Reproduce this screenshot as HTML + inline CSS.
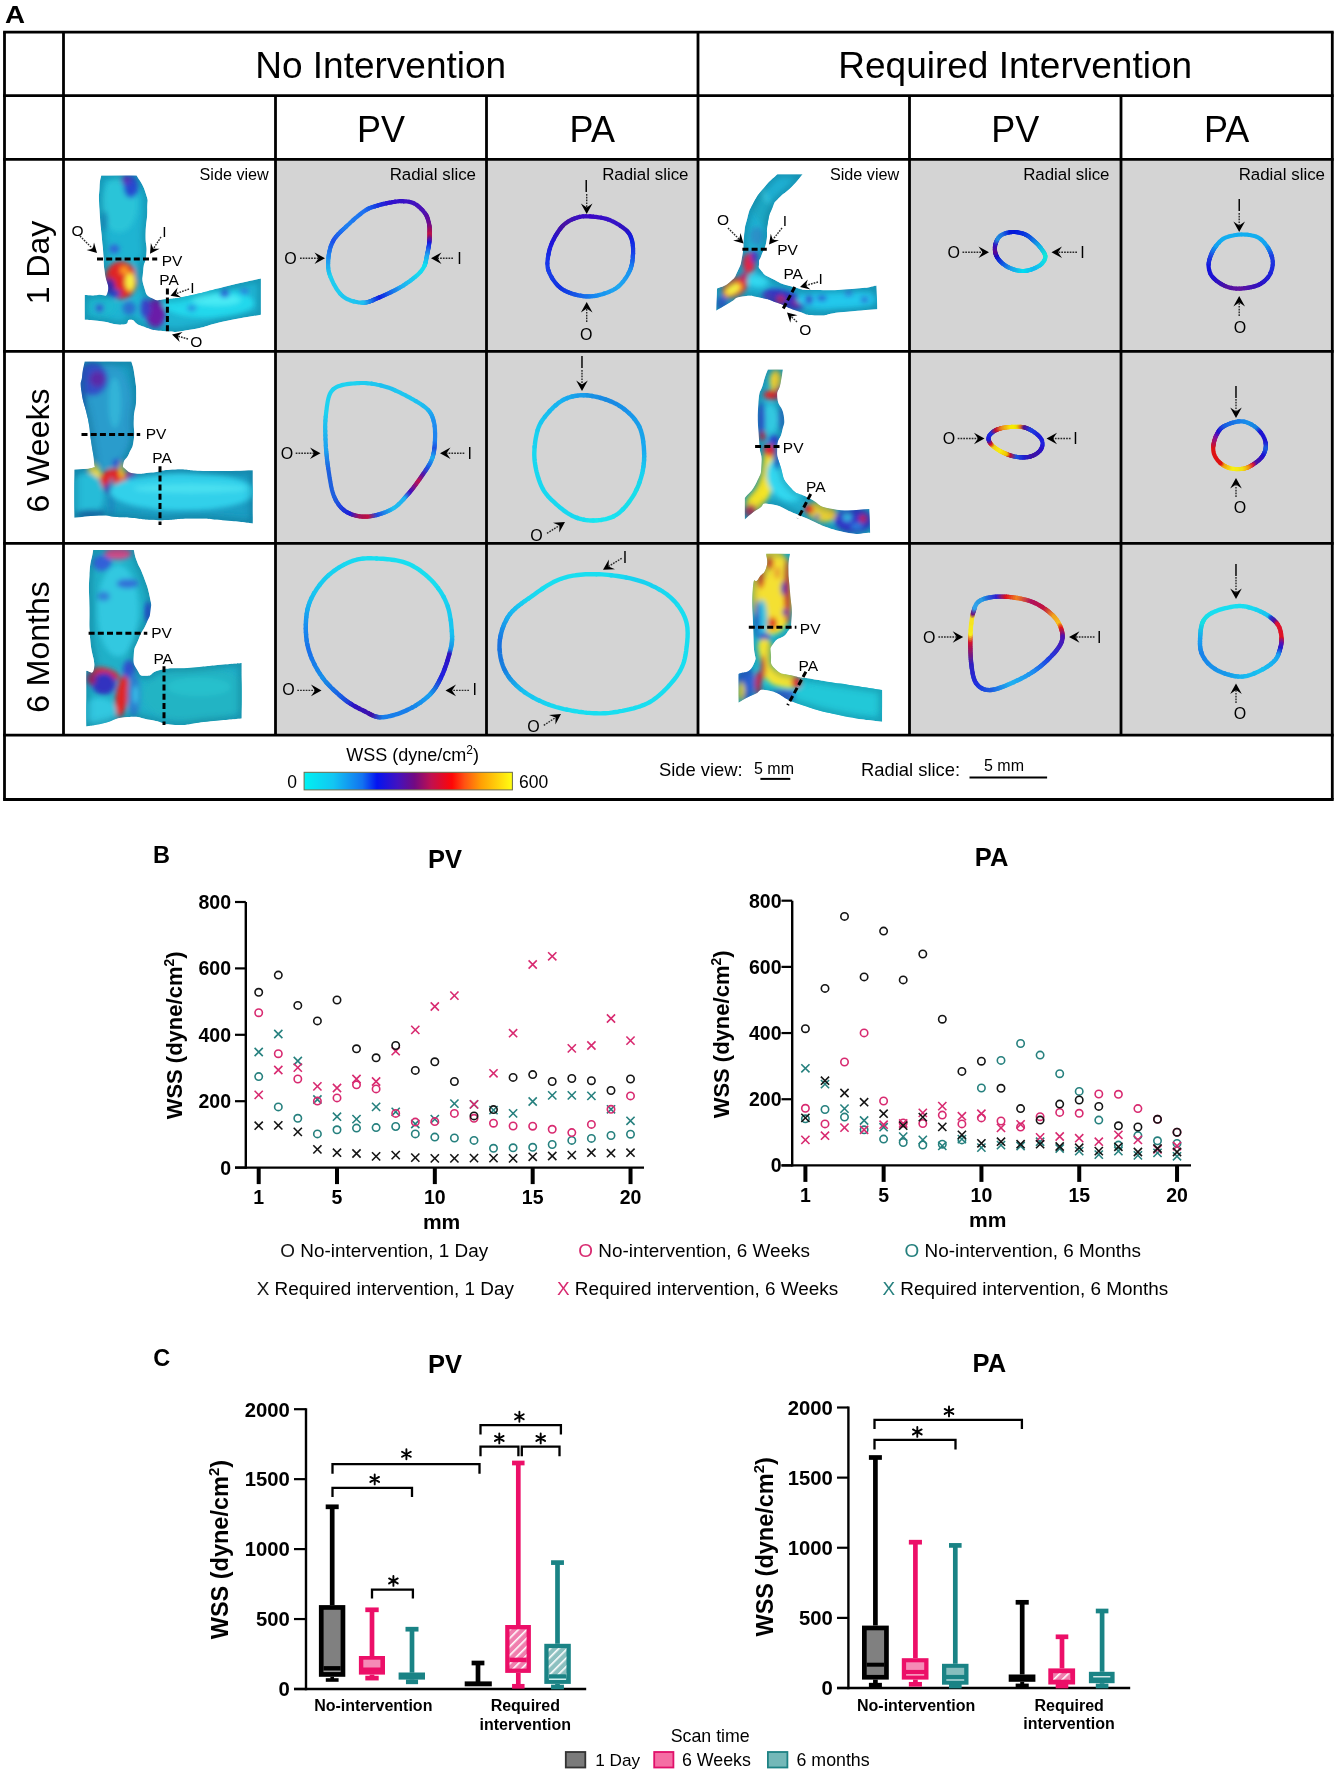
<!DOCTYPE html>
<html><head><meta charset="utf-8"><style>
html,body{margin:0;padding:0;background:#fff;overflow:hidden;width:1336px;height:1772px;}
svg{display:block;font-family:"Liberation Sans", sans-serif;will-change:transform;}
</style></head><body>
<svg width="1336" height="1772" viewBox="0 0 1336 1772">
<rect x="0" y="0" width="1336" height="1772" fill="#fff"/>
<rect x="275.5" y="159.3" width="422.5" height="575.9000000000001" fill="#d4d4d4" stroke="none" stroke-width="0" />
<rect x="909.5" y="159.3" width="422.79999999999995" height="575.9000000000001" fill="#d4d4d4" stroke="none" stroke-width="0" />
<line x1="3.1" y1="32.2" x2="1333.7" y2="32.2" stroke="#000" stroke-width="2.8" />
<line x1="3.1" y1="95.7" x2="1333.7" y2="95.7" stroke="#000" stroke-width="2.8" />
<line x1="3.1" y1="159.3" x2="1333.7" y2="159.3" stroke="#000" stroke-width="2.8" />
<line x1="3.1" y1="351.4" x2="1333.7" y2="351.4" stroke="#000" stroke-width="2.8" />
<line x1="3.1" y1="543.3" x2="1333.7" y2="543.3" stroke="#000" stroke-width="2.8" />
<line x1="3.1" y1="735.2" x2="1333.7" y2="735.2" stroke="#000" stroke-width="2.8" />
<line x1="3.1" y1="799.5" x2="1333.7" y2="799.5" stroke="#000" stroke-width="2.8" />
<line x1="4.5" y1="32.2" x2="4.5" y2="799.5" stroke="#000" stroke-width="2.8" />
<line x1="1332.3" y1="32.2" x2="1332.3" y2="799.5" stroke="#000" stroke-width="2.8" />
<line x1="63.5" y1="32.2" x2="63.5" y2="735.2" stroke="#000" stroke-width="2.8" />
<line x1="698" y1="32.2" x2="698" y2="735.2" stroke="#000" stroke-width="2.8" />
<line x1="275.5" y1="95.7" x2="275.5" y2="735.2" stroke="#000" stroke-width="2.8" />
<line x1="486.5" y1="95.7" x2="486.5" y2="735.2" stroke="#000" stroke-width="2.8" />
<line x1="909.5" y1="95.7" x2="909.5" y2="735.2" stroke="#000" stroke-width="2.8" />
<line x1="1121" y1="95.7" x2="1121" y2="735.2" stroke="#000" stroke-width="2.8" />
<text x="5" y="22.9" font-size="23.5" font-weight="bold" transform="translate(5 0) scale(1.18 1) translate(-5 0)">A</text>
<text x="380.7" y="78" font-size="37" text-anchor="middle" font-weight="normal" fill="#000" >No Intervention</text>
<text x="1015.2" y="78" font-size="37" text-anchor="middle" font-weight="normal" fill="#000" >Required Intervention</text>
<text x="381.0" y="141.5" font-size="36" text-anchor="middle" font-weight="normal" fill="#000" >PV</text>
<text x="592.25" y="141.5" font-size="36" text-anchor="middle" font-weight="normal" fill="#000" >PA</text>
<text x="1015.25" y="141.5" font-size="36" text-anchor="middle" font-weight="normal" fill="#000" >PV</text>
<text x="1226.65" y="141.5" font-size="36" text-anchor="middle" font-weight="normal" fill="#000" >PA</text>
<text x="49" y="262.5" font-size="32" text-anchor="middle" transform="rotate(-90 49 262.5)">1 Day</text>
<text x="49" y="450.5" font-size="32" text-anchor="middle" transform="rotate(-90 49 450.5)">6 Weeks</text>
<text x="49" y="647" font-size="32" text-anchor="middle" transform="rotate(-90 49 647)">6 Months</text>
<text x="268.8" y="179.7" font-size="16.2" text-anchor="end" font-weight="normal" fill="#000" >Side view</text>
<text x="899.2" y="179.7" font-size="16.2" text-anchor="end" font-weight="normal" fill="#000" >Side view</text>
<text x="476" y="179.7" font-size="16.9" text-anchor="end" font-weight="normal" fill="#000" >Radial slice</text>
<text x="688.5" y="179.7" font-size="16.9" text-anchor="end" font-weight="normal" fill="#000" >Radial slice</text>
<text x="1109.5" y="179.7" font-size="16.9" text-anchor="end" font-weight="normal" fill="#000" >Radial slice</text>
<text x="1325" y="179.7" font-size="16.9" text-anchor="end" font-weight="normal" fill="#000" >Radial slice</text>
<defs><linearGradient id="wss" x1="0" x2="1" y1="0" y2="0">
<stop offset="0" stop-color="#00f2f2"/><stop offset="0.14" stop-color="#12c6f2"/>
<stop offset="0.28" stop-color="#1272f0"/><stop offset="0.35" stop-color="#0414f0"/>
<stop offset="0.45" stop-color="#4212c0"/><stop offset="0.53" stop-color="#720a82"/>
<stop offset="0.61" stop-color="#c01050"/><stop offset="0.71" stop-color="#ff0606"/>
<stop offset="0.77" stop-color="#ff5212"/><stop offset="0.85" stop-color="#ffa004"/>
<stop offset="1" stop-color="#ffff12"/></linearGradient></defs>
<rect x="304.1" y="772.3" width="208.3" height="17.6" fill="url(#wss)" stroke="#6b6b4a" stroke-width="1" />
<text x="412.7" y="761.4" font-size="18" text-anchor="middle" font-weight="normal" fill="#000" >WSS (dyne/cm<tspan font-size="12" dy="-7">2</tspan><tspan dy="7">)</tspan></text>
<text x="292" y="787.5" font-size="17.5" text-anchor="middle" font-weight="normal" fill="#000" >0</text>
<text x="533.7" y="787.5" font-size="17.5" text-anchor="middle" font-weight="normal" fill="#000" >600</text>
<text x="658.9" y="775.5" font-size="18.4" text-anchor="start" font-weight="normal" fill="#000" >Side view:</text>
<text x="774" y="774.2" font-size="16" text-anchor="middle" font-weight="normal" fill="#000" >5 mm</text>
<line x1="760.4" y1="778.9" x2="790.3" y2="778.9" stroke="#000" stroke-width="2" />
<text x="861" y="775.5" font-size="18.4" text-anchor="start" font-weight="normal" fill="#000" >Radial slice:</text>
<text x="1004" y="770.8" font-size="16" text-anchor="middle" font-weight="normal" fill="#000" >5 mm</text>
<line x1="969.5" y1="777.4" x2="1047.1" y2="777.4" stroke="#000" stroke-width="2" />
<path d="M401.7,201.2 L402.6,201.2 L403.5,201.3" stroke="#3612c6" stroke-width="4.2" fill="none" stroke-linecap="round" stroke-linejoin="round"/>
<path d="M403.5,201.3 L404.4,201.3 L405.3,201.4 L406.2,201.4 L407.1,201.5 L408.1,201.6 L409.0,201.8 L409.9,202.0" stroke="#3c12c6" stroke-width="4.2" fill="none" stroke-linecap="round" stroke-linejoin="round"/>
<path d="M409.9,202.0 L410.8,202.2 L411.7,202.4 L412.6,202.7 L413.5,203.1" stroke="#3c12c0" stroke-width="4.2" fill="none" stroke-linecap="round" stroke-linejoin="round"/>
<path d="M413.5,203.1 L414.3,203.5 L415.1,204.0 L416.0,204.5 L416.9,205.1" stroke="#4212c0" stroke-width="4.2" fill="none" stroke-linecap="round" stroke-linejoin="round"/>
<path d="M416.9,205.1 L417.7,205.8 L418.6,206.4" stroke="#4212ba" stroke-width="4.2" fill="none" stroke-linecap="round" stroke-linejoin="round"/>
<path d="M418.6,206.4 L419.4,207.2 L420.2,207.9 L421.0,208.7" stroke="#4812ba" stroke-width="4.2" fill="none" stroke-linecap="round" stroke-linejoin="round"/>
<path d="M421.0,208.7 L421.8,209.5 L422.6,210.3" stroke="#4812b4" stroke-width="4.2" fill="none" stroke-linecap="round" stroke-linejoin="round"/>
<path d="M422.6,210.3 L423.3,211.1 L423.9,211.9 L424.5,212.7 L425.1,213.4" stroke="#4e12b4" stroke-width="4.2" fill="none" stroke-linecap="round" stroke-linejoin="round"/>
<path d="M425.1,213.4 L425.6,214.1" stroke="#4e12ae" stroke-width="4.2" fill="none" stroke-linecap="round" stroke-linejoin="round"/>
<path d="M425.6,214.1 L426.1,214.9 L426.5,215.6" stroke="#5412ae" stroke-width="4.2" fill="none" stroke-linecap="round" stroke-linejoin="round"/>
<path d="M426.5,215.6 L426.8,216.4" stroke="#540ca8" stroke-width="4.2" fill="none" stroke-linecap="round" stroke-linejoin="round"/>
<path d="M426.8,216.4 L427.2,217.2" stroke="#5a0ca8" stroke-width="4.2" fill="none" stroke-linecap="round" stroke-linejoin="round"/>
<path d="M427.2,217.2 L427.5,217.9 L427.7,218.7" stroke="#5a0ca2" stroke-width="4.2" fill="none" stroke-linecap="round" stroke-linejoin="round"/>
<path d="M427.7,218.7 L428.0,219.5" stroke="#600ca2" stroke-width="4.2" fill="none" stroke-linecap="round" stroke-linejoin="round"/>
<path d="M428.0,219.5 L428.2,220.2 L428.4,221.0 L428.6,221.8" stroke="#600c9c" stroke-width="4.2" fill="none" stroke-linecap="round" stroke-linejoin="round"/>
<path d="M428.6,221.8 L428.8,222.6 L428.9,223.3" stroke="#660c96" stroke-width="4.2" fill="none" stroke-linecap="round" stroke-linejoin="round"/>
<path d="M428.9,223.3 L429.1,224.1" stroke="#660c90" stroke-width="4.2" fill="none" stroke-linecap="round" stroke-linejoin="round"/>
<path d="M429.1,224.1 L429.2,224.9" stroke="#6c0c90" stroke-width="4.2" fill="none" stroke-linecap="round" stroke-linejoin="round"/>
<path d="M429.2,224.9 L429.4,225.7" stroke="#720c8a" stroke-width="4.2" fill="none" stroke-linecap="round" stroke-linejoin="round"/>
<path d="M429.4,225.7 L429.5,226.4" stroke="#780c84" stroke-width="4.2" fill="none" stroke-linecap="round" stroke-linejoin="round"/>
<path d="M429.5,226.4 L429.5,227.2" stroke="#7e0c7e" stroke-width="4.2" fill="none" stroke-linecap="round" stroke-linejoin="round"/>
<path d="M429.5,227.2 L429.6,228.0" stroke="#840c78" stroke-width="4.2" fill="none" stroke-linecap="round" stroke-linejoin="round"/>
<path d="M429.6,228.0 L429.6,228.8" stroke="#8a0c72" stroke-width="4.2" fill="none" stroke-linecap="round" stroke-linejoin="round"/>
<path d="M429.6,228.8 L429.6,229.6" stroke="#900c6c" stroke-width="4.2" fill="none" stroke-linecap="round" stroke-linejoin="round"/>
<path d="M429.6,229.6 L429.6,230.4" stroke="#960c66" stroke-width="4.2" fill="none" stroke-linecap="round" stroke-linejoin="round"/>
<path d="M429.6,230.4 L429.6,231.2" stroke="#9c0c60" stroke-width="4.2" fill="none" stroke-linecap="round" stroke-linejoin="round"/>
<path d="M429.6,231.2 L429.6,231.9" stroke="#a20c5a" stroke-width="4.2" fill="none" stroke-linecap="round" stroke-linejoin="round"/>
<path d="M429.6,231.9 L429.6,232.7" stroke="#a80c54" stroke-width="4.2" fill="none" stroke-linecap="round" stroke-linejoin="round"/>
<path d="M429.6,232.7 L429.6,233.5" stroke="#ae0c54" stroke-width="4.2" fill="none" stroke-linecap="round" stroke-linejoin="round"/>
<path d="M429.6,233.5 L429.6,234.2" stroke="#b4124e" stroke-width="4.2" fill="none" stroke-linecap="round" stroke-linejoin="round"/>
<path d="M429.6,234.2 L429.6,234.9" stroke="#ba1248" stroke-width="4.2" fill="none" stroke-linecap="round" stroke-linejoin="round"/>
<path d="M429.6,234.9 L429.6,235.6" stroke="#c01242" stroke-width="4.2" fill="none" stroke-linecap="round" stroke-linejoin="round"/>
<path d="M429.6,235.6 L429.6,236.3" stroke="#b4124e" stroke-width="4.2" fill="none" stroke-linecap="round" stroke-linejoin="round"/>
<path d="M429.6,236.3 L429.6,236.9" stroke="#a81254" stroke-width="4.2" fill="none" stroke-linecap="round" stroke-linejoin="round"/>
<path d="M429.6,236.9 L429.6,237.5" stroke="#9c1260" stroke-width="4.2" fill="none" stroke-linecap="round" stroke-linejoin="round"/>
<path d="M429.6,237.5 L429.6,238.1" stroke="#90126c" stroke-width="4.2" fill="none" stroke-linecap="round" stroke-linejoin="round"/>
<path d="M429.6,238.1 L429.5,238.7" stroke="#841278" stroke-width="4.2" fill="none" stroke-linecap="round" stroke-linejoin="round"/>
<path d="M429.5,238.7 L429.5,239.3" stroke="#781284" stroke-width="4.2" fill="none" stroke-linecap="round" stroke-linejoin="round"/>
<path d="M429.5,239.3 L429.5,239.9" stroke="#6c1290" stroke-width="4.2" fill="none" stroke-linecap="round" stroke-linejoin="round"/>
<path d="M429.5,239.9 L429.4,240.6" stroke="#60129c" stroke-width="4.2" fill="none" stroke-linecap="round" stroke-linejoin="round"/>
<path d="M429.4,240.6 L429.4,241.2" stroke="#5418a8" stroke-width="4.2" fill="none" stroke-linecap="round" stroke-linejoin="round"/>
<path d="M429.4,241.2 L429.3,241.8" stroke="#4818b4" stroke-width="4.2" fill="none" stroke-linecap="round" stroke-linejoin="round"/>
<path d="M429.3,241.8 L429.3,242.5" stroke="#3c18c0" stroke-width="4.2" fill="none" stroke-linecap="round" stroke-linejoin="round"/>
<path d="M429.3,242.5 L429.2,243.2" stroke="#3018cc" stroke-width="4.2" fill="none" stroke-linecap="round" stroke-linejoin="round"/>
<path d="M429.2,243.2 L429.1,243.9" stroke="#2418d2" stroke-width="4.2" fill="none" stroke-linecap="round" stroke-linejoin="round"/>
<path d="M429.1,243.9 L429.0,244.7" stroke="#1818de" stroke-width="4.2" fill="none" stroke-linecap="round" stroke-linejoin="round"/>
<path d="M429.0,244.7 L428.9,245.4" stroke="#1824e4" stroke-width="4.2" fill="none" stroke-linecap="round" stroke-linejoin="round"/>
<path d="M428.9,245.4 L428.8,246.2" stroke="#182ae4" stroke-width="4.2" fill="none" stroke-linecap="round" stroke-linejoin="round"/>
<path d="M428.8,246.2 L428.6,247.1" stroke="#1836e4" stroke-width="4.2" fill="none" stroke-linecap="round" stroke-linejoin="round"/>
<path d="M428.6,247.1 L428.5,247.9" stroke="#183ce4" stroke-width="4.2" fill="none" stroke-linecap="round" stroke-linejoin="round"/>
<path d="M428.5,247.9 L428.3,248.8" stroke="#1848e4" stroke-width="4.2" fill="none" stroke-linecap="round" stroke-linejoin="round"/>
<path d="M428.3,248.8 L428.1,249.6" stroke="#1e54e4" stroke-width="4.2" fill="none" stroke-linecap="round" stroke-linejoin="round"/>
<path d="M428.1,249.6 L428.0,250.5" stroke="#1e5aea" stroke-width="4.2" fill="none" stroke-linecap="round" stroke-linejoin="round"/>
<path d="M428.0,250.5 L427.8,251.4" stroke="#1e66ea" stroke-width="4.2" fill="none" stroke-linecap="round" stroke-linejoin="round"/>
<path d="M427.8,251.4 L427.6,252.3" stroke="#1e72ea" stroke-width="4.2" fill="none" stroke-linecap="round" stroke-linejoin="round"/>
<path d="M427.6,252.3 L427.4,253.1" stroke="#1e78ea" stroke-width="4.2" fill="none" stroke-linecap="round" stroke-linejoin="round"/>
<path d="M427.4,253.1 L427.3,254.0" stroke="#1e84ea" stroke-width="4.2" fill="none" stroke-linecap="round" stroke-linejoin="round"/>
<path d="M427.3,254.0 L427.1,254.8" stroke="#1e8af0" stroke-width="4.2" fill="none" stroke-linecap="round" stroke-linejoin="round"/>
<path d="M427.1,254.8 L426.9,255.6" stroke="#1e96f0" stroke-width="4.2" fill="none" stroke-linecap="round" stroke-linejoin="round"/>
<path d="M426.9,255.6 L426.7,256.4 L426.6,257.2" stroke="#1ea2f0" stroke-width="4.2" fill="none" stroke-linecap="round" stroke-linejoin="round"/>
<path d="M426.6,257.2 L426.4,258.0" stroke="#1ea8f0" stroke-width="4.2" fill="none" stroke-linecap="round" stroke-linejoin="round"/>
<path d="M426.4,258.0 L426.3,258.8" stroke="#1eaef0" stroke-width="4.2" fill="none" stroke-linecap="round" stroke-linejoin="round"/>
<path d="M426.3,258.8 L426.2,259.6" stroke="#1eb4f0" stroke-width="4.2" fill="none" stroke-linecap="round" stroke-linejoin="round"/>
<path d="M426.2,259.6 L426.0,260.3" stroke="#18b4f0" stroke-width="4.2" fill="none" stroke-linecap="round" stroke-linejoin="round"/>
<path d="M426.0,260.3 L425.9,261.1" stroke="#18baf0" stroke-width="4.2" fill="none" stroke-linecap="round" stroke-linejoin="round"/>
<path d="M425.9,261.1 L425.7,261.9" stroke="#18c0f0" stroke-width="4.2" fill="none" stroke-linecap="round" stroke-linejoin="round"/>
<path d="M425.7,261.9 L425.5,262.6" stroke="#18c6f0" stroke-width="4.2" fill="none" stroke-linecap="round" stroke-linejoin="round"/>
<path d="M425.5,262.6 L425.3,263.4" stroke="#18ccf0" stroke-width="4.2" fill="none" stroke-linecap="round" stroke-linejoin="round"/>
<path d="M425.3,263.4 L425.1,264.1" stroke="#12ccf0" stroke-width="4.2" fill="none" stroke-linecap="round" stroke-linejoin="round"/>
<path d="M425.1,264.1 L424.8,264.9" stroke="#12d2f0" stroke-width="4.2" fill="none" stroke-linecap="round" stroke-linejoin="round"/>
<path d="M424.8,264.9 L424.5,265.6" stroke="#12d8f0" stroke-width="4.2" fill="none" stroke-linecap="round" stroke-linejoin="round"/>
<path d="M424.5,265.6 L424.2,266.3 L423.8,267.0 L423.5,267.7 L423.1,268.3 L422.7,268.9 L422.3,269.5 L421.9,270.1 L421.4,270.7 L421.0,271.3 L420.4,272.0" stroke="#12def0" stroke-width="4.2" fill="none" stroke-linecap="round" stroke-linejoin="round"/>
<path d="M420.4,272.0 L419.8,272.6 L419.2,273.2 L418.5,273.9 L417.8,274.6 L417.0,275.3 L416.1,276.1 L415.2,276.8" stroke="#18d8f0" stroke-width="4.2" fill="none" stroke-linecap="round" stroke-linejoin="round"/>
<path d="M415.2,276.8 L414.2,277.6 L413.2,278.5" stroke="#18d2f0" stroke-width="4.2" fill="none" stroke-linecap="round" stroke-linejoin="round"/>
<path d="M413.2,278.5 L412.1,279.3 L411.0,280.2" stroke="#18ccf0" stroke-width="4.2" fill="none" stroke-linecap="round" stroke-linejoin="round"/>
<path d="M411.0,280.2 L409.9,281.0 L408.6,281.9" stroke="#1ec6f0" stroke-width="4.2" fill="none" stroke-linecap="round" stroke-linejoin="round"/>
<path d="M408.6,281.9 L407.4,282.8 L406.1,283.6" stroke="#1ec0f0" stroke-width="4.2" fill="none" stroke-linecap="round" stroke-linejoin="round"/>
<path d="M406.1,283.6 L404.8,284.5 L403.5,285.4" stroke="#1ebaf0" stroke-width="4.2" fill="none" stroke-linecap="round" stroke-linejoin="round"/>
<path d="M403.5,285.4 L402.2,286.2 L400.8,287.0" stroke="#1eb4f0" stroke-width="4.2" fill="none" stroke-linecap="round" stroke-linejoin="round"/>
<path d="M400.8,287.0 L399.4,287.8" stroke="#1eaef0" stroke-width="4.2" fill="none" stroke-linecap="round" stroke-linejoin="round"/>
<path d="M399.4,287.8 L397.9,288.6" stroke="#1ea8f0" stroke-width="4.2" fill="none" stroke-linecap="round" stroke-linejoin="round"/>
<path d="M397.9,288.6 L396.3,289.5" stroke="#1e9cf0" stroke-width="4.2" fill="none" stroke-linecap="round" stroke-linejoin="round"/>
<path d="M396.3,289.5 L394.7,290.3" stroke="#1e90ea" stroke-width="4.2" fill="none" stroke-linecap="round" stroke-linejoin="round"/>
<path d="M394.7,290.3 L393.0,291.2" stroke="#1e84ea" stroke-width="4.2" fill="none" stroke-linecap="round" stroke-linejoin="round"/>
<path d="M393.0,291.2 L391.3,292.0" stroke="#187eea" stroke-width="4.2" fill="none" stroke-linecap="round" stroke-linejoin="round"/>
<path d="M391.3,292.0 L389.6,292.8" stroke="#1872ea" stroke-width="4.2" fill="none" stroke-linecap="round" stroke-linejoin="round"/>
<path d="M389.6,292.8 L387.9,293.6" stroke="#1866ea" stroke-width="4.2" fill="none" stroke-linecap="round" stroke-linejoin="round"/>
<path d="M387.9,293.6 L386.2,294.4" stroke="#1860e4" stroke-width="4.2" fill="none" stroke-linecap="round" stroke-linejoin="round"/>
<path d="M386.2,294.4 L384.5,295.2" stroke="#1854e4" stroke-width="4.2" fill="none" stroke-linecap="round" stroke-linejoin="round"/>
<path d="M384.5,295.2 L382.9,295.9" stroke="#1248e4" stroke-width="4.2" fill="none" stroke-linecap="round" stroke-linejoin="round"/>
<path d="M382.9,295.9 L381.3,296.6" stroke="#123ce4" stroke-width="4.2" fill="none" stroke-linecap="round" stroke-linejoin="round"/>
<path d="M381.3,296.6 L379.8,297.2" stroke="#1236e4" stroke-width="4.2" fill="none" stroke-linecap="round" stroke-linejoin="round"/>
<path d="M379.8,297.2 L378.4,297.8" stroke="#122ae4" stroke-width="4.2" fill="none" stroke-linecap="round" stroke-linejoin="round"/>
<path d="M378.4,297.8 L377.1,298.4" stroke="#121ede" stroke-width="4.2" fill="none" stroke-linecap="round" stroke-linejoin="round"/>
<path d="M377.1,298.4 L375.8,298.9" stroke="#122ae4" stroke-width="4.2" fill="none" stroke-linecap="round" stroke-linejoin="round"/>
<path d="M375.8,298.9 L374.6,299.4" stroke="#1236e4" stroke-width="4.2" fill="none" stroke-linecap="round" stroke-linejoin="round"/>
<path d="M374.6,299.4 L373.4,300.0" stroke="#1242e4" stroke-width="4.2" fill="none" stroke-linecap="round" stroke-linejoin="round"/>
<path d="M373.4,300.0 L372.3,300.5" stroke="#124ee4" stroke-width="4.2" fill="none" stroke-linecap="round" stroke-linejoin="round"/>
<path d="M372.3,300.5 L371.2,300.9" stroke="#185ae4" stroke-width="4.2" fill="none" stroke-linecap="round" stroke-linejoin="round"/>
<path d="M371.2,300.9 L370.1,301.3" stroke="#1866e4" stroke-width="4.2" fill="none" stroke-linecap="round" stroke-linejoin="round"/>
<path d="M370.1,301.3 L369.1,301.7" stroke="#1872ea" stroke-width="4.2" fill="none" stroke-linecap="round" stroke-linejoin="round"/>
<path d="M369.1,301.7 L368.0,302.0" stroke="#187eea" stroke-width="4.2" fill="none" stroke-linecap="round" stroke-linejoin="round"/>
<path d="M368.0,302.0 L366.9,302.3" stroke="#1884ea" stroke-width="4.2" fill="none" stroke-linecap="round" stroke-linejoin="round"/>
<path d="M366.9,302.3 L365.8,302.5" stroke="#1e90ea" stroke-width="4.2" fill="none" stroke-linecap="round" stroke-linejoin="round"/>
<path d="M365.8,302.5 L364.6,302.7" stroke="#1e9cea" stroke-width="4.2" fill="none" stroke-linecap="round" stroke-linejoin="round"/>
<path d="M364.6,302.7 L363.5,302.7" stroke="#1ea8f0" stroke-width="4.2" fill="none" stroke-linecap="round" stroke-linejoin="round"/>
<path d="M363.5,302.7 L362.2,302.7" stroke="#1eb4f0" stroke-width="4.2" fill="none" stroke-linecap="round" stroke-linejoin="round"/>
<path d="M362.2,302.7 L360.9,302.6 L359.5,302.5 L358.1,302.3 L356.6,302.0 L355.1,301.7 L353.6,301.4" stroke="#1ec0f0" stroke-width="4.2" fill="none" stroke-linecap="round" stroke-linejoin="round"/>
<path d="M353.6,301.4 L352.1,301.0 L350.6,300.5 L349.2,299.9 L347.7,299.3 L346.3,298.6 L345.0,297.8 L343.7,296.9 L342.5,296.0 L341.4,294.9 L340.2,293.8" stroke="#1ec6f0" stroke-width="4.2" fill="none" stroke-linecap="round" stroke-linejoin="round"/>
<path d="M340.2,293.8 L339.1,292.4 L338.1,291.0 L337.0,289.5 L336.0,288.0 L335.1,286.3 L334.1,284.7 L333.3,283.1 L332.5,281.4 L331.7,279.8 L331.1,278.2 L330.4,276.7" stroke="#1eccf0" stroke-width="4.2" fill="none" stroke-linecap="round" stroke-linejoin="round"/>
<path d="M330.4,276.7 L329.9,275.3 L329.4,273.9" stroke="#1ed2f0" stroke-width="4.2" fill="none" stroke-linecap="round" stroke-linejoin="round"/>
<path d="M329.4,273.9 L329.1,272.6" stroke="#1eccf0" stroke-width="4.2" fill="none" stroke-linecap="round" stroke-linejoin="round"/>
<path d="M329.1,272.6 L328.7,271.3" stroke="#1ec6f0" stroke-width="4.2" fill="none" stroke-linecap="round" stroke-linejoin="round"/>
<path d="M328.7,271.3 L328.5,270.0 L328.3,268.7" stroke="#1ec0f0" stroke-width="4.2" fill="none" stroke-linecap="round" stroke-linejoin="round"/>
<path d="M328.3,268.7 L328.2,267.4" stroke="#1ebaf0" stroke-width="4.2" fill="none" stroke-linecap="round" stroke-linejoin="round"/>
<path d="M328.2,267.4 L328.1,266.1" stroke="#1eb4f0" stroke-width="4.2" fill="none" stroke-linecap="round" stroke-linejoin="round"/>
<path d="M328.1,266.1 L328.1,264.9 L328.1,263.6" stroke="#1eaef0" stroke-width="4.2" fill="none" stroke-linecap="round" stroke-linejoin="round"/>
<path d="M328.1,263.6 L328.1,262.4" stroke="#1ea8f0" stroke-width="4.2" fill="none" stroke-linecap="round" stroke-linejoin="round"/>
<path d="M328.1,262.4 L328.2,261.1" stroke="#1ea2f0" stroke-width="4.2" fill="none" stroke-linecap="round" stroke-linejoin="round"/>
<path d="M328.2,261.1 L328.3,259.9 L328.4,258.6" stroke="#1e9cf0" stroke-width="4.2" fill="none" stroke-linecap="round" stroke-linejoin="round"/>
<path d="M328.4,258.6 L328.5,257.4" stroke="#1e96f0" stroke-width="4.2" fill="none" stroke-linecap="round" stroke-linejoin="round"/>
<path d="M328.5,257.4 L328.6,256.1" stroke="#1e90f0" stroke-width="4.2" fill="none" stroke-linecap="round" stroke-linejoin="round"/>
<path d="M328.6,256.1 L328.8,254.9" stroke="#1e8af0" stroke-width="4.2" fill="none" stroke-linecap="round" stroke-linejoin="round"/>
<path d="M328.8,254.9 L329.0,253.6 L329.2,252.4" stroke="#1e84f0" stroke-width="4.2" fill="none" stroke-linecap="round" stroke-linejoin="round"/>
<path d="M329.2,252.4 L329.5,251.1" stroke="#1e7ef0" stroke-width="4.2" fill="none" stroke-linecap="round" stroke-linejoin="round"/>
<path d="M329.5,251.1 L329.8,249.9" stroke="#1e78f0" stroke-width="4.2" fill="none" stroke-linecap="round" stroke-linejoin="round"/>
<path d="M329.8,249.9 L330.1,248.6 L330.4,247.4" stroke="#1e72ea" stroke-width="4.2" fill="none" stroke-linecap="round" stroke-linejoin="round"/>
<path d="M330.4,247.4 L330.8,246.2" stroke="#1e6cea" stroke-width="4.2" fill="none" stroke-linecap="round" stroke-linejoin="round"/>
<path d="M330.8,246.2 L331.3,245.0" stroke="#1e66ea" stroke-width="4.2" fill="none" stroke-linecap="round" stroke-linejoin="round"/>
<path d="M331.3,245.0 L331.8,243.8 L332.3,242.6" stroke="#1e60ea" stroke-width="4.2" fill="none" stroke-linecap="round" stroke-linejoin="round"/>
<path d="M332.3,242.6 L332.9,241.4" stroke="#1e5aea" stroke-width="4.2" fill="none" stroke-linecap="round" stroke-linejoin="round"/>
<path d="M332.9,241.4 L333.5,240.3" stroke="#1e54ea" stroke-width="4.2" fill="none" stroke-linecap="round" stroke-linejoin="round"/>
<path d="M333.5,240.3 L334.2,239.2" stroke="#1e4eea" stroke-width="4.2" fill="none" stroke-linecap="round" stroke-linejoin="round"/>
<path d="M334.2,239.2 L334.9,238.1 L335.7,237.1" stroke="#1e54ea" stroke-width="4.2" fill="none" stroke-linecap="round" stroke-linejoin="round"/>
<path d="M335.7,237.1 L336.6,236.0" stroke="#1e5aea" stroke-width="4.2" fill="none" stroke-linecap="round" stroke-linejoin="round"/>
<path d="M336.6,236.0 L337.5,235.0 L338.4,234.0" stroke="#1e60ea" stroke-width="4.2" fill="none" stroke-linecap="round" stroke-linejoin="round"/>
<path d="M338.4,234.0 L339.4,233.0 L340.4,232.0" stroke="#1e66ea" stroke-width="4.2" fill="none" stroke-linecap="round" stroke-linejoin="round"/>
<path d="M340.4,232.0 L341.4,231.0" stroke="#1e6cea" stroke-width="4.2" fill="none" stroke-linecap="round" stroke-linejoin="round"/>
<path d="M341.4,231.0 L342.5,230.0" stroke="#1e6cf0" stroke-width="4.2" fill="none" stroke-linecap="round" stroke-linejoin="round"/>
<path d="M342.5,230.0 L343.6,229.0" stroke="#1e72f0" stroke-width="4.2" fill="none" stroke-linecap="round" stroke-linejoin="round"/>
<path d="M343.6,229.0 L344.7,228.0 L345.8,226.9" stroke="#1e78f0" stroke-width="4.2" fill="none" stroke-linecap="round" stroke-linejoin="round"/>
<path d="M345.8,226.9 L346.9,225.9 L348.1,224.8 L349.3,223.7 L350.5,222.5 L351.8,221.3 L353.2,220.1" stroke="#1e7ef0" stroke-width="4.2" fill="none" stroke-linecap="round" stroke-linejoin="round"/>
<path d="M353.2,220.1 L354.5,218.9 L355.9,217.7 L357.3,216.6 L358.6,215.4 L360.0,214.4" stroke="#1e78f0" stroke-width="4.2" fill="none" stroke-linecap="round" stroke-linejoin="round"/>
<path d="M360.0,214.4 L361.3,213.3 L362.5,212.4 L363.7,211.5 L364.9,210.7 L366.0,210.0" stroke="#1e72f0" stroke-width="4.2" fill="none" stroke-linecap="round" stroke-linejoin="round"/>
<path d="M366.0,210.0 L367.1,209.4" stroke="#1e6cf0" stroke-width="4.2" fill="none" stroke-linecap="round" stroke-linejoin="round"/>
<path d="M367.1,209.4 L368.1,208.8" stroke="#1e66f0" stroke-width="4.2" fill="none" stroke-linecap="round" stroke-linejoin="round"/>
<path d="M368.1,208.8 L369.1,208.4" stroke="#1e66ea" stroke-width="4.2" fill="none" stroke-linecap="round" stroke-linejoin="round"/>
<path d="M369.1,208.4 L370.1,207.9" stroke="#1860ea" stroke-width="4.2" fill="none" stroke-linecap="round" stroke-linejoin="round"/>
<path d="M370.1,207.9 L371.1,207.6 L372.0,207.2" stroke="#185aea" stroke-width="4.2" fill="none" stroke-linecap="round" stroke-linejoin="round"/>
<path d="M372.0,207.2 L373.0,206.9" stroke="#1854ea" stroke-width="4.2" fill="none" stroke-linecap="round" stroke-linejoin="round"/>
<path d="M373.0,206.9 L373.9,206.6 L374.8,206.4" stroke="#184ee4" stroke-width="4.2" fill="none" stroke-linecap="round" stroke-linejoin="round"/>
<path d="M374.8,206.4 L375.7,206.1" stroke="#1848e4" stroke-width="4.2" fill="none" stroke-linecap="round" stroke-linejoin="round"/>
<path d="M375.7,206.1 L376.6,205.8 L377.5,205.6" stroke="#1842e4" stroke-width="4.2" fill="none" stroke-linecap="round" stroke-linejoin="round"/>
<path d="M377.5,205.6 L378.4,205.3" stroke="#183ce4" stroke-width="4.2" fill="none" stroke-linecap="round" stroke-linejoin="round"/>
<path d="M378.4,205.3 L379.3,205.0 L380.2,204.8" stroke="#1836de" stroke-width="4.2" fill="none" stroke-linecap="round" stroke-linejoin="round"/>
<path d="M380.2,204.8 L381.0,204.5 L381.9,204.3" stroke="#1e30de" stroke-width="4.2" fill="none" stroke-linecap="round" stroke-linejoin="round"/>
<path d="M381.9,204.3 L382.7,204.1" stroke="#1e2ade" stroke-width="4.2" fill="none" stroke-linecap="round" stroke-linejoin="round"/>
<path d="M382.7,204.1 L383.5,203.9" stroke="#1e2ad8" stroke-width="4.2" fill="none" stroke-linecap="round" stroke-linejoin="round"/>
<path d="M383.5,203.9 L384.4,203.7 L385.2,203.5 L386.0,203.4" stroke="#2424d8" stroke-width="4.2" fill="none" stroke-linecap="round" stroke-linejoin="round"/>
<path d="M386.0,203.4 L386.8,203.2" stroke="#2a1ed8" stroke-width="4.2" fill="none" stroke-linecap="round" stroke-linejoin="round"/>
<path d="M386.8,203.2 L387.6,203.0" stroke="#2a1ed2" stroke-width="4.2" fill="none" stroke-linecap="round" stroke-linejoin="round"/>
<path d="M387.6,203.0 L388.4,202.9 L389.3,202.7" stroke="#2a18d2" stroke-width="4.2" fill="none" stroke-linecap="round" stroke-linejoin="round"/>
<path d="M389.3,202.7 L390.1,202.6 L390.9,202.5 L391.8,202.3" stroke="#3012d2" stroke-width="4.2" fill="none" stroke-linecap="round" stroke-linejoin="round"/>
<path d="M391.8,202.3 L392.6,202.1 L393.4,202.0 L394.2,201.9 L395.0,201.7" stroke="#3012cc" stroke-width="4.2" fill="none" stroke-linecap="round" stroke-linejoin="round"/>
<path d="M395.0,201.7 L395.8,201.6 L396.7,201.5 L397.5,201.4 L398.3,201.3 L399.1,201.2 L400.0,201.2 L400.8,201.2" stroke="#3612cc" stroke-width="4.2" fill="none" stroke-linecap="round" stroke-linejoin="round"/>
<path d="M400.8,201.2 L401.7,201.2" stroke="#3612c6" stroke-width="4.2" fill="none" stroke-linecap="round" stroke-linejoin="round"/>
<line x1="300.0" y1="258.2" x2="318.5" y2="258.2" stroke="#2a2a2a" stroke-width="1.4" stroke-dasharray="1.7 1.1"/>
<path d="M325.0,258.2 L314.5,264.0 L318.5,258.2 L314.5,252.4 Z" fill="#000"/>
<text x="290.4" y="263.9" font-size="16" text-anchor="middle" font-weight="normal" fill="#000" >O</text>
<line x1="453.0" y1="258.2" x2="437.5" y2="258.2" stroke="#2a2a2a" stroke-width="1.4" stroke-dasharray="1.7 1.1"/>
<path d="M431.0,258.2 L441.5,252.4 L437.5,258.2 L441.5,264.0 Z" fill="#000"/>
<text x="459.5" y="263.9" font-size="16" text-anchor="middle" font-weight="normal" fill="#000" >I</text>
<path d="M591.0,216.5 L592.1,216.6 L593.3,216.7" stroke="#3c06c6" stroke-width="4.2" fill="none" stroke-linecap="round" stroke-linejoin="round"/>
<path d="M593.3,216.7 L594.6,216.8 L595.9,216.9 L597.2,217.1 L598.5,217.3 L599.8,217.5 L601.2,217.7" stroke="#3c0cc6" stroke-width="4.2" fill="none" stroke-linecap="round" stroke-linejoin="round"/>
<path d="M601.2,217.7 L602.6,218.0 L603.9,218.3 L605.2,218.6 L606.6,218.9 L607.8,219.4" stroke="#360cc6" stroke-width="4.2" fill="none" stroke-linecap="round" stroke-linejoin="round"/>
<path d="M607.8,219.4 L609.1,219.8 L610.4,220.3 L611.6,220.9 L612.9,221.5 L614.2,222.1 L615.5,222.8 L616.8,223.6 L618.1,224.3 L619.3,225.1 L620.5,225.9" stroke="#3612c6" stroke-width="4.2" fill="none" stroke-linecap="round" stroke-linejoin="round"/>
<path d="M620.5,225.9 L621.7,226.7 L622.8,227.5 L623.8,228.2 L624.7,229.0 L625.6,229.7 L626.4,230.4 L627.1,231.1" stroke="#3012c0" stroke-width="4.2" fill="none" stroke-linecap="round" stroke-linejoin="round"/>
<path d="M627.1,231.1 L627.7,231.7 L628.2,232.4" stroke="#2a12c6" stroke-width="4.2" fill="none" stroke-linecap="round" stroke-linejoin="round"/>
<path d="M628.2,232.4 L628.7,233.0" stroke="#2412cc" stroke-width="4.2" fill="none" stroke-linecap="round" stroke-linejoin="round"/>
<path d="M628.7,233.0 L629.2,233.7 L629.6,234.3" stroke="#2418cc" stroke-width="4.2" fill="none" stroke-linecap="round" stroke-linejoin="round"/>
<path d="M629.6,234.3 L630.0,235.0 L630.3,235.7 L630.6,236.4" stroke="#1e18d2" stroke-width="4.2" fill="none" stroke-linecap="round" stroke-linejoin="round"/>
<path d="M630.6,236.4 L630.9,237.2 L631.2,237.9" stroke="#181ed8" stroke-width="4.2" fill="none" stroke-linecap="round" stroke-linejoin="round"/>
<path d="M631.2,237.9 L631.4,238.7 L631.7,239.6 L632.0,240.5" stroke="#121ede" stroke-width="4.2" fill="none" stroke-linecap="round" stroke-linejoin="round"/>
<path d="M632.0,240.5 L632.2,241.4" stroke="#1224de" stroke-width="4.2" fill="none" stroke-linecap="round" stroke-linejoin="round"/>
<path d="M632.2,241.4 L632.4,242.4 L632.6,243.4" stroke="#1224e4" stroke-width="4.2" fill="none" stroke-linecap="round" stroke-linejoin="round"/>
<path d="M632.6,243.4 L632.7,244.5 L632.8,245.5" stroke="#122ae4" stroke-width="4.2" fill="none" stroke-linecap="round" stroke-linejoin="round"/>
<path d="M632.8,245.5 L632.9,246.6 L633.0,247.7 L633.1,248.8" stroke="#1230e4" stroke-width="4.2" fill="none" stroke-linecap="round" stroke-linejoin="round"/>
<path d="M633.1,248.8 L633.1,249.9 L633.1,251.0" stroke="#1836e4" stroke-width="4.2" fill="none" stroke-linecap="round" stroke-linejoin="round"/>
<path d="M633.1,251.0 L633.1,252.2 L633.1,253.3" stroke="#183ce4" stroke-width="4.2" fill="none" stroke-linecap="round" stroke-linejoin="round"/>
<path d="M633.1,253.3 L633.0,254.4" stroke="#183cea" stroke-width="4.2" fill="none" stroke-linecap="round" stroke-linejoin="round"/>
<path d="M633.0,254.4 L632.9,255.5" stroke="#1842ea" stroke-width="4.2" fill="none" stroke-linecap="round" stroke-linejoin="round"/>
<path d="M632.9,255.5 L632.8,256.7" stroke="#1848ea" stroke-width="4.2" fill="none" stroke-linecap="round" stroke-linejoin="round"/>
<path d="M632.8,256.7 L632.8,257.8" stroke="#184eea" stroke-width="4.2" fill="none" stroke-linecap="round" stroke-linejoin="round"/>
<path d="M632.8,257.8 L632.7,259.0 L632.5,260.2" stroke="#1854ea" stroke-width="4.2" fill="none" stroke-linecap="round" stroke-linejoin="round"/>
<path d="M632.5,260.2 L632.4,261.4" stroke="#185aea" stroke-width="4.2" fill="none" stroke-linecap="round" stroke-linejoin="round"/>
<path d="M632.4,261.4 L632.2,262.6" stroke="#1860ea" stroke-width="4.2" fill="none" stroke-linecap="round" stroke-linejoin="round"/>
<path d="M632.2,262.6 L632.0,263.7" stroke="#1866ea" stroke-width="4.2" fill="none" stroke-linecap="round" stroke-linejoin="round"/>
<path d="M632.0,263.7 L631.7,264.9" stroke="#186cea" stroke-width="4.2" fill="none" stroke-linecap="round" stroke-linejoin="round"/>
<path d="M631.7,264.9 L631.4,266.1" stroke="#1872f0" stroke-width="4.2" fill="none" stroke-linecap="round" stroke-linejoin="round"/>
<path d="M631.4,266.1 L631.1,267.3" stroke="#1878f0" stroke-width="4.2" fill="none" stroke-linecap="round" stroke-linejoin="round"/>
<path d="M631.1,267.3 L630.7,268.5" stroke="#187ef0" stroke-width="4.2" fill="none" stroke-linecap="round" stroke-linejoin="round"/>
<path d="M630.7,268.5 L630.2,269.7" stroke="#1884f0" stroke-width="4.2" fill="none" stroke-linecap="round" stroke-linejoin="round"/>
<path d="M630.2,269.7 L629.7,270.9" stroke="#188af0" stroke-width="4.2" fill="none" stroke-linecap="round" stroke-linejoin="round"/>
<path d="M629.7,270.9 L629.1,272.1 L628.5,273.3" stroke="#1890f0" stroke-width="4.2" fill="none" stroke-linecap="round" stroke-linejoin="round"/>
<path d="M628.5,273.3 L627.8,274.6 L627.1,275.8 L626.3,277.1 L625.4,278.4" stroke="#1896f0" stroke-width="4.2" fill="none" stroke-linecap="round" stroke-linejoin="round"/>
<path d="M625.4,278.4 L624.6,279.6 L623.7,280.8 L622.7,282.0" stroke="#1e9cf0" stroke-width="4.2" fill="none" stroke-linecap="round" stroke-linejoin="round"/>
<path d="M622.7,282.0 L621.7,283.2 L620.7,284.3 L619.6,285.4 L618.5,286.4" stroke="#1ea2f0" stroke-width="4.2" fill="none" stroke-linecap="round" stroke-linejoin="round"/>
<path d="M618.5,286.4 L617.3,287.3 L616.1,288.2 L614.8,289.0" stroke="#1ea8f0" stroke-width="4.2" fill="none" stroke-linecap="round" stroke-linejoin="round"/>
<path d="M614.8,289.0 L613.4,289.8 L612.0,290.5 L610.5,291.2 L609.0,291.9" stroke="#1ea2f0" stroke-width="4.2" fill="none" stroke-linecap="round" stroke-linejoin="round"/>
<path d="M609.0,291.9 L607.5,292.5 L605.9,293.1 L604.3,293.6" stroke="#1e9cf0" stroke-width="4.2" fill="none" stroke-linecap="round" stroke-linejoin="round"/>
<path d="M604.3,293.6 L602.8,294.1 L601.2,294.5 L599.7,294.9 L598.2,295.3" stroke="#1896f0" stroke-width="4.2" fill="none" stroke-linecap="round" stroke-linejoin="round"/>
<path d="M598.2,295.3 L596.8,295.6 L595.4,295.9" stroke="#1890f0" stroke-width="4.2" fill="none" stroke-linecap="round" stroke-linejoin="round"/>
<path d="M595.4,295.9 L594.0,296.1 L592.6,296.2" stroke="#188af0" stroke-width="4.2" fill="none" stroke-linecap="round" stroke-linejoin="round"/>
<path d="M592.6,296.2 L591.2,296.3 L589.9,296.4" stroke="#1884f0" stroke-width="4.2" fill="none" stroke-linecap="round" stroke-linejoin="round"/>
<path d="M589.9,296.4 L588.5,296.4" stroke="#187ef0" stroke-width="4.2" fill="none" stroke-linecap="round" stroke-linejoin="round"/>
<path d="M588.5,296.4 L587.1,296.4" stroke="#187eea" stroke-width="4.2" fill="none" stroke-linecap="round" stroke-linejoin="round"/>
<path d="M587.1,296.4 L585.8,296.4" stroke="#1878ea" stroke-width="4.2" fill="none" stroke-linecap="round" stroke-linejoin="round"/>
<path d="M585.8,296.4 L584.5,296.3 L583.1,296.1" stroke="#1872ea" stroke-width="4.2" fill="none" stroke-linecap="round" stroke-linejoin="round"/>
<path d="M583.1,296.1 L581.8,295.9 L580.5,295.7" stroke="#186cea" stroke-width="4.2" fill="none" stroke-linecap="round" stroke-linejoin="round"/>
<path d="M580.5,295.7 L579.1,295.5 L577.8,295.2" stroke="#1866ea" stroke-width="4.2" fill="none" stroke-linecap="round" stroke-linejoin="round"/>
<path d="M577.8,295.2 L576.5,294.9" stroke="#1860ea" stroke-width="4.2" fill="none" stroke-linecap="round" stroke-linejoin="round"/>
<path d="M576.5,294.9 L575.1,294.5" stroke="#185aea" stroke-width="4.2" fill="none" stroke-linecap="round" stroke-linejoin="round"/>
<path d="M575.1,294.5 L573.7,294.2" stroke="#185ae4" stroke-width="4.2" fill="none" stroke-linecap="round" stroke-linejoin="round"/>
<path d="M573.7,294.2 L572.4,293.7 L571.0,293.3" stroke="#1854e4" stroke-width="4.2" fill="none" stroke-linecap="round" stroke-linejoin="round"/>
<path d="M571.0,293.3 L569.6,292.8" stroke="#184ee4" stroke-width="4.2" fill="none" stroke-linecap="round" stroke-linejoin="round"/>
<path d="M569.6,292.8 L568.3,292.2" stroke="#124ee4" stroke-width="4.2" fill="none" stroke-linecap="round" stroke-linejoin="round"/>
<path d="M568.3,292.2 L566.9,291.7" stroke="#1248e4" stroke-width="4.2" fill="none" stroke-linecap="round" stroke-linejoin="round"/>
<path d="M566.9,291.7 L565.6,291.1 L564.3,290.4" stroke="#1242e4" stroke-width="4.2" fill="none" stroke-linecap="round" stroke-linejoin="round"/>
<path d="M564.3,290.4 L563.1,289.7 L561.9,288.9" stroke="#123ce4" stroke-width="4.2" fill="none" stroke-linecap="round" stroke-linejoin="round"/>
<path d="M561.9,288.9 L560.8,288.1" stroke="#1236e4" stroke-width="4.2" fill="none" stroke-linecap="round" stroke-linejoin="round"/>
<path d="M560.8,288.1 L559.7,287.3" stroke="#1236de" stroke-width="4.2" fill="none" stroke-linecap="round" stroke-linejoin="round"/>
<path d="M559.7,287.3 L558.7,286.4 L557.7,285.4" stroke="#1230de" stroke-width="4.2" fill="none" stroke-linecap="round" stroke-linejoin="round"/>
<path d="M557.7,285.4 L556.7,284.3" stroke="#1230e4" stroke-width="4.2" fill="none" stroke-linecap="round" stroke-linejoin="round"/>
<path d="M556.7,284.3 L555.7,283.2 L554.8,282.0 L553.9,280.8 L553.0,279.5 L552.2,278.3" stroke="#1236e4" stroke-width="4.2" fill="none" stroke-linecap="round" stroke-linejoin="round"/>
<path d="M552.2,278.3 L551.5,277.0" stroke="#123ce4" stroke-width="4.2" fill="none" stroke-linecap="round" stroke-linejoin="round"/>
<path d="M551.5,277.0 L550.8,275.7 L550.1,274.5 L549.6,273.2 L549.0,272.0" stroke="#183ce4" stroke-width="4.2" fill="none" stroke-linecap="round" stroke-linejoin="round"/>
<path d="M549.0,272.0 L548.6,270.9" stroke="#183cea" stroke-width="4.2" fill="none" stroke-linecap="round" stroke-linejoin="round"/>
<path d="M548.6,270.9 L548.2,269.8" stroke="#1842ea" stroke-width="4.2" fill="none" stroke-linecap="round" stroke-linejoin="round"/>
<path d="M548.2,269.8 L547.9,268.7 L547.7,267.6 L547.6,266.6 L547.5,265.5 L547.4,264.4 L547.4,263.4" stroke="#183cea" stroke-width="4.2" fill="none" stroke-linecap="round" stroke-linejoin="round"/>
<path d="M547.4,263.4 L547.4,262.4 L547.5,261.3 L547.6,260.3 L547.7,259.2 L547.9,258.2" stroke="#1836ea" stroke-width="4.2" fill="none" stroke-linecap="round" stroke-linejoin="round"/>
<path d="M547.9,258.2 L548.0,257.1 L548.2,256.0 L548.4,254.9" stroke="#1830ea" stroke-width="4.2" fill="none" stroke-linecap="round" stroke-linejoin="round"/>
<path d="M548.4,254.9 L548.6,253.8" stroke="#1830e4" stroke-width="4.2" fill="none" stroke-linecap="round" stroke-linejoin="round"/>
<path d="M548.6,253.8 L548.8,252.7 L549.0,251.6" stroke="#182ae4" stroke-width="4.2" fill="none" stroke-linecap="round" stroke-linejoin="round"/>
<path d="M549.0,251.6 L549.3,250.5 L549.6,249.4" stroke="#1824e4" stroke-width="4.2" fill="none" stroke-linecap="round" stroke-linejoin="round"/>
<path d="M549.6,249.4 L550.0,248.2" stroke="#1e24e4" stroke-width="4.2" fill="none" stroke-linecap="round" stroke-linejoin="round"/>
<path d="M550.0,248.2 L550.3,247.1 L550.7,246.0 L551.1,244.9" stroke="#1e1ede" stroke-width="4.2" fill="none" stroke-linecap="round" stroke-linejoin="round"/>
<path d="M551.1,244.9 L551.6,243.8 L552.0,242.6" stroke="#1e18de" stroke-width="4.2" fill="none" stroke-linecap="round" stroke-linejoin="round"/>
<path d="M552.0,242.6 L552.6,241.5 L553.1,240.4 L553.7,239.3" stroke="#1e12d8" stroke-width="4.2" fill="none" stroke-linecap="round" stroke-linejoin="round"/>
<path d="M553.7,239.3 L554.3,238.1 L554.9,236.9" stroke="#2412d2" stroke-width="4.2" fill="none" stroke-linecap="round" stroke-linejoin="round"/>
<path d="M554.9,236.9 L555.6,235.7" stroke="#2a12cc" stroke-width="4.2" fill="none" stroke-linecap="round" stroke-linejoin="round"/>
<path d="M555.6,235.7 L556.4,234.5" stroke="#2a12c6" stroke-width="4.2" fill="none" stroke-linecap="round" stroke-linejoin="round"/>
<path d="M556.4,234.5 L557.1,233.3" stroke="#3012c6" stroke-width="4.2" fill="none" stroke-linecap="round" stroke-linejoin="round"/>
<path d="M557.1,233.3 L557.9,232.1" stroke="#3012c0" stroke-width="4.2" fill="none" stroke-linecap="round" stroke-linejoin="round"/>
<path d="M557.9,232.1 L558.7,230.9 L559.5,229.8" stroke="#3612ba" stroke-width="4.2" fill="none" stroke-linecap="round" stroke-linejoin="round"/>
<path d="M559.5,229.8 L560.3,228.7" stroke="#3c12b4" stroke-width="4.2" fill="none" stroke-linecap="round" stroke-linejoin="round"/>
<path d="M560.3,228.7 L561.2,227.6" stroke="#3c12ae" stroke-width="4.2" fill="none" stroke-linecap="round" stroke-linejoin="round"/>
<path d="M561.2,227.6 L562.0,226.6" stroke="#4212ae" stroke-width="4.2" fill="none" stroke-linecap="round" stroke-linejoin="round"/>
<path d="M562.0,226.6 L562.9,225.7" stroke="#4212a8" stroke-width="4.2" fill="none" stroke-linecap="round" stroke-linejoin="round"/>
<path d="M562.9,225.7 L563.8,224.8 L564.7,224.0 L565.6,223.3 L566.6,222.6" stroke="#4812a2" stroke-width="4.2" fill="none" stroke-linecap="round" stroke-linejoin="round"/>
<path d="M566.6,222.6 L567.6,221.9 L568.6,221.3" stroke="#4812a8" stroke-width="4.2" fill="none" stroke-linecap="round" stroke-linejoin="round"/>
<path d="M568.6,221.3 L569.6,220.7 L570.6,220.2 L571.7,219.7" stroke="#4212ae" stroke-width="4.2" fill="none" stroke-linecap="round" stroke-linejoin="round"/>
<path d="M571.7,219.7 L572.7,219.2 L573.8,218.8" stroke="#4212b4" stroke-width="4.2" fill="none" stroke-linecap="round" stroke-linejoin="round"/>
<path d="M573.8,218.8 L574.8,218.4" stroke="#3c12b4" stroke-width="4.2" fill="none" stroke-linecap="round" stroke-linejoin="round"/>
<path d="M574.8,218.4 L575.8,218.0 L576.8,217.7" stroke="#3c12ba" stroke-width="4.2" fill="none" stroke-linecap="round" stroke-linejoin="round"/>
<path d="M576.8,217.7 L577.8,217.4 L578.8,217.1 L579.7,216.9" stroke="#3c12c0" stroke-width="4.2" fill="none" stroke-linecap="round" stroke-linejoin="round"/>
<path d="M579.7,216.9 L580.6,216.7 L581.5,216.5 L582.4,216.4 L583.3,216.3" stroke="#3c0cc0" stroke-width="4.2" fill="none" stroke-linecap="round" stroke-linejoin="round"/>
<path d="M583.3,216.3 L584.1,216.3 L585.0,216.3 L586.0,216.2 L586.9,216.3 L587.9,216.3 L588.9,216.4 L589.9,216.4" stroke="#3c0cc6" stroke-width="4.2" fill="none" stroke-linecap="round" stroke-linejoin="round"/>
<path d="M589.9,216.4 L591.0,216.5" stroke="#3c06c6" stroke-width="4.2" fill="none" stroke-linecap="round" stroke-linejoin="round"/>
<line x1="586.7" y1="194.0" x2="586.7" y2="207.5" stroke="#2a2a2a" stroke-width="1.4" stroke-dasharray="1.7 1.1"/>
<path d="M586.7,214.0 L580.9,203.5 L586.7,207.5 L592.5,203.5 Z" fill="#000"/>
<text x="586.2" y="192" font-size="16" text-anchor="middle" font-weight="normal" fill="#000" >I</text>
<line x1="586.7" y1="322.0" x2="586.7" y2="308.5" stroke="#2a2a2a" stroke-width="1.4" stroke-dasharray="1.7 1.1"/>
<path d="M586.7,302.0 L592.5,312.5 L586.7,308.5 L580.9,312.5 Z" fill="#000"/>
<text x="586.2" y="339.7" font-size="16" text-anchor="middle" font-weight="normal" fill="#000" >O</text>
<path d="M1012.2,232.0 L1013.1,232.0 L1013.9,232.0 L1014.8,232.0" stroke="#0012d8" stroke-width="4.2" fill="none" stroke-linecap="round" stroke-linejoin="round"/>
<path d="M1014.8,232.0 L1015.7,232.1 L1016.6,232.2" stroke="#0018d8" stroke-width="4.2" fill="none" stroke-linecap="round" stroke-linejoin="round"/>
<path d="M1016.6,232.2 L1017.6,232.3" stroke="#001ed8" stroke-width="4.2" fill="none" stroke-linecap="round" stroke-linejoin="round"/>
<path d="M1017.6,232.3 L1018.5,232.5 L1019.4,232.7" stroke="#061ede" stroke-width="4.2" fill="none" stroke-linecap="round" stroke-linejoin="round"/>
<path d="M1019.4,232.7 L1020.3,232.9 L1021.1,233.1 L1022.0,233.3" stroke="#0624de" stroke-width="4.2" fill="none" stroke-linecap="round" stroke-linejoin="round"/>
<path d="M1022.0,233.3 L1022.8,233.6 L1023.6,233.8" stroke="#062ade" stroke-width="4.2" fill="none" stroke-linecap="round" stroke-linejoin="round"/>
<path d="M1023.6,233.8 L1024.3,234.1 L1025.0,234.4" stroke="#0630de" stroke-width="4.2" fill="none" stroke-linecap="round" stroke-linejoin="round"/>
<path d="M1025.0,234.4 L1025.6,234.7" stroke="#0636de" stroke-width="4.2" fill="none" stroke-linecap="round" stroke-linejoin="round"/>
<path d="M1025.6,234.7 L1026.3,235.0" stroke="#0c36de" stroke-width="4.2" fill="none" stroke-linecap="round" stroke-linejoin="round"/>
<path d="M1026.3,235.0 L1026.9,235.3 L1027.4,235.6" stroke="#0c3cde" stroke-width="4.2" fill="none" stroke-linecap="round" stroke-linejoin="round"/>
<path d="M1027.4,235.6 L1028.0,236.0 L1028.5,236.3" stroke="#0c42de" stroke-width="4.2" fill="none" stroke-linecap="round" stroke-linejoin="round"/>
<path d="M1028.5,236.3 L1029.0,236.7" stroke="#0c48de" stroke-width="4.2" fill="none" stroke-linecap="round" stroke-linejoin="round"/>
<path d="M1029.0,236.7 L1029.6,237.1 L1030.1,237.5" stroke="#0c4ede" stroke-width="4.2" fill="none" stroke-linecap="round" stroke-linejoin="round"/>
<path d="M1030.1,237.5 L1030.6,238.0 L1031.1,238.4" stroke="#0c54de" stroke-width="4.2" fill="none" stroke-linecap="round" stroke-linejoin="round"/>
<path d="M1031.1,238.4 L1031.6,238.8" stroke="#0c5ade" stroke-width="4.2" fill="none" stroke-linecap="round" stroke-linejoin="round"/>
<path d="M1031.6,238.8 L1032.2,239.3" stroke="#125ade" stroke-width="4.2" fill="none" stroke-linecap="round" stroke-linejoin="round"/>
<path d="M1032.2,239.3 L1032.8,239.8" stroke="#1260de" stroke-width="4.2" fill="none" stroke-linecap="round" stroke-linejoin="round"/>
<path d="M1032.8,239.8 L1033.3,240.3" stroke="#1266de" stroke-width="4.2" fill="none" stroke-linecap="round" stroke-linejoin="round"/>
<path d="M1033.3,240.3 L1033.9,240.8" stroke="#126ce4" stroke-width="4.2" fill="none" stroke-linecap="round" stroke-linejoin="round"/>
<path d="M1033.9,240.8 L1034.5,241.3" stroke="#1272e4" stroke-width="4.2" fill="none" stroke-linecap="round" stroke-linejoin="round"/>
<path d="M1034.5,241.3 L1035.1,241.8" stroke="#1278e4" stroke-width="4.2" fill="none" stroke-linecap="round" stroke-linejoin="round"/>
<path d="M1035.1,241.8 L1035.7,242.4" stroke="#127ee4" stroke-width="4.2" fill="none" stroke-linecap="round" stroke-linejoin="round"/>
<path d="M1035.7,242.4 L1036.3,243.0" stroke="#1284e4" stroke-width="4.2" fill="none" stroke-linecap="round" stroke-linejoin="round"/>
<path d="M1036.3,243.0 L1036.8,243.5" stroke="#128ae4" stroke-width="4.2" fill="none" stroke-linecap="round" stroke-linejoin="round"/>
<path d="M1036.8,243.5 L1037.4,244.1" stroke="#1290e4" stroke-width="4.2" fill="none" stroke-linecap="round" stroke-linejoin="round"/>
<path d="M1037.4,244.1 L1038.0,244.7" stroke="#1296e4" stroke-width="4.2" fill="none" stroke-linecap="round" stroke-linejoin="round"/>
<path d="M1038.0,244.7 L1038.5,245.3 L1039.0,245.9" stroke="#129ce4" stroke-width="4.2" fill="none" stroke-linecap="round" stroke-linejoin="round"/>
<path d="M1039.0,245.9 L1039.5,246.5" stroke="#12a2e4" stroke-width="4.2" fill="none" stroke-linecap="round" stroke-linejoin="round"/>
<path d="M1039.5,246.5 L1040.0,247.1" stroke="#12a8ea" stroke-width="4.2" fill="none" stroke-linecap="round" stroke-linejoin="round"/>
<path d="M1040.0,247.1 L1040.5,247.7" stroke="#12aeea" stroke-width="4.2" fill="none" stroke-linecap="round" stroke-linejoin="round"/>
<path d="M1040.5,247.7 L1041.0,248.3" stroke="#12b4e4" stroke-width="4.2" fill="none" stroke-linecap="round" stroke-linejoin="round"/>
<path d="M1041.0,248.3 L1041.5,249.0 L1042.0,249.6" stroke="#12bae4" stroke-width="4.2" fill="none" stroke-linecap="round" stroke-linejoin="round"/>
<path d="M1042.0,249.6 L1042.4,250.3" stroke="#12c0e4" stroke-width="4.2" fill="none" stroke-linecap="round" stroke-linejoin="round"/>
<path d="M1042.4,250.3 L1042.9,250.9 L1043.4,251.6" stroke="#12c6e4" stroke-width="4.2" fill="none" stroke-linecap="round" stroke-linejoin="round"/>
<path d="M1043.4,251.6 L1043.8,252.3" stroke="#12ccde" stroke-width="4.2" fill="none" stroke-linecap="round" stroke-linejoin="round"/>
<path d="M1043.8,252.3 L1044.2,252.9 L1044.5,253.6" stroke="#12d2de" stroke-width="4.2" fill="none" stroke-linecap="round" stroke-linejoin="round"/>
<path d="M1044.5,253.6 L1044.8,254.2" stroke="#12d8de" stroke-width="4.2" fill="none" stroke-linecap="round" stroke-linejoin="round"/>
<path d="M1044.8,254.2 L1045.0,254.9" stroke="#12dede" stroke-width="4.2" fill="none" stroke-linecap="round" stroke-linejoin="round"/>
<path d="M1045.0,254.9 L1045.2,255.5" stroke="#12ded8" stroke-width="4.2" fill="none" stroke-linecap="round" stroke-linejoin="round"/>
<path d="M1045.2,255.5 L1045.3,256.1" stroke="#12e4d8" stroke-width="4.2" fill="none" stroke-linecap="round" stroke-linejoin="round"/>
<path d="M1045.3,256.1 L1045.3,256.7" stroke="#12ead8" stroke-width="4.2" fill="none" stroke-linecap="round" stroke-linejoin="round"/>
<path d="M1045.3,256.7 L1045.3,257.3 L1045.2,257.9" stroke="#12e4d8" stroke-width="4.2" fill="none" stroke-linecap="round" stroke-linejoin="round"/>
<path d="M1045.2,257.9 L1045.1,258.5 L1044.9,259.1 L1044.6,259.7 L1044.4,260.2" stroke="#12e4de" stroke-width="4.2" fill="none" stroke-linecap="round" stroke-linejoin="round"/>
<path d="M1044.4,260.2 L1044.1,260.8" stroke="#12dede" stroke-width="4.2" fill="none" stroke-linecap="round" stroke-linejoin="round"/>
<path d="M1044.1,260.8 L1043.7,261.3 L1043.3,261.9 L1042.9,262.4 L1042.5,262.9" stroke="#12dee4" stroke-width="4.2" fill="none" stroke-linecap="round" stroke-linejoin="round"/>
<path d="M1042.5,262.9 L1042.1,263.4 L1041.6,263.9" stroke="#12d8e4" stroke-width="4.2" fill="none" stroke-linecap="round" stroke-linejoin="round"/>
<path d="M1041.6,263.9 L1041.1,264.4 L1040.6,264.8" stroke="#12d8ea" stroke-width="4.2" fill="none" stroke-linecap="round" stroke-linejoin="round"/>
<path d="M1040.6,264.8 L1040.0,265.3 L1039.4,265.7" stroke="#12d2ea" stroke-width="4.2" fill="none" stroke-linecap="round" stroke-linejoin="round"/>
<path d="M1039.4,265.7 L1038.7,266.1 L1038.0,266.5 L1037.3,266.9" stroke="#12ccea" stroke-width="4.2" fill="none" stroke-linecap="round" stroke-linejoin="round"/>
<path d="M1037.3,266.9 L1036.6,267.3 L1035.9,267.7" stroke="#12c6ea" stroke-width="4.2" fill="none" stroke-linecap="round" stroke-linejoin="round"/>
<path d="M1035.9,267.7 L1035.1,268.0" stroke="#12c6f0" stroke-width="4.2" fill="none" stroke-linecap="round" stroke-linejoin="round"/>
<path d="M1035.1,268.0 L1034.4,268.3 L1033.7,268.6" stroke="#12c0f0" stroke-width="4.2" fill="none" stroke-linecap="round" stroke-linejoin="round"/>
<path d="M1033.7,268.6 L1032.9,268.9 L1032.2,269.2 L1031.5,269.4" stroke="#12baf0" stroke-width="4.2" fill="none" stroke-linecap="round" stroke-linejoin="round"/>
<path d="M1031.5,269.4 L1030.8,269.7" stroke="#0cbaf0" stroke-width="4.2" fill="none" stroke-linecap="round" stroke-linejoin="round"/>
<path d="M1030.8,269.7 L1030.0,269.9 L1029.3,270.1" stroke="#0cc0f0" stroke-width="4.2" fill="none" stroke-linecap="round" stroke-linejoin="round"/>
<path d="M1029.3,270.1 L1028.6,270.3 L1027.8,270.5" stroke="#0cc6f0" stroke-width="4.2" fill="none" stroke-linecap="round" stroke-linejoin="round"/>
<path d="M1027.8,270.5 L1027.1,270.6" stroke="#0cccf0" stroke-width="4.2" fill="none" stroke-linecap="round" stroke-linejoin="round"/>
<path d="M1027.1,270.6 L1026.3,270.7 L1025.6,270.8" stroke="#06ccf0" stroke-width="4.2" fill="none" stroke-linecap="round" stroke-linejoin="round"/>
<path d="M1025.6,270.8 L1024.8,270.9 L1024.0,271.0" stroke="#06d2f0" stroke-width="4.2" fill="none" stroke-linecap="round" stroke-linejoin="round"/>
<path d="M1024.0,271.0 L1023.3,271.0" stroke="#06d8f0" stroke-width="4.2" fill="none" stroke-linecap="round" stroke-linejoin="round"/>
<path d="M1023.3,271.0 L1022.5,271.0" stroke="#00d8f0" stroke-width="4.2" fill="none" stroke-linecap="round" stroke-linejoin="round"/>
<path d="M1022.5,271.0 L1021.7,271.0 L1020.9,270.9 L1020.1,270.9" stroke="#00def0" stroke-width="4.2" fill="none" stroke-linecap="round" stroke-linejoin="round"/>
<path d="M1020.1,270.9 L1019.2,270.8" stroke="#06d8f0" stroke-width="4.2" fill="none" stroke-linecap="round" stroke-linejoin="round"/>
<path d="M1019.2,270.8 L1018.4,270.6" stroke="#06d2f0" stroke-width="4.2" fill="none" stroke-linecap="round" stroke-linejoin="round"/>
<path d="M1018.4,270.6 L1017.5,270.5 L1016.7,270.3" stroke="#0cccf0" stroke-width="4.2" fill="none" stroke-linecap="round" stroke-linejoin="round"/>
<path d="M1016.7,270.3 L1015.8,270.1" stroke="#0cc6ea" stroke-width="4.2" fill="none" stroke-linecap="round" stroke-linejoin="round"/>
<path d="M1015.8,270.1 L1015.0,269.8" stroke="#12c0ea" stroke-width="4.2" fill="none" stroke-linecap="round" stroke-linejoin="round"/>
<path d="M1015.0,269.8 L1014.1,269.6" stroke="#12baea" stroke-width="4.2" fill="none" stroke-linecap="round" stroke-linejoin="round"/>
<path d="M1014.1,269.6 L1013.3,269.3" stroke="#12b4ea" stroke-width="4.2" fill="none" stroke-linecap="round" stroke-linejoin="round"/>
<path d="M1013.3,269.3 L1012.5,269.0" stroke="#18b4ea" stroke-width="4.2" fill="none" stroke-linecap="round" stroke-linejoin="round"/>
<path d="M1012.5,269.0 L1011.7,268.7" stroke="#18aeea" stroke-width="4.2" fill="none" stroke-linecap="round" stroke-linejoin="round"/>
<path d="M1011.7,268.7 L1010.9,268.4" stroke="#1ea8ea" stroke-width="4.2" fill="none" stroke-linecap="round" stroke-linejoin="round"/>
<path d="M1010.9,268.4 L1010.1,268.1 L1009.4,267.8" stroke="#1ea2ea" stroke-width="4.2" fill="none" stroke-linecap="round" stroke-linejoin="round"/>
<path d="M1009.4,267.8 L1008.6,267.4" stroke="#1e9cea" stroke-width="4.2" fill="none" stroke-linecap="round" stroke-linejoin="round"/>
<path d="M1008.6,267.4 L1007.9,267.0" stroke="#1e96e4" stroke-width="4.2" fill="none" stroke-linecap="round" stroke-linejoin="round"/>
<path d="M1007.9,267.0 L1007.1,266.6" stroke="#1e90e4" stroke-width="4.2" fill="none" stroke-linecap="round" stroke-linejoin="round"/>
<path d="M1007.1,266.6 L1006.4,266.2" stroke="#1e8ae4" stroke-width="4.2" fill="none" stroke-linecap="round" stroke-linejoin="round"/>
<path d="M1006.4,266.2 L1005.7,265.7" stroke="#1884e4" stroke-width="4.2" fill="none" stroke-linecap="round" stroke-linejoin="round"/>
<path d="M1005.7,265.7 L1005.0,265.3" stroke="#187ee4" stroke-width="4.2" fill="none" stroke-linecap="round" stroke-linejoin="round"/>
<path d="M1005.0,265.3 L1004.3,264.8" stroke="#1878e4" stroke-width="4.2" fill="none" stroke-linecap="round" stroke-linejoin="round"/>
<path d="M1004.3,264.8 L1003.7,264.3" stroke="#1872e4" stroke-width="4.2" fill="none" stroke-linecap="round" stroke-linejoin="round"/>
<path d="M1003.7,264.3 L1003.0,263.9" stroke="#186ce4" stroke-width="4.2" fill="none" stroke-linecap="round" stroke-linejoin="round"/>
<path d="M1003.0,263.9 L1002.4,263.4" stroke="#1266e4" stroke-width="4.2" fill="none" stroke-linecap="round" stroke-linejoin="round"/>
<path d="M1002.4,263.4 L1001.8,262.8" stroke="#1260e4" stroke-width="4.2" fill="none" stroke-linecap="round" stroke-linejoin="round"/>
<path d="M1001.8,262.8 L1001.2,262.3" stroke="#125ae4" stroke-width="4.2" fill="none" stroke-linecap="round" stroke-linejoin="round"/>
<path d="M1001.2,262.3 L1000.7,261.8" stroke="#1254de" stroke-width="4.2" fill="none" stroke-linecap="round" stroke-linejoin="round"/>
<path d="M1000.7,261.8 L1000.2,261.3" stroke="#124ede" stroke-width="4.2" fill="none" stroke-linecap="round" stroke-linejoin="round"/>
<path d="M1000.2,261.3 L999.7,260.7" stroke="#1248de" stroke-width="4.2" fill="none" stroke-linecap="round" stroke-linejoin="round"/>
<path d="M999.7,260.7 L999.2,260.2" stroke="#1242de" stroke-width="4.2" fill="none" stroke-linecap="round" stroke-linejoin="round"/>
<path d="M999.2,260.2 L998.8,259.6" stroke="#123cd8" stroke-width="4.2" fill="none" stroke-linecap="round" stroke-linejoin="round"/>
<path d="M998.8,259.6 L998.3,259.0" stroke="#1236d8" stroke-width="4.2" fill="none" stroke-linecap="round" stroke-linejoin="round"/>
<path d="M998.3,259.0 L997.9,258.4" stroke="#1230d2" stroke-width="4.2" fill="none" stroke-linecap="round" stroke-linejoin="round"/>
<path d="M997.9,258.4 L997.5,257.8" stroke="#122ad2" stroke-width="4.2" fill="none" stroke-linecap="round" stroke-linejoin="round"/>
<path d="M997.5,257.8 L997.1,257.2" stroke="#1224d2" stroke-width="4.2" fill="none" stroke-linecap="round" stroke-linejoin="round"/>
<path d="M997.1,257.2 L996.8,256.6" stroke="#121ecc" stroke-width="4.2" fill="none" stroke-linecap="round" stroke-linejoin="round"/>
<path d="M996.8,256.6 L996.5,255.9" stroke="#1218cc" stroke-width="4.2" fill="none" stroke-linecap="round" stroke-linejoin="round"/>
<path d="M996.5,255.9 L996.2,255.3" stroke="#1212c6" stroke-width="4.2" fill="none" stroke-linecap="round" stroke-linejoin="round"/>
<path d="M996.2,255.3 L995.9,254.7" stroke="#180cc0" stroke-width="4.2" fill="none" stroke-linecap="round" stroke-linejoin="round"/>
<path d="M995.9,254.7 L995.7,254.0" stroke="#240cba" stroke-width="4.2" fill="none" stroke-linecap="round" stroke-linejoin="round"/>
<path d="M995.7,254.0 L995.5,253.4" stroke="#300cb4" stroke-width="4.2" fill="none" stroke-linecap="round" stroke-linejoin="round"/>
<path d="M995.5,253.4 L995.3,252.8" stroke="#360cae" stroke-width="4.2" fill="none" stroke-linecap="round" stroke-linejoin="round"/>
<path d="M995.3,252.8 L995.2,252.1" stroke="#420ca8" stroke-width="4.2" fill="none" stroke-linecap="round" stroke-linejoin="round"/>
<path d="M995.2,252.1 L995.1,251.4" stroke="#4e0c9c" stroke-width="4.2" fill="none" stroke-linecap="round" stroke-linejoin="round"/>
<path d="M995.1,251.4 L995.0,250.8" stroke="#540c96" stroke-width="4.2" fill="none" stroke-linecap="round" stroke-linejoin="round"/>
<path d="M995.0,250.8 L994.9,250.1" stroke="#600690" stroke-width="4.2" fill="none" stroke-linecap="round" stroke-linejoin="round"/>
<path d="M994.9,250.1 L994.9,249.4" stroke="#5a0696" stroke-width="4.2" fill="none" stroke-linecap="round" stroke-linejoin="round"/>
<path d="M994.9,249.4 L994.9,248.7 L994.9,248.0" stroke="#540c9c" stroke-width="4.2" fill="none" stroke-linecap="round" stroke-linejoin="round"/>
<path d="M994.9,248.0 L994.9,247.3" stroke="#4e0ca2" stroke-width="4.2" fill="none" stroke-linecap="round" stroke-linejoin="round"/>
<path d="M994.9,247.3 L995.0,246.6" stroke="#480ca8" stroke-width="4.2" fill="none" stroke-linecap="round" stroke-linejoin="round"/>
<path d="M995.0,246.6 L995.1,246.0" stroke="#420cae" stroke-width="4.2" fill="none" stroke-linecap="round" stroke-linejoin="round"/>
<path d="M995.1,246.0 L995.2,245.3 L995.3,244.6" stroke="#3c0cb4" stroke-width="4.2" fill="none" stroke-linecap="round" stroke-linejoin="round"/>
<path d="M995.3,244.6 L995.5,244.0" stroke="#3612ba" stroke-width="4.2" fill="none" stroke-linecap="round" stroke-linejoin="round"/>
<path d="M995.5,244.0 L995.7,243.4" stroke="#3012c0" stroke-width="4.2" fill="none" stroke-linecap="round" stroke-linejoin="round"/>
<path d="M995.7,243.4 L995.9,242.7" stroke="#301ec6" stroke-width="4.2" fill="none" stroke-linecap="round" stroke-linejoin="round"/>
<path d="M995.9,242.7 L996.2,242.0" stroke="#2a2ac6" stroke-width="4.2" fill="none" stroke-linecap="round" stroke-linejoin="round"/>
<path d="M996.2,242.0 L996.4,241.4" stroke="#2a3ccc" stroke-width="4.2" fill="none" stroke-linecap="round" stroke-linejoin="round"/>
<path d="M996.4,241.4 L996.7,240.7" stroke="#2a48cc" stroke-width="4.2" fill="none" stroke-linecap="round" stroke-linejoin="round"/>
<path d="M996.7,240.7 L997.0,240.1" stroke="#2a5ad2" stroke-width="4.2" fill="none" stroke-linecap="round" stroke-linejoin="round"/>
<path d="M997.0,240.1 L997.4,239.4" stroke="#2466d8" stroke-width="4.2" fill="none" stroke-linecap="round" stroke-linejoin="round"/>
<path d="M997.4,239.4 L997.8,238.8" stroke="#2472d8" stroke-width="4.2" fill="none" stroke-linecap="round" stroke-linejoin="round"/>
<path d="M997.8,238.8 L998.2,238.2" stroke="#2484de" stroke-width="4.2" fill="none" stroke-linecap="round" stroke-linejoin="round"/>
<path d="M998.2,238.2 L998.6,237.6" stroke="#1e90de" stroke-width="4.2" fill="none" stroke-linecap="round" stroke-linejoin="round"/>
<path d="M998.6,237.6 L999.1,237.1 L999.6,236.5" stroke="#1e8ade" stroke-width="4.2" fill="none" stroke-linecap="round" stroke-linejoin="round"/>
<path d="M999.6,236.5 L1000.1,236.0 L1000.7,235.6" stroke="#1e84de" stroke-width="4.2" fill="none" stroke-linecap="round" stroke-linejoin="round"/>
<path d="M1000.7,235.6 L1001.3,235.2" stroke="#1e7ede" stroke-width="4.2" fill="none" stroke-linecap="round" stroke-linejoin="round"/>
<path d="M1001.3,235.2 L1002.0,234.8 L1002.7,234.4" stroke="#1e78de" stroke-width="4.2" fill="none" stroke-linecap="round" stroke-linejoin="round"/>
<path d="M1002.7,234.4 L1003.5,234.1 L1004.3,233.7" stroke="#1e72de" stroke-width="4.2" fill="none" stroke-linecap="round" stroke-linejoin="round"/>
<path d="M1004.3,233.7 L1005.2,233.4" stroke="#1e66de" stroke-width="4.2" fill="none" stroke-linecap="round" stroke-linejoin="round"/>
<path d="M1005.2,233.4 L1006.0,233.1" stroke="#185ade" stroke-width="4.2" fill="none" stroke-linecap="round" stroke-linejoin="round"/>
<path d="M1006.0,233.1 L1006.9,232.9" stroke="#1854de" stroke-width="4.2" fill="none" stroke-linecap="round" stroke-linejoin="round"/>
<path d="M1006.9,232.9 L1007.8,232.7" stroke="#1248de" stroke-width="4.2" fill="none" stroke-linecap="round" stroke-linejoin="round"/>
<path d="M1007.8,232.7 L1008.7,232.5" stroke="#1242de" stroke-width="4.2" fill="none" stroke-linecap="round" stroke-linejoin="round"/>
<path d="M1008.7,232.5 L1009.6,232.3" stroke="#0c36de" stroke-width="4.2" fill="none" stroke-linecap="round" stroke-linejoin="round"/>
<path d="M1009.6,232.3 L1010.5,232.2" stroke="#0c2ad8" stroke-width="4.2" fill="none" stroke-linecap="round" stroke-linejoin="round"/>
<path d="M1010.5,232.2 L1011.3,232.1" stroke="#0624d8" stroke-width="4.2" fill="none" stroke-linecap="round" stroke-linejoin="round"/>
<path d="M1011.3,232.1 L1012.2,232.0" stroke="#0618d8" stroke-width="4.2" fill="none" stroke-linecap="round" stroke-linejoin="round"/>
<line x1="962.5" y1="252.3" x2="982.5" y2="252.3" stroke="#2a2a2a" stroke-width="1.4" stroke-dasharray="1.7 1.1"/>
<path d="M989.0,252.3 L978.5,258.1 L982.5,252.3 L978.5,246.5 Z" fill="#000"/>
<text x="953.8" y="257.8" font-size="16" text-anchor="middle" font-weight="normal" fill="#000" >O</text>
<line x1="1077.0" y1="252.3" x2="1058.0" y2="252.3" stroke="#2a2a2a" stroke-width="1.4" stroke-dasharray="1.7 1.1"/>
<path d="M1051.5,252.3 L1062.0,246.5 L1058.0,252.3 L1062.0,258.1 Z" fill="#000"/>
<text x="1082.5" y="257.8" font-size="16" text-anchor="middle" font-weight="normal" fill="#000" >I</text>
<path d="M1241.4,234.5 L1242.6,234.5 L1243.7,234.5 L1244.9,234.6 L1246.1,234.6 L1247.3,234.7 L1248.6,234.9 L1249.8,235.0 L1250.9,235.2 L1252.1,235.5 L1253.2,235.7 L1254.3,236.0 L1255.4,236.3 L1256.4,236.7 L1257.3,237.1 L1258.2,237.5 L1259.0,238.0 L1259.8,238.6 L1260.6,239.1 L1261.3,239.7" stroke="#12aef0" stroke-width="4.2" fill="none" stroke-linecap="round" stroke-linejoin="round"/>
<path d="M1261.3,239.7 L1262.1,240.4 L1262.7,241.0 L1263.4,241.7 L1264.0,242.4 L1264.6,243.1" stroke="#12a8f0" stroke-width="4.2" fill="none" stroke-linecap="round" stroke-linejoin="round"/>
<path d="M1264.6,243.1 L1265.2,243.9 L1265.7,244.6 L1266.3,245.3 L1266.8,246.0 L1267.3,246.7" stroke="#12a2f0" stroke-width="4.2" fill="none" stroke-linecap="round" stroke-linejoin="round"/>
<path d="M1267.3,246.7 L1267.8,247.5" stroke="#129cf0" stroke-width="4.2" fill="none" stroke-linecap="round" stroke-linejoin="round"/>
<path d="M1267.8,247.5 L1268.3,248.2" stroke="#1290f0" stroke-width="4.2" fill="none" stroke-linecap="round" stroke-linejoin="round"/>
<path d="M1268.3,248.2 L1268.7,249.0" stroke="#128aea" stroke-width="4.2" fill="none" stroke-linecap="round" stroke-linejoin="round"/>
<path d="M1268.7,249.0 L1269.1,249.8" stroke="#1284ea" stroke-width="4.2" fill="none" stroke-linecap="round" stroke-linejoin="round"/>
<path d="M1269.1,249.8 L1269.5,250.6" stroke="#187eea" stroke-width="4.2" fill="none" stroke-linecap="round" stroke-linejoin="round"/>
<path d="M1269.5,250.6 L1269.9,251.4" stroke="#1878ea" stroke-width="4.2" fill="none" stroke-linecap="round" stroke-linejoin="round"/>
<path d="M1269.9,251.4 L1270.3,252.2" stroke="#1872ea" stroke-width="4.2" fill="none" stroke-linecap="round" stroke-linejoin="round"/>
<path d="M1270.3,252.2 L1270.6,253.0" stroke="#186ce4" stroke-width="4.2" fill="none" stroke-linecap="round" stroke-linejoin="round"/>
<path d="M1270.6,253.0 L1270.9,253.7" stroke="#1860e4" stroke-width="4.2" fill="none" stroke-linecap="round" stroke-linejoin="round"/>
<path d="M1270.9,253.7 L1271.2,254.5" stroke="#1e5ae4" stroke-width="4.2" fill="none" stroke-linecap="round" stroke-linejoin="round"/>
<path d="M1271.2,254.5 L1271.4,255.3" stroke="#1e54e4" stroke-width="4.2" fill="none" stroke-linecap="round" stroke-linejoin="round"/>
<path d="M1271.4,255.3 L1271.7,256.1" stroke="#1e4ee4" stroke-width="4.2" fill="none" stroke-linecap="round" stroke-linejoin="round"/>
<path d="M1271.7,256.1 L1271.9,256.8" stroke="#1e48e4" stroke-width="4.2" fill="none" stroke-linecap="round" stroke-linejoin="round"/>
<path d="M1271.9,256.8 L1272.1,257.5" stroke="#1e42de" stroke-width="4.2" fill="none" stroke-linecap="round" stroke-linejoin="round"/>
<path d="M1272.1,257.5 L1272.3,258.2 L1272.4,258.9 L1272.5,259.6 L1272.7,260.3 L1272.7,260.9 L1272.8,261.6" stroke="#1e3cde" stroke-width="4.2" fill="none" stroke-linecap="round" stroke-linejoin="round"/>
<path d="M1272.8,261.6 L1272.8,262.3 L1272.8,262.9 L1272.8,263.6 L1272.8,264.3 L1272.7,265.0" stroke="#1e36de" stroke-width="4.2" fill="none" stroke-linecap="round" stroke-linejoin="round"/>
<path d="M1272.7,265.0 L1272.6,265.7 L1272.5,266.4 L1272.4,267.1 L1272.2,267.9 L1272.0,268.7" stroke="#1e30de" stroke-width="4.2" fill="none" stroke-linecap="round" stroke-linejoin="round"/>
<path d="M1272.0,268.7 L1271.8,269.5 L1271.6,270.3 L1271.3,271.1 L1271.0,271.9 L1270.7,272.7" stroke="#1e2ade" stroke-width="4.2" fill="none" stroke-linecap="round" stroke-linejoin="round"/>
<path d="M1270.7,272.7 L1270.3,273.5" stroke="#1e24de" stroke-width="4.2" fill="none" stroke-linecap="round" stroke-linejoin="round"/>
<path d="M1270.3,273.5 L1270.0,274.3 L1269.6,275.0 L1269.1,275.8 L1268.6,276.5 L1268.1,277.2" stroke="#1e24d8" stroke-width="4.2" fill="none" stroke-linecap="round" stroke-linejoin="round"/>
<path d="M1268.1,277.2 L1267.5,277.9" stroke="#1e1ed8" stroke-width="4.2" fill="none" stroke-linecap="round" stroke-linejoin="round"/>
<path d="M1267.5,277.9 L1267.0,278.6" stroke="#241ed8" stroke-width="4.2" fill="none" stroke-linecap="round" stroke-linejoin="round"/>
<path d="M1267.0,278.6 L1266.3,279.2 L1265.7,279.9 L1265.0,280.5" stroke="#241ed2" stroke-width="4.2" fill="none" stroke-linecap="round" stroke-linejoin="round"/>
<path d="M1265.0,280.5 L1264.3,281.2" stroke="#2418d2" stroke-width="4.2" fill="none" stroke-linecap="round" stroke-linejoin="round"/>
<path d="M1264.3,281.2 L1263.5,281.8" stroke="#2418cc" stroke-width="4.2" fill="none" stroke-linecap="round" stroke-linejoin="round"/>
<path d="M1263.5,281.8 L1262.8,282.4 L1261.9,282.9" stroke="#2a18cc" stroke-width="4.2" fill="none" stroke-linecap="round" stroke-linejoin="round"/>
<path d="M1261.9,282.9 L1261.1,283.5" stroke="#2a18c6" stroke-width="4.2" fill="none" stroke-linecap="round" stroke-linejoin="round"/>
<path d="M1261.1,283.5 L1260.2,284.0 L1259.3,284.5" stroke="#2a12c6" stroke-width="4.2" fill="none" stroke-linecap="round" stroke-linejoin="round"/>
<path d="M1259.3,284.5 L1258.3,285.0" stroke="#3012c6" stroke-width="4.2" fill="none" stroke-linecap="round" stroke-linejoin="round"/>
<path d="M1258.3,285.0 L1257.3,285.4 L1256.2,285.8" stroke="#3012c0" stroke-width="4.2" fill="none" stroke-linecap="round" stroke-linejoin="round"/>
<path d="M1256.2,285.8 L1255.1,286.2" stroke="#3612c0" stroke-width="4.2" fill="none" stroke-linecap="round" stroke-linejoin="round"/>
<path d="M1255.1,286.2 L1253.9,286.5" stroke="#3612ba" stroke-width="4.2" fill="none" stroke-linecap="round" stroke-linejoin="round"/>
<path d="M1253.9,286.5 L1252.6,286.8" stroke="#3c12ba" stroke-width="4.2" fill="none" stroke-linecap="round" stroke-linejoin="round"/>
<path d="M1252.6,286.8 L1251.3,287.1" stroke="#3c12b4" stroke-width="4.2" fill="none" stroke-linecap="round" stroke-linejoin="round"/>
<path d="M1251.3,287.1 L1249.9,287.4 L1248.5,287.7" stroke="#4212b4" stroke-width="4.2" fill="none" stroke-linecap="round" stroke-linejoin="round"/>
<path d="M1248.5,287.7 L1247.2,287.9" stroke="#4812ae" stroke-width="4.2" fill="none" stroke-linecap="round" stroke-linejoin="round"/>
<path d="M1247.2,287.9 L1245.8,288.1 L1244.4,288.2" stroke="#4e12ae" stroke-width="4.2" fill="none" stroke-linecap="round" stroke-linejoin="round"/>
<path d="M1244.4,288.2 L1243.1,288.4 L1241.8,288.5" stroke="#5412a8" stroke-width="4.2" fill="none" stroke-linecap="round" stroke-linejoin="round"/>
<path d="M1241.8,288.5 L1240.6,288.6 L1239.4,288.6" stroke="#5a12a2" stroke-width="4.2" fill="none" stroke-linecap="round" stroke-linejoin="round"/>
<path d="M1239.4,288.6 L1238.3,288.6 L1237.2,288.6 L1236.1,288.6" stroke="#6012a2" stroke-width="4.2" fill="none" stroke-linecap="round" stroke-linejoin="round"/>
<path d="M1236.1,288.6 L1235.1,288.5 L1234.1,288.4 L1233.1,288.3 L1232.1,288.1 L1231.1,287.9" stroke="#5a12a2" stroke-width="4.2" fill="none" stroke-linecap="round" stroke-linejoin="round"/>
<path d="M1231.1,287.9 L1230.1,287.7 L1229.2,287.4 L1228.2,287.2 L1227.3,286.8 L1226.4,286.5 L1225.4,286.1" stroke="#5412a2" stroke-width="4.2" fill="none" stroke-linecap="round" stroke-linejoin="round"/>
<path d="M1225.4,286.1 L1224.4,285.7 L1223.4,285.2" stroke="#4e12a2" stroke-width="4.2" fill="none" stroke-linecap="round" stroke-linejoin="round"/>
<path d="M1223.4,285.2 L1222.4,284.7 L1221.4,284.1" stroke="#4812a8" stroke-width="4.2" fill="none" stroke-linecap="round" stroke-linejoin="round"/>
<path d="M1221.4,284.1 L1220.4,283.5" stroke="#4212ae" stroke-width="4.2" fill="none" stroke-linecap="round" stroke-linejoin="round"/>
<path d="M1220.4,283.5 L1219.4,282.8 L1218.4,282.2" stroke="#3c12b4" stroke-width="4.2" fill="none" stroke-linecap="round" stroke-linejoin="round"/>
<path d="M1218.4,282.2 L1217.5,281.5 L1216.5,280.8" stroke="#3612ba" stroke-width="4.2" fill="none" stroke-linecap="round" stroke-linejoin="round"/>
<path d="M1216.5,280.8 L1215.7,280.1 L1214.8,279.3" stroke="#3012c0" stroke-width="4.2" fill="none" stroke-linecap="round" stroke-linejoin="round"/>
<path d="M1214.8,279.3 L1214.1,278.6" stroke="#2a12c6" stroke-width="4.2" fill="none" stroke-linecap="round" stroke-linejoin="round"/>
<path d="M1214.1,278.6 L1213.3,277.9 L1212.7,277.2" stroke="#2412cc" stroke-width="4.2" fill="none" stroke-linecap="round" stroke-linejoin="round"/>
<path d="M1212.7,277.2 L1212.1,276.5 L1211.6,275.8 L1211.1,275.0 L1210.7,274.3 L1210.3,273.5" stroke="#1e12d2" stroke-width="4.2" fill="none" stroke-linecap="round" stroke-linejoin="round"/>
<path d="M1210.3,273.5 L1210.0,272.7 L1209.7,271.9 L1209.5,271.1 L1209.2,270.3 L1209.1,269.5" stroke="#1812d8" stroke-width="4.2" fill="none" stroke-linecap="round" stroke-linejoin="round"/>
<path d="M1209.1,269.5 L1208.9,268.8 L1208.8,268.0 L1208.7,267.2 L1208.6,266.4 L1208.6,265.6 L1208.6,264.8" stroke="#1212de" stroke-width="4.2" fill="none" stroke-linecap="round" stroke-linejoin="round"/>
<path d="M1208.6,264.8 L1208.6,264.1 L1208.7,263.3" stroke="#1218de" stroke-width="4.2" fill="none" stroke-linecap="round" stroke-linejoin="round"/>
<path d="M1208.7,263.3 L1208.8,262.5" stroke="#121ede" stroke-width="4.2" fill="none" stroke-linecap="round" stroke-linejoin="round"/>
<path d="M1208.8,262.5 L1208.9,261.7 L1209.1,260.9" stroke="#1824de" stroke-width="4.2" fill="none" stroke-linecap="round" stroke-linejoin="round"/>
<path d="M1209.1,260.9 L1209.3,260.1 L1209.5,259.3" stroke="#182ade" stroke-width="4.2" fill="none" stroke-linecap="round" stroke-linejoin="round"/>
<path d="M1209.5,259.3 L1209.7,258.6" stroke="#1830de" stroke-width="4.2" fill="none" stroke-linecap="round" stroke-linejoin="round"/>
<path d="M1209.7,258.6 L1210.0,257.8" stroke="#1e30de" stroke-width="4.2" fill="none" stroke-linecap="round" stroke-linejoin="round"/>
<path d="M1210.0,257.8 L1210.2,257.0" stroke="#1e36de" stroke-width="4.2" fill="none" stroke-linecap="round" stroke-linejoin="round"/>
<path d="M1210.2,257.0 L1210.5,256.3 L1210.8,255.5" stroke="#1e3cde" stroke-width="4.2" fill="none" stroke-linecap="round" stroke-linejoin="round"/>
<path d="M1210.8,255.5 L1211.1,254.7" stroke="#1e42de" stroke-width="4.2" fill="none" stroke-linecap="round" stroke-linejoin="round"/>
<path d="M1211.1,254.7 L1211.4,254.0" stroke="#1e48e4" stroke-width="4.2" fill="none" stroke-linecap="round" stroke-linejoin="round"/>
<path d="M1211.4,254.0 L1211.7,253.2" stroke="#1e4ee4" stroke-width="4.2" fill="none" stroke-linecap="round" stroke-linejoin="round"/>
<path d="M1211.7,253.2 L1212.1,252.5" stroke="#1e54e4" stroke-width="4.2" fill="none" stroke-linecap="round" stroke-linejoin="round"/>
<path d="M1212.1,252.5 L1212.4,251.7" stroke="#1e5ae4" stroke-width="4.2" fill="none" stroke-linecap="round" stroke-linejoin="round"/>
<path d="M1212.4,251.7 L1212.8,251.0" stroke="#1860e4" stroke-width="4.2" fill="none" stroke-linecap="round" stroke-linejoin="round"/>
<path d="M1212.8,251.0 L1213.2,250.2" stroke="#186ce4" stroke-width="4.2" fill="none" stroke-linecap="round" stroke-linejoin="round"/>
<path d="M1213.2,250.2 L1213.6,249.5" stroke="#1872ea" stroke-width="4.2" fill="none" stroke-linecap="round" stroke-linejoin="round"/>
<path d="M1213.6,249.5 L1214.1,248.8" stroke="#1878ea" stroke-width="4.2" fill="none" stroke-linecap="round" stroke-linejoin="round"/>
<path d="M1214.1,248.8 L1214.5,248.1" stroke="#187eea" stroke-width="4.2" fill="none" stroke-linecap="round" stroke-linejoin="round"/>
<path d="M1214.5,248.1 L1215.0,247.4" stroke="#1284ea" stroke-width="4.2" fill="none" stroke-linecap="round" stroke-linejoin="round"/>
<path d="M1215.0,247.4 L1215.5,246.7" stroke="#128aea" stroke-width="4.2" fill="none" stroke-linecap="round" stroke-linejoin="round"/>
<path d="M1215.5,246.7 L1216.0,246.0" stroke="#1290f0" stroke-width="4.2" fill="none" stroke-linecap="round" stroke-linejoin="round"/>
<path d="M1216.0,246.0 L1216.5,245.4" stroke="#129cf0" stroke-width="4.2" fill="none" stroke-linecap="round" stroke-linejoin="round"/>
<path d="M1216.5,245.4 L1217.0,244.8 L1217.5,244.1 L1218.1,243.5 L1218.6,242.9 L1219.2,242.3" stroke="#12a2f0" stroke-width="4.2" fill="none" stroke-linecap="round" stroke-linejoin="round"/>
<path d="M1219.2,242.3 L1219.7,241.7 L1220.3,241.1 L1220.9,240.6 L1221.6,240.0 L1222.2,239.5" stroke="#12a8f0" stroke-width="4.2" fill="none" stroke-linecap="round" stroke-linejoin="round"/>
<path d="M1222.2,239.5 L1223.0,239.0 L1223.7,238.5 L1224.5,238.1 L1225.4,237.7 L1226.3,237.3 L1227.3,237.0 L1228.4,236.6 L1229.5,236.3 L1230.6,236.0 L1231.8,235.7 L1233.0,235.5 L1234.2,235.2 L1235.4,235.0 L1236.6,234.9 L1237.8,234.7 L1239.1,234.6 L1240.2,234.5 L1241.4,234.5" stroke="#12aef0" stroke-width="4.2" fill="none" stroke-linecap="round" stroke-linejoin="round"/>
<line x1="1239.2" y1="213.0" x2="1239.2" y2="225.5" stroke="#2a2a2a" stroke-width="1.4" stroke-dasharray="1.7 1.1"/>
<path d="M1239.2,232.0 L1233.4,221.5 L1239.2,225.5 L1245.0,221.5 Z" fill="#000"/>
<text x="1239.2" y="211" font-size="16" text-anchor="middle" font-weight="normal" fill="#000" >I</text>
<line x1="1239.2" y1="316.0" x2="1239.2" y2="302.5" stroke="#2a2a2a" stroke-width="1.4" stroke-dasharray="1.7 1.1"/>
<path d="M1239.2,296.0 L1245.0,306.5 L1239.2,302.5 L1233.4,306.5 Z" fill="#000"/>
<text x="1240" y="333.4" font-size="16" text-anchor="middle" font-weight="normal" fill="#000" >O</text>
<path d="M333.2,389.3 L334.5,388.3 L335.9,387.4 L337.5,386.6 L339.2,386.0 L341.0,385.4 L342.9,384.9 L344.9,384.5 L346.9,384.2 L349.0,383.9 L351.0,383.7 L353.1,383.5 L355.1,383.3 L357.0,383.2 L358.9,383.1 L360.7,383.0" stroke="#1ed2f0" stroke-width="4.2" fill="none" stroke-linecap="round" stroke-linejoin="round"/>
<path d="M360.7,383.0 L362.6,383.0 L364.4,383.0 L366.3,383.1 L368.1,383.3 L370.0,383.5 L371.8,383.7" stroke="#1eccf0" stroke-width="4.2" fill="none" stroke-linecap="round" stroke-linejoin="round"/>
<path d="M371.8,383.7 L373.7,384.0 L375.5,384.3 L377.3,384.7 L379.1,385.0 L380.9,385.5" stroke="#1ec6f0" stroke-width="4.2" fill="none" stroke-linecap="round" stroke-linejoin="round"/>
<path d="M380.9,385.5 L382.7,385.9 L384.5,386.4 L386.3,386.9 L388.0,387.5 L389.8,388.1 L391.6,388.8 L393.3,389.5 L395.1,390.3" stroke="#1ec0f0" stroke-width="4.2" fill="none" stroke-linecap="round" stroke-linejoin="round"/>
<path d="M395.1,390.3 L396.8,391.1 L398.5,391.9 L400.2,392.7 L401.9,393.6 L403.5,394.4 L405.2,395.2 L406.8,396.1 L408.3,396.9 L409.8,397.7 L411.4,398.6 L412.9,399.4 L414.4,400.3 L415.9,401.1" stroke="#1ec6f0" stroke-width="4.2" fill="none" stroke-linecap="round" stroke-linejoin="round"/>
<path d="M415.9,401.1 L417.4,402.0 L418.9,402.9 L420.3,403.8 L421.6,404.7 L422.9,405.6" stroke="#1ec0f0" stroke-width="4.2" fill="none" stroke-linecap="round" stroke-linejoin="round"/>
<path d="M422.9,405.6 L424.1,406.5 L425.3,407.4 L426.3,408.3 L427.3,409.2 L428.2,410.1" stroke="#1ebaf0" stroke-width="4.2" fill="none" stroke-linecap="round" stroke-linejoin="round"/>
<path d="M428.2,410.1 L429.0,411.0 L429.7,411.9" stroke="#1eb4f0" stroke-width="4.2" fill="none" stroke-linecap="round" stroke-linejoin="round"/>
<path d="M429.7,411.9 L430.3,412.8 L430.8,413.6" stroke="#1eaef0" stroke-width="4.2" fill="none" stroke-linecap="round" stroke-linejoin="round"/>
<path d="M430.8,413.6 L431.3,414.5 L431.8,415.4" stroke="#1ea8f0" stroke-width="4.2" fill="none" stroke-linecap="round" stroke-linejoin="round"/>
<path d="M431.8,415.4 L432.2,416.3 L432.5,417.3" stroke="#1ea2f0" stroke-width="4.2" fill="none" stroke-linecap="round" stroke-linejoin="round"/>
<path d="M432.5,417.3 L432.9,418.3 L433.2,419.3" stroke="#1e9cf0" stroke-width="4.2" fill="none" stroke-linecap="round" stroke-linejoin="round"/>
<path d="M433.2,419.3 L433.5,420.3 L433.7,421.4" stroke="#1e96f0" stroke-width="4.2" fill="none" stroke-linecap="round" stroke-linejoin="round"/>
<path d="M433.7,421.4 L434.0,422.5 L434.3,423.7 L434.5,424.9 L434.6,426.2" stroke="#1e90f0" stroke-width="4.2" fill="none" stroke-linecap="round" stroke-linejoin="round"/>
<path d="M434.6,426.2 L434.8,427.6 L434.9,428.9 L435.0,430.3 L435.0,431.8 L435.1,433.2" stroke="#1e8af0" stroke-width="4.2" fill="none" stroke-linecap="round" stroke-linejoin="round"/>
<path d="M435.1,433.2 L435.1,434.6 L435.1,436.0 L435.1,437.4 L435.0,438.8 L435.0,440.2 L434.9,441.5" stroke="#1e84f0" stroke-width="4.2" fill="none" stroke-linecap="round" stroke-linejoin="round"/>
<path d="M434.9,441.5 L434.8,442.8" stroke="#1e7ef0" stroke-width="4.2" fill="none" stroke-linecap="round" stroke-linejoin="round"/>
<path d="M434.8,442.8 L434.8,444.1" stroke="#1e78f0" stroke-width="4.2" fill="none" stroke-linecap="round" stroke-linejoin="round"/>
<path d="M434.8,444.1 L434.7,445.3" stroke="#1e72ea" stroke-width="4.2" fill="none" stroke-linecap="round" stroke-linejoin="round"/>
<path d="M434.7,445.3 L434.6,446.6" stroke="#1e66ea" stroke-width="4.2" fill="none" stroke-linecap="round" stroke-linejoin="round"/>
<path d="M434.6,446.6 L434.4,447.8" stroke="#1e60e4" stroke-width="4.2" fill="none" stroke-linecap="round" stroke-linejoin="round"/>
<path d="M434.4,447.8 L434.3,449.1" stroke="#1e5ae4" stroke-width="4.2" fill="none" stroke-linecap="round" stroke-linejoin="round"/>
<path d="M434.3,449.1 L434.1,450.3" stroke="#1e4ede" stroke-width="4.2" fill="none" stroke-linecap="round" stroke-linejoin="round"/>
<path d="M434.1,450.3 L434.0,451.5" stroke="#1e5ae4" stroke-width="4.2" fill="none" stroke-linecap="round" stroke-linejoin="round"/>
<path d="M434.0,451.5 L433.7,452.7" stroke="#1e66e4" stroke-width="4.2" fill="none" stroke-linecap="round" stroke-linejoin="round"/>
<path d="M433.7,452.7 L433.5,453.9" stroke="#1e72e4" stroke-width="4.2" fill="none" stroke-linecap="round" stroke-linejoin="round"/>
<path d="M433.5,453.9 L433.2,455.1" stroke="#1e7eea" stroke-width="4.2" fill="none" stroke-linecap="round" stroke-linejoin="round"/>
<path d="M433.2,455.1 L432.9,456.3" stroke="#1e8aea" stroke-width="4.2" fill="none" stroke-linecap="round" stroke-linejoin="round"/>
<path d="M432.9,456.3 L432.5,457.5" stroke="#1e96ea" stroke-width="4.2" fill="none" stroke-linecap="round" stroke-linejoin="round"/>
<path d="M432.5,457.5 L432.1,458.7" stroke="#1ea2f0" stroke-width="4.2" fill="none" stroke-linecap="round" stroke-linejoin="round"/>
<path d="M432.1,458.7 L431.6,459.9" stroke="#1eaef0" stroke-width="4.2" fill="none" stroke-linecap="round" stroke-linejoin="round"/>
<path d="M431.6,459.9 L431.1,461.0" stroke="#1ea8f0" stroke-width="4.2" fill="none" stroke-linecap="round" stroke-linejoin="round"/>
<path d="M431.1,461.0 L430.6,462.2" stroke="#1e9cea" stroke-width="4.2" fill="none" stroke-linecap="round" stroke-linejoin="round"/>
<path d="M430.6,462.2 L430.0,463.3" stroke="#1e90ea" stroke-width="4.2" fill="none" stroke-linecap="round" stroke-linejoin="round"/>
<path d="M430.0,463.3 L429.4,464.4" stroke="#1e84ea" stroke-width="4.2" fill="none" stroke-linecap="round" stroke-linejoin="round"/>
<path d="M429.4,464.4 L428.7,465.5" stroke="#1e78ea" stroke-width="4.2" fill="none" stroke-linecap="round" stroke-linejoin="round"/>
<path d="M428.7,465.5 L428.1,466.6" stroke="#1e72e4" stroke-width="4.2" fill="none" stroke-linecap="round" stroke-linejoin="round"/>
<path d="M428.1,466.6 L427.4,467.8" stroke="#1e66e4" stroke-width="4.2" fill="none" stroke-linecap="round" stroke-linejoin="round"/>
<path d="M427.4,467.8 L426.6,468.9" stroke="#1e5ae4" stroke-width="4.2" fill="none" stroke-linecap="round" stroke-linejoin="round"/>
<path d="M426.6,468.9 L425.9,470.0" stroke="#1e4ede" stroke-width="4.2" fill="none" stroke-linecap="round" stroke-linejoin="round"/>
<path d="M425.9,470.0 L425.1,471.2" stroke="#2a48d8" stroke-width="4.2" fill="none" stroke-linecap="round" stroke-linejoin="round"/>
<path d="M425.1,471.2 L424.3,472.4" stroke="#363ccc" stroke-width="4.2" fill="none" stroke-linecap="round" stroke-linejoin="round"/>
<path d="M424.3,472.4 L423.4,473.6" stroke="#4230c0" stroke-width="4.2" fill="none" stroke-linecap="round" stroke-linejoin="round"/>
<path d="M423.4,473.6 L422.6,474.8" stroke="#4824b4" stroke-width="4.2" fill="none" stroke-linecap="round" stroke-linejoin="round"/>
<path d="M422.6,474.8 L421.7,476.1" stroke="#5418a8" stroke-width="4.2" fill="none" stroke-linecap="round" stroke-linejoin="round"/>
<path d="M421.7,476.1 L420.8,477.4" stroke="#6012a2" stroke-width="4.2" fill="none" stroke-linecap="round" stroke-linejoin="round"/>
<path d="M420.8,477.4 L419.9,478.7" stroke="#78128a" stroke-width="4.2" fill="none" stroke-linecap="round" stroke-linejoin="round"/>
<path d="M419.9,478.7 L418.9,480.1" stroke="#901278" stroke-width="4.2" fill="none" stroke-linecap="round" stroke-linejoin="round"/>
<path d="M418.9,480.1 L417.9,481.5" stroke="#a81266" stroke-width="4.2" fill="none" stroke-linecap="round" stroke-linejoin="round"/>
<path d="M417.9,481.5 L416.9,482.9" stroke="#c0124e" stroke-width="4.2" fill="none" stroke-linecap="round" stroke-linejoin="round"/>
<path d="M416.9,482.9 L415.9,484.4" stroke="#ae1260" stroke-width="4.2" fill="none" stroke-linecap="round" stroke-linejoin="round"/>
<path d="M415.9,484.4 L414.8,485.8" stroke="#a2126c" stroke-width="4.2" fill="none" stroke-linecap="round" stroke-linejoin="round"/>
<path d="M414.8,485.8 L413.7,487.2" stroke="#901278" stroke-width="4.2" fill="none" stroke-linecap="round" stroke-linejoin="round"/>
<path d="M413.7,487.2 L412.7,488.6" stroke="#7e128a" stroke-width="4.2" fill="none" stroke-linecap="round" stroke-linejoin="round"/>
<path d="M412.7,488.6 L411.6,489.9" stroke="#721296" stroke-width="4.2" fill="none" stroke-linecap="round" stroke-linejoin="round"/>
<path d="M411.6,489.9 L410.5,491.3" stroke="#6012a2" stroke-width="4.2" fill="none" stroke-linecap="round" stroke-linejoin="round"/>
<path d="M410.5,491.3 L409.4,492.6" stroke="#4e12b4" stroke-width="4.2" fill="none" stroke-linecap="round" stroke-linejoin="round"/>
<path d="M409.4,492.6 L408.3,493.8" stroke="#4212c0" stroke-width="4.2" fill="none" stroke-linecap="round" stroke-linejoin="round"/>
<path d="M408.3,493.8 L407.2,495.0" stroke="#3c30cc" stroke-width="4.2" fill="none" stroke-linecap="round" stroke-linejoin="round"/>
<path d="M407.2,495.0 L406.2,496.2" stroke="#364ed2" stroke-width="4.2" fill="none" stroke-linecap="round" stroke-linejoin="round"/>
<path d="M406.2,496.2 L405.1,497.4" stroke="#2a72de" stroke-width="4.2" fill="none" stroke-linecap="round" stroke-linejoin="round"/>
<path d="M405.1,497.4 L404.1,498.6" stroke="#2490e4" stroke-width="4.2" fill="none" stroke-linecap="round" stroke-linejoin="round"/>
<path d="M404.1,498.6 L403.0,499.8" stroke="#1eaef0" stroke-width="4.2" fill="none" stroke-linecap="round" stroke-linejoin="round"/>
<path d="M403.0,499.8 L401.9,501.0 L400.9,502.1 L399.7,503.2 L398.6,504.3" stroke="#1eb4f0" stroke-width="4.2" fill="none" stroke-linecap="round" stroke-linejoin="round"/>
<path d="M398.6,504.3 L397.4,505.3 L396.2,506.3 L394.9,507.3 L393.5,508.2" stroke="#1ebaf0" stroke-width="4.2" fill="none" stroke-linecap="round" stroke-linejoin="round"/>
<path d="M393.5,508.2 L392.1,509.0 L390.6,509.8" stroke="#1ec0f0" stroke-width="4.2" fill="none" stroke-linecap="round" stroke-linejoin="round"/>
<path d="M390.6,509.8 L389.0,510.6" stroke="#1eb4f0" stroke-width="4.2" fill="none" stroke-linecap="round" stroke-linejoin="round"/>
<path d="M389.0,510.6 L387.3,511.4" stroke="#1ea8ea" stroke-width="4.2" fill="none" stroke-linecap="round" stroke-linejoin="round"/>
<path d="M387.3,511.4 L385.6,512.1" stroke="#1e9cea" stroke-width="4.2" fill="none" stroke-linecap="round" stroke-linejoin="round"/>
<path d="M385.6,512.1 L383.8,512.8" stroke="#1e90ea" stroke-width="4.2" fill="none" stroke-linecap="round" stroke-linejoin="round"/>
<path d="M383.8,512.8 L381.9,513.4" stroke="#1e84ea" stroke-width="4.2" fill="none" stroke-linecap="round" stroke-linejoin="round"/>
<path d="M381.9,513.4 L380.0,514.0" stroke="#1e78e4" stroke-width="4.2" fill="none" stroke-linecap="round" stroke-linejoin="round"/>
<path d="M380.0,514.0 L378.2,514.6" stroke="#1e66e4" stroke-width="4.2" fill="none" stroke-linecap="round" stroke-linejoin="round"/>
<path d="M378.2,514.6 L376.3,515.1" stroke="#1e5ae4" stroke-width="4.2" fill="none" stroke-linecap="round" stroke-linejoin="round"/>
<path d="M376.3,515.1 L374.4,515.5" stroke="#1e4ede" stroke-width="4.2" fill="none" stroke-linecap="round" stroke-linejoin="round"/>
<path d="M374.4,515.5 L372.6,515.9" stroke="#4242c0" stroke-width="4.2" fill="none" stroke-linecap="round" stroke-linejoin="round"/>
<path d="M372.6,515.9 L370.8,516.2" stroke="#6036a2" stroke-width="4.2" fill="none" stroke-linecap="round" stroke-linejoin="round"/>
<path d="M370.8,516.2 L369.1,516.5" stroke="#7e2a7e" stroke-width="4.2" fill="none" stroke-linecap="round" stroke-linejoin="round"/>
<path d="M369.1,516.5 L367.4,516.6" stroke="#a21e60" stroke-width="4.2" fill="none" stroke-linecap="round" stroke-linejoin="round"/>
<path d="M367.4,516.6 L365.8,516.7" stroke="#c01242" stroke-width="4.2" fill="none" stroke-linecap="round" stroke-linejoin="round"/>
<path d="M365.8,516.7 L364.1,516.7" stroke="#ba1248" stroke-width="4.2" fill="none" stroke-linecap="round" stroke-linejoin="round"/>
<path d="M364.1,516.7 L362.5,516.6" stroke="#b41248" stroke-width="4.2" fill="none" stroke-linecap="round" stroke-linejoin="round"/>
<path d="M362.5,516.6 L360.9,516.5" stroke="#ae124e" stroke-width="4.2" fill="none" stroke-linecap="round" stroke-linejoin="round"/>
<path d="M360.9,516.5 L359.3,516.3" stroke="#a81254" stroke-width="4.2" fill="none" stroke-linecap="round" stroke-linejoin="round"/>
<path d="M359.3,516.3 L357.7,516.0" stroke="#a8125a" stroke-width="4.2" fill="none" stroke-linecap="round" stroke-linejoin="round"/>
<path d="M357.7,516.0 L356.2,515.7" stroke="#a21260" stroke-width="4.2" fill="none" stroke-linecap="round" stroke-linejoin="round"/>
<path d="M356.2,515.7 L354.7,515.3" stroke="#8a1272" stroke-width="4.2" fill="none" stroke-linecap="round" stroke-linejoin="round"/>
<path d="M354.7,515.3 L353.2,514.9" stroke="#78188a" stroke-width="4.2" fill="none" stroke-linecap="round" stroke-linejoin="round"/>
<path d="M353.2,514.9 L351.7,514.4" stroke="#60189c" stroke-width="4.2" fill="none" stroke-linecap="round" stroke-linejoin="round"/>
<path d="M351.7,514.4 L350.3,513.8" stroke="#4818ae" stroke-width="4.2" fill="none" stroke-linecap="round" stroke-linejoin="round"/>
<path d="M350.3,513.8 L349.0,513.2" stroke="#361ec6" stroke-width="4.2" fill="none" stroke-linecap="round" stroke-linejoin="round"/>
<path d="M349.0,513.2 L347.7,512.6" stroke="#1e1ed8" stroke-width="4.2" fill="none" stroke-linecap="round" stroke-linejoin="round"/>
<path d="M347.7,512.6 L346.5,511.9" stroke="#1e24d8" stroke-width="4.2" fill="none" stroke-linecap="round" stroke-linejoin="round"/>
<path d="M346.5,511.9 L345.3,511.2 L344.2,510.4" stroke="#1e2ad8" stroke-width="4.2" fill="none" stroke-linecap="round" stroke-linejoin="round"/>
<path d="M344.2,510.4 L343.2,509.5" stroke="#1e30d8" stroke-width="4.2" fill="none" stroke-linecap="round" stroke-linejoin="round"/>
<path d="M343.2,509.5 L342.2,508.7 L341.2,507.7" stroke="#1e36d8" stroke-width="4.2" fill="none" stroke-linecap="round" stroke-linejoin="round"/>
<path d="M341.2,507.7 L340.3,506.7" stroke="#1e3cde" stroke-width="4.2" fill="none" stroke-linecap="round" stroke-linejoin="round"/>
<path d="M340.3,506.7 L339.4,505.7 L338.6,504.6" stroke="#1e42de" stroke-width="4.2" fill="none" stroke-linecap="round" stroke-linejoin="round"/>
<path d="M338.6,504.6 L337.8,503.4" stroke="#1e48de" stroke-width="4.2" fill="none" stroke-linecap="round" stroke-linejoin="round"/>
<path d="M337.8,503.4 L337.0,502.2 L336.2,500.9" stroke="#1e4ede" stroke-width="4.2" fill="none" stroke-linecap="round" stroke-linejoin="round"/>
<path d="M336.2,500.9 L335.5,499.6" stroke="#1e54de" stroke-width="4.2" fill="none" stroke-linecap="round" stroke-linejoin="round"/>
<path d="M335.5,499.6 L334.9,498.2 L334.2,496.7" stroke="#1e5ade" stroke-width="4.2" fill="none" stroke-linecap="round" stroke-linejoin="round"/>
<path d="M334.2,496.7 L333.6,495.2 L333.0,493.5 L332.5,491.8 L332.0,490.0 L331.6,488.1 L331.1,486.2 L330.8,484.2 L330.4,482.2 L330.1,480.2 L329.7,478.2 L329.4,476.1 L329.1,474.1 L328.8,472.1 L328.5,470.1 L328.2,468.1" stroke="#1e60de" stroke-width="4.2" fill="none" stroke-linecap="round" stroke-linejoin="round"/>
<path d="M328.2,468.1 L327.9,466.1" stroke="#1e66e4" stroke-width="4.2" fill="none" stroke-linecap="round" stroke-linejoin="round"/>
<path d="M327.9,466.1 L327.6,464.1" stroke="#1e6ce4" stroke-width="4.2" fill="none" stroke-linecap="round" stroke-linejoin="round"/>
<path d="M327.6,464.1 L327.4,462.1" stroke="#1e72e4" stroke-width="4.2" fill="none" stroke-linecap="round" stroke-linejoin="round"/>
<path d="M327.4,462.1 L327.1,460.0" stroke="#1e78e4" stroke-width="4.2" fill="none" stroke-linecap="round" stroke-linejoin="round"/>
<path d="M327.1,460.0 L326.9,458.0" stroke="#1e7eea" stroke-width="4.2" fill="none" stroke-linecap="round" stroke-linejoin="round"/>
<path d="M326.9,458.0 L326.7,455.9" stroke="#1e84ea" stroke-width="4.2" fill="none" stroke-linecap="round" stroke-linejoin="round"/>
<path d="M326.7,455.9 L326.5,453.9" stroke="#1e8aea" stroke-width="4.2" fill="none" stroke-linecap="round" stroke-linejoin="round"/>
<path d="M326.5,453.9 L326.3,451.8" stroke="#1e96ea" stroke-width="4.2" fill="none" stroke-linecap="round" stroke-linejoin="round"/>
<path d="M326.3,451.8 L326.1,449.7" stroke="#1e9cf0" stroke-width="4.2" fill="none" stroke-linecap="round" stroke-linejoin="round"/>
<path d="M326.1,449.7 L325.9,447.7 L325.8,445.6" stroke="#1ea2f0" stroke-width="4.2" fill="none" stroke-linecap="round" stroke-linejoin="round"/>
<path d="M325.8,445.6 L325.7,443.5 L325.6,441.5 L325.5,439.4" stroke="#1ea8f0" stroke-width="4.2" fill="none" stroke-linecap="round" stroke-linejoin="round"/>
<path d="M325.5,439.4 L325.4,437.4 L325.4,435.3" stroke="#1eaef0" stroke-width="4.2" fill="none" stroke-linecap="round" stroke-linejoin="round"/>
<path d="M325.4,435.3 L325.3,433.2 L325.3,431.1" stroke="#1eb4f0" stroke-width="4.2" fill="none" stroke-linecap="round" stroke-linejoin="round"/>
<path d="M325.3,431.1 L325.2,429.0 L325.2,426.9" stroke="#1ebaf0" stroke-width="4.2" fill="none" stroke-linecap="round" stroke-linejoin="round"/>
<path d="M325.2,426.9 L325.2,424.9 L325.3,422.8 L325.4,420.8" stroke="#1ec0f0" stroke-width="4.2" fill="none" stroke-linecap="round" stroke-linejoin="round"/>
<path d="M325.4,420.8 L325.5,418.8 L325.7,416.8" stroke="#1ec6f0" stroke-width="4.2" fill="none" stroke-linecap="round" stroke-linejoin="round"/>
<path d="M325.7,416.8 L325.9,414.9 L326.1,413.0" stroke="#1eccf0" stroke-width="4.2" fill="none" stroke-linecap="round" stroke-linejoin="round"/>
<path d="M326.1,413.0 L326.4,411.1 L326.6,409.2 L326.8,407.3 L327.1,405.4 L327.4,403.5 L327.7,401.6 L328.1,399.8 L328.5,398.0 L329.0,396.3 L329.6,394.7 L330.3,393.1 L331.2,391.7 L332.1,390.4 L333.2,389.3" stroke="#1ed2f0" stroke-width="4.2" fill="none" stroke-linecap="round" stroke-linejoin="round"/>
<line x1="295.7" y1="453.2" x2="314.0" y2="453.2" stroke="#2a2a2a" stroke-width="1.4" stroke-dasharray="1.7 1.1"/>
<path d="M320.5,453.2 L310.0,459.0 L314.0,453.2 L310.0,447.4 Z" fill="#000"/>
<text x="287" y="458.6" font-size="16" text-anchor="middle" font-weight="normal" fill="#000" >O</text>
<line x1="464.3" y1="453.2" x2="446.5" y2="453.2" stroke="#2a2a2a" stroke-width="1.4" stroke-dasharray="1.7 1.1"/>
<path d="M440.0,453.2 L450.5,447.4 L446.5,453.2 L450.5,459.0 Z" fill="#000"/>
<text x="469.7" y="458.6" font-size="16" text-anchor="middle" font-weight="normal" fill="#000" >I</text>
<path d="M583.7,395.2 L585.3,395.2 L586.9,395.3" stroke="#1896ea" stroke-width="4.4" fill="none" stroke-linecap="round" stroke-linejoin="round"/>
<path d="M586.9,395.3 L588.6,395.5 L590.3,395.7 L592.0,396.0" stroke="#1896e4" stroke-width="4.4" fill="none" stroke-linecap="round" stroke-linejoin="round"/>
<path d="M592.0,396.0 L593.7,396.3 L595.4,396.6 L597.1,397.0 L598.8,397.4 L600.5,397.9" stroke="#1890e4" stroke-width="4.4" fill="none" stroke-linecap="round" stroke-linejoin="round"/>
<path d="M600.5,397.9 L602.2,398.4 L603.8,398.9 L605.4,399.4" stroke="#188ae4" stroke-width="4.4" fill="none" stroke-linecap="round" stroke-linejoin="round"/>
<path d="M605.4,399.4 L606.9,399.9 L608.4,400.4 L609.8,401.0" stroke="#188ade" stroke-width="4.4" fill="none" stroke-linecap="round" stroke-linejoin="round"/>
<path d="M609.8,401.0 L611.3,401.6 L612.7,402.2 L614.1,402.9 L615.4,403.5 L616.8,404.2 L618.1,405.0 L619.4,405.8" stroke="#188ae4" stroke-width="4.4" fill="none" stroke-linecap="round" stroke-linejoin="round"/>
<path d="M619.4,405.8 L620.7,406.6 L621.9,407.4 L623.1,408.3 L624.3,409.2" stroke="#1890e4" stroke-width="4.4" fill="none" stroke-linecap="round" stroke-linejoin="round"/>
<path d="M624.3,409.2 L625.5,410.1 L626.7,411.1 L627.8,412.1 L629.0,413.1" stroke="#1890ea" stroke-width="4.4" fill="none" stroke-linecap="round" stroke-linejoin="round"/>
<path d="M629.0,413.1 L630.1,414.2 L631.2,415.3 L632.3,416.5 L633.3,417.6 L634.3,418.8" stroke="#1896ea" stroke-width="4.4" fill="none" stroke-linecap="round" stroke-linejoin="round"/>
<path d="M634.3,418.8 L635.3,420.1 L636.2,421.4 L637.1,422.7 L637.9,424.0 L638.7,425.4 L639.4,426.8" stroke="#189cea" stroke-width="4.4" fill="none" stroke-linecap="round" stroke-linejoin="round"/>
<path d="M639.4,426.8 L640.0,428.3 L640.6,429.8 L641.1,431.3 L641.6,433.0 L642.0,434.6 L642.4,436.3 L642.7,438.0 L643.0,439.7 L643.2,441.4" stroke="#18a2ea" stroke-width="4.4" fill="none" stroke-linecap="round" stroke-linejoin="round"/>
<path d="M643.2,441.4 L643.4,443.2 L643.6,444.9 L643.8,446.6 L643.9,448.3 L644.0,450.0 L644.1,451.7 L644.1,453.3" stroke="#18a8f0" stroke-width="4.4" fill="none" stroke-linecap="round" stroke-linejoin="round"/>
<path d="M644.1,453.3 L644.2,455.0 L644.2,456.6" stroke="#18aef0" stroke-width="4.4" fill="none" stroke-linecap="round" stroke-linejoin="round"/>
<path d="M644.2,456.6 L644.1,458.3 L644.1,459.9" stroke="#18b4f0" stroke-width="4.4" fill="none" stroke-linecap="round" stroke-linejoin="round"/>
<path d="M644.1,459.9 L644.0,461.6 L643.8,463.3" stroke="#18baf0" stroke-width="4.4" fill="none" stroke-linecap="round" stroke-linejoin="round"/>
<path d="M643.8,463.3 L643.7,464.9 L643.4,466.6" stroke="#18c0f0" stroke-width="4.4" fill="none" stroke-linecap="round" stroke-linejoin="round"/>
<path d="M643.4,466.6 L643.2,468.2 L642.9,469.9" stroke="#18c6f0" stroke-width="4.4" fill="none" stroke-linecap="round" stroke-linejoin="round"/>
<path d="M642.9,469.9 L642.6,471.5 L642.2,473.2" stroke="#18ccf0" stroke-width="4.4" fill="none" stroke-linecap="round" stroke-linejoin="round"/>
<path d="M642.2,473.2 L641.8,474.9 L641.3,476.6 L640.8,478.3 L640.3,480.0 L639.7,481.7" stroke="#18d2f0" stroke-width="4.4" fill="none" stroke-linecap="round" stroke-linejoin="round"/>
<path d="M639.7,481.7 L639.1,483.4" stroke="#18d8f0" stroke-width="4.4" fill="none" stroke-linecap="round" stroke-linejoin="round"/>
<path d="M639.1,483.4 L638.5,485.1 L637.8,486.8 L637.1,488.5 L636.3,490.1" stroke="#18d8ea" stroke-width="4.4" fill="none" stroke-linecap="round" stroke-linejoin="round"/>
<path d="M636.3,490.1 L635.5,491.7 L634.7,493.3 L633.8,494.9 L632.9,496.4 L631.9,497.9 L630.9,499.4 L629.9,500.9 L628.8,502.4 L627.7,503.9 L626.5,505.3 L625.3,506.8 L624.1,508.1 L622.8,509.4" stroke="#18deea" stroke-width="4.4" fill="none" stroke-linecap="round" stroke-linejoin="round"/>
<path d="M622.8,509.4 L621.5,510.7 L620.2,511.9 L618.9,513.0 L617.6,514.0 L616.2,514.9 L614.8,515.7 L613.4,516.5" stroke="#18def0" stroke-width="4.4" fill="none" stroke-linecap="round" stroke-linejoin="round"/>
<path d="M613.4,516.5 L611.9,517.1 L610.4,517.7 L608.9,518.2 L607.3,518.7 L605.7,519.1 L604.1,519.4 L602.6,519.7 L601.0,520.0 L599.4,520.1 L597.8,520.3 L596.3,520.4" stroke="#18e4f0" stroke-width="4.4" fill="none" stroke-linecap="round" stroke-linejoin="round"/>
<path d="M596.3,520.4 L594.8,520.5 L593.3,520.5" stroke="#18eaf0" stroke-width="4.4" fill="none" stroke-linecap="round" stroke-linejoin="round"/>
<path d="M593.3,520.5 L591.8,520.5 L590.3,520.5 L588.8,520.4 L587.4,520.2 L585.9,520.1 L584.4,519.8" stroke="#18e4f0" stroke-width="4.4" fill="none" stroke-linecap="round" stroke-linejoin="round"/>
<path d="M584.4,519.8 L583.0,519.5 L581.5,519.2 L580.1,518.8 L578.6,518.4 L577.2,517.9" stroke="#18def0" stroke-width="4.4" fill="none" stroke-linecap="round" stroke-linejoin="round"/>
<path d="M577.2,517.9 L575.8,517.4 L574.4,516.8 L573.0,516.2 L571.6,515.5 L570.2,514.7 L568.8,513.9 L567.4,513.0 L566.1,512.1 L564.7,511.1 L563.3,510.1 L562.0,509.1 L560.7,508.1 L559.4,507.0 L558.2,505.9 L557.0,504.9 L555.8,503.8 L554.6,502.7 L553.5,501.7 L552.4,500.7 L551.3,499.6 L550.2,498.6 L549.2,497.5 L548.1,496.4 L547.2,495.2 L546.2,494.0 L545.3,492.8 L544.4,491.5 L543.5,490.1 L542.7,488.6 L541.9,487.1 L541.1,485.5 L540.4,483.7 L539.7,481.9 L539.0,480.0 L538.4,478.0 L537.7,476.0 L537.2,473.9 L536.6,471.8 L536.1,469.7 L535.7,467.6 L535.3,465.5 L535.0,463.4 L534.7,461.3 L534.5,459.3 L534.4,457.3 L534.3,455.2 L534.3,453.1 L534.4,451.0 L534.5,448.9 L534.6,446.8" stroke="#18d8f0" stroke-width="4.4" fill="none" stroke-linecap="round" stroke-linejoin="round"/>
<path d="M534.6,446.8 L534.9,444.7 L535.1,442.6 L535.4,440.5 L535.7,438.6 L536.1,436.6 L536.5,434.8 L536.9,433.0 L537.3,431.4 L537.7,429.9" stroke="#18d2f0" stroke-width="4.4" fill="none" stroke-linecap="round" stroke-linejoin="round"/>
<path d="M537.7,429.9 L538.2,428.4 L538.7,427.0 L539.3,425.8 L539.8,424.5 L540.4,423.4 L541.1,422.2" stroke="#18ccf0" stroke-width="4.4" fill="none" stroke-linecap="round" stroke-linejoin="round"/>
<path d="M541.1,422.2 L541.8,421.1 L542.5,420.1 L543.2,419.0 L544.0,418.0 L544.8,416.9" stroke="#18c6f0" stroke-width="4.4" fill="none" stroke-linecap="round" stroke-linejoin="round"/>
<path d="M544.8,416.9 L545.7,415.8 L546.6,414.7 L547.6,413.6 L548.6,412.4 L549.6,411.2" stroke="#18c0f0" stroke-width="4.4" fill="none" stroke-linecap="round" stroke-linejoin="round"/>
<path d="M549.6,411.2 L550.7,410.0 L551.9,408.9 L553.0,407.7 L554.3,406.5 L555.5,405.4" stroke="#18baf0" stroke-width="4.4" fill="none" stroke-linecap="round" stroke-linejoin="round"/>
<path d="M555.5,405.4 L556.8,404.4 L558.0,403.3 L559.3,402.4 L560.7,401.5 L562.0,400.6 L563.3,399.9" stroke="#18b4f0" stroke-width="4.4" fill="none" stroke-linecap="round" stroke-linejoin="round"/>
<path d="M563.3,399.9 L564.6,399.2 L566.0,398.6 L567.4,398.1" stroke="#18aef0" stroke-width="4.4" fill="none" stroke-linecap="round" stroke-linejoin="round"/>
<path d="M567.4,398.1 L568.8,397.5 L570.2,397.1 L571.6,396.7" stroke="#18a8f0" stroke-width="4.4" fill="none" stroke-linecap="round" stroke-linejoin="round"/>
<path d="M571.6,396.7 L573.1,396.3" stroke="#18a8ea" stroke-width="4.4" fill="none" stroke-linecap="round" stroke-linejoin="round"/>
<path d="M573.1,396.3 L574.6,396.0 L576.1,395.8 L577.6,395.6" stroke="#18a2ea" stroke-width="4.4" fill="none" stroke-linecap="round" stroke-linejoin="round"/>
<path d="M577.6,395.6 L579.1,395.4 L580.6,395.3 L582.1,395.2 L583.7,395.2" stroke="#189cea" stroke-width="4.4" fill="none" stroke-linecap="round" stroke-linejoin="round"/>
<line x1="582.0" y1="370.0" x2="582.0" y2="384.5" stroke="#2a2a2a" stroke-width="1.4" stroke-dasharray="1.7 1.1"/>
<path d="M582.0,391.0 L576.2,380.5 L582.0,384.5 L587.8,380.5 Z" fill="#000"/>
<text x="582" y="367.9" font-size="16" text-anchor="middle" font-weight="normal" fill="#000" >I</text>
<line x1="547.0" y1="533.3" x2="559.5" y2="525.5" stroke="#2a2a2a" stroke-width="1.4" stroke-dasharray="1.7 1.1"/>
<path d="M565.0,522.0 L559.2,532.5 L559.5,525.5 L553.0,522.7 Z" fill="#000"/>
<text x="536.6" y="541.3" font-size="16" text-anchor="middle" font-weight="normal" fill="#000" >O</text>
<path d="M1012.3,426.9 L1013.1,426.9 L1014.0,426.8" stroke="#f6f000" stroke-width="4.2" fill="none" stroke-linecap="round" stroke-linejoin="round"/>
<path d="M1014.0,426.8 L1014.8,426.8 L1015.7,426.8" stroke="#f6ea00" stroke-width="4.2" fill="none" stroke-linecap="round" stroke-linejoin="round"/>
<path d="M1015.7,426.8 L1016.6,426.8 L1017.4,426.8" stroke="#f0e400" stroke-width="4.2" fill="none" stroke-linecap="round" stroke-linejoin="round"/>
<path d="M1017.4,426.8 L1018.3,426.8" stroke="#f0de00" stroke-width="4.2" fill="none" stroke-linecap="round" stroke-linejoin="round"/>
<path d="M1018.3,426.8 L1019.2,426.8" stroke="#eacc06" stroke-width="4.2" fill="none" stroke-linecap="round" stroke-linejoin="round"/>
<path d="M1019.2,426.8 L1020.1,426.8" stroke="#eab40c" stroke-width="4.2" fill="none" stroke-linecap="round" stroke-linejoin="round"/>
<path d="M1020.1,426.8 L1020.9,426.9" stroke="#e49c12" stroke-width="4.2" fill="none" stroke-linecap="round" stroke-linejoin="round"/>
<path d="M1020.9,426.9 L1021.8,427.0" stroke="#e48418" stroke-width="4.2" fill="none" stroke-linecap="round" stroke-linejoin="round"/>
<path d="M1021.8,427.0 L1022.6,427.1" stroke="#de721e" stroke-width="4.2" fill="none" stroke-linecap="round" stroke-linejoin="round"/>
<path d="M1022.6,427.1 L1023.4,427.2" stroke="#ba5a3c" stroke-width="4.2" fill="none" stroke-linecap="round" stroke-linejoin="round"/>
<path d="M1023.4,427.2 L1024.2,427.4" stroke="#96425a" stroke-width="4.2" fill="none" stroke-linecap="round" stroke-linejoin="round"/>
<path d="M1024.2,427.4 L1025.0,427.6" stroke="#722a72" stroke-width="4.2" fill="none" stroke-linecap="round" stroke-linejoin="round"/>
<path d="M1025.0,427.6 L1025.7,427.8" stroke="#4e1290" stroke-width="4.2" fill="none" stroke-linecap="round" stroke-linejoin="round"/>
<path d="M1025.7,427.8 L1026.5,428.1" stroke="#481896" stroke-width="4.2" fill="none" stroke-linecap="round" stroke-linejoin="round"/>
<path d="M1026.5,428.1 L1027.2,428.4" stroke="#4818a2" stroke-width="4.2" fill="none" stroke-linecap="round" stroke-linejoin="round"/>
<path d="M1027.2,428.4 L1027.9,428.7" stroke="#421ea8" stroke-width="4.2" fill="none" stroke-linecap="round" stroke-linejoin="round"/>
<path d="M1027.9,428.7 L1028.7,429.0" stroke="#3c24b4" stroke-width="4.2" fill="none" stroke-linecap="round" stroke-linejoin="round"/>
<path d="M1028.7,429.0 L1029.4,429.3" stroke="#362aba" stroke-width="4.2" fill="none" stroke-linecap="round" stroke-linejoin="round"/>
<path d="M1029.4,429.3 L1030.0,429.7" stroke="#3030c6" stroke-width="4.2" fill="none" stroke-linecap="round" stroke-linejoin="round"/>
<path d="M1030.0,429.7 L1030.7,430.0" stroke="#2a36cc" stroke-width="4.2" fill="none" stroke-linecap="round" stroke-linejoin="round"/>
<path d="M1030.7,430.0 L1031.4,430.4" stroke="#243cd8" stroke-width="4.2" fill="none" stroke-linecap="round" stroke-linejoin="round"/>
<path d="M1031.4,430.4 L1032.0,430.8" stroke="#1e42de" stroke-width="4.2" fill="none" stroke-linecap="round" stroke-linejoin="round"/>
<path d="M1032.0,430.8 L1032.7,431.2 L1033.3,431.6 L1033.9,432.0" stroke="#1e3cde" stroke-width="4.2" fill="none" stroke-linecap="round" stroke-linejoin="round"/>
<path d="M1033.9,432.0 L1034.5,432.4 L1035.1,432.8" stroke="#1e36de" stroke-width="4.2" fill="none" stroke-linecap="round" stroke-linejoin="round"/>
<path d="M1035.1,432.8 L1035.7,433.3 L1036.3,433.7 L1036.8,434.2" stroke="#1e30de" stroke-width="4.2" fill="none" stroke-linecap="round" stroke-linejoin="round"/>
<path d="M1036.8,434.2 L1037.4,434.7 L1037.9,435.1" stroke="#1e2ad8" stroke-width="4.2" fill="none" stroke-linecap="round" stroke-linejoin="round"/>
<path d="M1037.9,435.1 L1038.4,435.6 L1038.9,436.1 L1039.4,436.6" stroke="#1e24d8" stroke-width="4.2" fill="none" stroke-linecap="round" stroke-linejoin="round"/>
<path d="M1039.4,436.6 L1039.8,437.1 L1040.2,437.6 L1040.6,438.0 L1040.9,438.5 L1041.2,439.0 L1041.5,439.4 L1041.7,439.9" stroke="#1e1ed8" stroke-width="4.2" fill="none" stroke-linecap="round" stroke-linejoin="round"/>
<path d="M1041.7,439.9 L1041.9,440.3 L1042.1,440.8 L1042.2,441.2 L1042.3,441.7 L1042.4,442.2 L1042.5,442.6 L1042.6,443.1 L1042.6,443.5 L1042.6,444.0 L1042.5,444.4 L1042.5,444.9 L1042.4,445.4" stroke="#1e1ede" stroke-width="4.2" fill="none" stroke-linecap="round" stroke-linejoin="round"/>
<path d="M1042.4,445.4 L1042.3,445.8 L1042.2,446.3" stroke="#241ede" stroke-width="4.2" fill="none" stroke-linecap="round" stroke-linejoin="round"/>
<path d="M1042.2,446.3 L1042.1,446.8 L1041.9,447.3" stroke="#241ed8" stroke-width="4.2" fill="none" stroke-linecap="round" stroke-linejoin="round"/>
<path d="M1041.9,447.3 L1041.7,447.8 L1041.5,448.2" stroke="#2418d2" stroke-width="4.2" fill="none" stroke-linecap="round" stroke-linejoin="round"/>
<path d="M1041.5,448.2 L1041.3,448.7" stroke="#2a18d2" stroke-width="4.2" fill="none" stroke-linecap="round" stroke-linejoin="round"/>
<path d="M1041.3,448.7 L1041.0,449.2 L1040.7,449.7" stroke="#2a18cc" stroke-width="4.2" fill="none" stroke-linecap="round" stroke-linejoin="round"/>
<path d="M1040.7,449.7 L1040.4,450.1" stroke="#2a12cc" stroke-width="4.2" fill="none" stroke-linecap="round" stroke-linejoin="round"/>
<path d="M1040.4,450.1 L1040.1,450.6" stroke="#2a12c6" stroke-width="4.2" fill="none" stroke-linecap="round" stroke-linejoin="round"/>
<path d="M1040.1,450.6 L1039.7,451.0" stroke="#3012c6" stroke-width="4.2" fill="none" stroke-linecap="round" stroke-linejoin="round"/>
<path d="M1039.7,451.0 L1039.3,451.4 L1038.9,451.8 L1038.4,452.2" stroke="#3012c0" stroke-width="4.2" fill="none" stroke-linecap="round" stroke-linejoin="round"/>
<path d="M1038.4,452.2 L1037.9,452.6" stroke="#3012ba" stroke-width="4.2" fill="none" stroke-linecap="round" stroke-linejoin="round"/>
<path d="M1037.9,452.6 L1037.4,453.0" stroke="#3612ba" stroke-width="4.2" fill="none" stroke-linecap="round" stroke-linejoin="round"/>
<path d="M1037.4,453.0 L1036.9,453.4 L1036.3,453.8 L1035.7,454.2" stroke="#3612b4" stroke-width="4.2" fill="none" stroke-linecap="round" stroke-linejoin="round"/>
<path d="M1035.7,454.2 L1035.1,454.6" stroke="#3612ae" stroke-width="4.2" fill="none" stroke-linecap="round" stroke-linejoin="round"/>
<path d="M1035.1,454.6 L1034.5,454.9 L1033.9,455.2" stroke="#3c12ae" stroke-width="4.2" fill="none" stroke-linecap="round" stroke-linejoin="round"/>
<path d="M1033.9,455.2 L1033.2,455.5 L1032.5,455.8" stroke="#3c12a8" stroke-width="4.2" fill="none" stroke-linecap="round" stroke-linejoin="round"/>
<path d="M1032.5,455.8 L1031.9,456.1 L1031.2,456.3" stroke="#3c12a2" stroke-width="4.2" fill="none" stroke-linecap="round" stroke-linejoin="round"/>
<path d="M1031.2,456.3 L1030.5,456.5" stroke="#4212a2" stroke-width="4.2" fill="none" stroke-linecap="round" stroke-linejoin="round"/>
<path d="M1030.5,456.5 L1029.8,456.7" stroke="#3c12a2" stroke-width="4.2" fill="none" stroke-linecap="round" stroke-linejoin="round"/>
<path d="M1029.8,456.7 L1029.1,456.8" stroke="#3c12a8" stroke-width="4.2" fill="none" stroke-linecap="round" stroke-linejoin="round"/>
<path d="M1029.1,456.8 L1028.3,457.0" stroke="#3612ae" stroke-width="4.2" fill="none" stroke-linecap="round" stroke-linejoin="round"/>
<path d="M1028.3,457.0 L1027.5,457.1" stroke="#3618b4" stroke-width="4.2" fill="none" stroke-linecap="round" stroke-linejoin="round"/>
<path d="M1027.5,457.1 L1026.8,457.2" stroke="#3018b4" stroke-width="4.2" fill="none" stroke-linecap="round" stroke-linejoin="round"/>
<path d="M1026.8,457.2 L1026.0,457.2" stroke="#3018ba" stroke-width="4.2" fill="none" stroke-linecap="round" stroke-linejoin="round"/>
<path d="M1026.0,457.2 L1025.2,457.3" stroke="#2a18c0" stroke-width="4.2" fill="none" stroke-linecap="round" stroke-linejoin="round"/>
<path d="M1025.2,457.3 L1024.4,457.3" stroke="#2a1ec0" stroke-width="4.2" fill="none" stroke-linecap="round" stroke-linejoin="round"/>
<path d="M1024.4,457.3 L1023.6,457.4" stroke="#241ec6" stroke-width="4.2" fill="none" stroke-linecap="round" stroke-linejoin="round"/>
<path d="M1023.6,457.4 L1022.8,457.4" stroke="#241ecc" stroke-width="4.2" fill="none" stroke-linecap="round" stroke-linejoin="round"/>
<path d="M1022.8,457.4 L1022.0,457.4" stroke="#1e1ed2" stroke-width="4.2" fill="none" stroke-linecap="round" stroke-linejoin="round"/>
<path d="M1022.0,457.4 L1021.2,457.3" stroke="#1e24d2" stroke-width="4.2" fill="none" stroke-linecap="round" stroke-linejoin="round"/>
<path d="M1021.2,457.3 L1020.4,457.3" stroke="#1e2ad2" stroke-width="4.2" fill="none" stroke-linecap="round" stroke-linejoin="round"/>
<path d="M1020.4,457.3 L1019.6,457.3" stroke="#1e30d2" stroke-width="4.2" fill="none" stroke-linecap="round" stroke-linejoin="round"/>
<path d="M1019.6,457.3 L1018.9,457.2 L1018.1,457.1" stroke="#1e36d8" stroke-width="4.2" fill="none" stroke-linecap="round" stroke-linejoin="round"/>
<path d="M1018.1,457.1 L1017.3,457.0" stroke="#1e3cd8" stroke-width="4.2" fill="none" stroke-linecap="round" stroke-linejoin="round"/>
<path d="M1017.3,457.0 L1016.5,456.9" stroke="#1e42de" stroke-width="4.2" fill="none" stroke-linecap="round" stroke-linejoin="round"/>
<path d="M1016.5,456.9 L1015.8,456.8" stroke="#1e48de" stroke-width="4.2" fill="none" stroke-linecap="round" stroke-linejoin="round"/>
<path d="M1015.8,456.8 L1015.0,456.6 L1014.2,456.5" stroke="#184ede" stroke-width="4.2" fill="none" stroke-linecap="round" stroke-linejoin="round"/>
<path d="M1014.2,456.5 L1013.4,456.3" stroke="#3048cc" stroke-width="4.2" fill="none" stroke-linecap="round" stroke-linejoin="round"/>
<path d="M1013.4,456.3 L1012.7,456.1" stroke="#4242b4" stroke-width="4.2" fill="none" stroke-linecap="round" stroke-linejoin="round"/>
<path d="M1012.7,456.1 L1011.9,455.9" stroke="#5a369c" stroke-width="4.2" fill="none" stroke-linecap="round" stroke-linejoin="round"/>
<path d="M1011.9,455.9 L1011.1,455.7" stroke="#6c308a" stroke-width="4.2" fill="none" stroke-linecap="round" stroke-linejoin="round"/>
<path d="M1011.1,455.7 L1010.4,455.4" stroke="#842a72" stroke-width="4.2" fill="none" stroke-linecap="round" stroke-linejoin="round"/>
<path d="M1010.4,455.4 L1009.6,455.2" stroke="#961e5a" stroke-width="4.2" fill="none" stroke-linecap="round" stroke-linejoin="round"/>
<path d="M1009.6,455.2 L1008.8,454.9" stroke="#ae1848" stroke-width="4.2" fill="none" stroke-linecap="round" stroke-linejoin="round"/>
<path d="M1008.8,454.9 L1008.0,454.7" stroke="#c01230" stroke-width="4.2" fill="none" stroke-linecap="round" stroke-linejoin="round"/>
<path d="M1008.0,454.7 L1007.3,454.4" stroke="#cc3c24" stroke-width="4.2" fill="none" stroke-linecap="round" stroke-linejoin="round"/>
<path d="M1007.3,454.4 L1006.5,454.0" stroke="#d86618" stroke-width="4.2" fill="none" stroke-linecap="round" stroke-linejoin="round"/>
<path d="M1006.5,454.0 L1005.7,453.7" stroke="#e4960c" stroke-width="4.2" fill="none" stroke-linecap="round" stroke-linejoin="round"/>
<path d="M1005.7,453.7 L1004.9,453.4" stroke="#f0c000" stroke-width="4.2" fill="none" stroke-linecap="round" stroke-linejoin="round"/>
<path d="M1004.9,453.4 L1004.1,453.0" stroke="#f0c600" stroke-width="4.2" fill="none" stroke-linecap="round" stroke-linejoin="round"/>
<path d="M1004.1,453.0 L1003.3,452.7" stroke="#f0cc06" stroke-width="4.2" fill="none" stroke-linecap="round" stroke-linejoin="round"/>
<path d="M1003.3,452.7 L1002.5,452.3" stroke="#f0d206" stroke-width="4.2" fill="none" stroke-linecap="round" stroke-linejoin="round"/>
<path d="M1002.5,452.3 L1001.8,451.9 L1001.0,451.5" stroke="#f6d806" stroke-width="4.2" fill="none" stroke-linecap="round" stroke-linejoin="round"/>
<path d="M1001.0,451.5 L1000.3,451.1" stroke="#f6de0c" stroke-width="4.2" fill="none" stroke-linecap="round" stroke-linejoin="round"/>
<path d="M1000.3,451.1 L999.6,450.7" stroke="#f6e40c" stroke-width="4.2" fill="none" stroke-linecap="round" stroke-linejoin="round"/>
<path d="M999.6,450.7 L998.9,450.3" stroke="#f6ea0c" stroke-width="4.2" fill="none" stroke-linecap="round" stroke-linejoin="round"/>
<path d="M998.9,450.3 L998.2,449.9" stroke="#f6f012" stroke-width="4.2" fill="none" stroke-linecap="round" stroke-linejoin="round"/>
<path d="M998.2,449.9 L997.6,449.5 L996.9,449.0" stroke="#f6ea12" stroke-width="4.2" fill="none" stroke-linecap="round" stroke-linejoin="round"/>
<path d="M996.9,449.0 L996.2,448.6 L995.6,448.1" stroke="#f6e412" stroke-width="4.2" fill="none" stroke-linecap="round" stroke-linejoin="round"/>
<path d="M995.6,448.1 L994.9,447.7 L994.3,447.2" stroke="#f6de12" stroke-width="4.2" fill="none" stroke-linecap="round" stroke-linejoin="round"/>
<path d="M994.3,447.2 L993.7,446.7 L993.2,446.3" stroke="#f0d812" stroke-width="4.2" fill="none" stroke-linecap="round" stroke-linejoin="round"/>
<path d="M993.2,446.3 L992.6,445.8 L992.1,445.3" stroke="#f0d212" stroke-width="4.2" fill="none" stroke-linecap="round" stroke-linejoin="round"/>
<path d="M992.1,445.3 L991.6,444.8" stroke="#eaae18" stroke-width="4.2" fill="none" stroke-linecap="round" stroke-linejoin="round"/>
<path d="M991.6,444.8 L991.2,444.4" stroke="#e49018" stroke-width="4.2" fill="none" stroke-linecap="round" stroke-linejoin="round"/>
<path d="M991.2,444.4 L990.8,443.9" stroke="#de721e" stroke-width="4.2" fill="none" stroke-linecap="round" stroke-linejoin="round"/>
<path d="M990.8,443.9 L990.4,443.4" stroke="#d84e24" stroke-width="4.2" fill="none" stroke-linecap="round" stroke-linejoin="round"/>
<path d="M990.4,443.4 L990.1,443.0" stroke="#d8302a" stroke-width="4.2" fill="none" stroke-linecap="round" stroke-linejoin="round"/>
<path d="M990.1,443.0 L989.8,442.5" stroke="#d21230" stroke-width="4.2" fill="none" stroke-linecap="round" stroke-linejoin="round"/>
<path d="M989.8,442.5 L989.5,442.0" stroke="#ba1242" stroke-width="4.2" fill="none" stroke-linecap="round" stroke-linejoin="round"/>
<path d="M989.5,442.0 L989.3,441.6" stroke="#a2125a" stroke-width="4.2" fill="none" stroke-linecap="round" stroke-linejoin="round"/>
<path d="M989.3,441.6 L989.1,441.1" stroke="#90186c" stroke-width="4.2" fill="none" stroke-linecap="round" stroke-linejoin="round"/>
<path d="M989.1,441.1 L988.9,440.6" stroke="#78187e" stroke-width="4.2" fill="none" stroke-linecap="round" stroke-linejoin="round"/>
<path d="M988.9,440.6 L988.7,440.1" stroke="#601896" stroke-width="4.2" fill="none" stroke-linecap="round" stroke-linejoin="round"/>
<path d="M988.7,440.1 L988.6,439.7" stroke="#4e1ea8" stroke-width="4.2" fill="none" stroke-linecap="round" stroke-linejoin="round"/>
<path d="M988.6,439.7 L988.5,439.2" stroke="#361eba" stroke-width="4.2" fill="none" stroke-linecap="round" stroke-linejoin="round"/>
<path d="M988.5,439.2 L988.5,438.8 L988.5,438.3 L988.5,437.8" stroke="#1e1ed2" stroke-width="4.2" fill="none" stroke-linecap="round" stroke-linejoin="round"/>
<path d="M988.5,437.8 L988.6,437.4 L988.7,437.0 L988.9,436.5" stroke="#1e1ed8" stroke-width="4.2" fill="none" stroke-linecap="round" stroke-linejoin="round"/>
<path d="M988.9,436.5 L989.1,436.0 L989.4,435.6 L989.7,435.1" stroke="#1e1ede" stroke-width="4.2" fill="none" stroke-linecap="round" stroke-linejoin="round"/>
<path d="M989.7,435.1 L990.0,434.7 L990.4,434.2 L990.8,433.8" stroke="#1e24de" stroke-width="4.2" fill="none" stroke-linecap="round" stroke-linejoin="round"/>
<path d="M990.8,433.8 L991.2,433.4 L991.7,433.0" stroke="#1e2ade" stroke-width="4.2" fill="none" stroke-linecap="round" stroke-linejoin="round"/>
<path d="M991.7,433.0 L992.1,432.6 L992.6,432.2" stroke="#1830de" stroke-width="4.2" fill="none" stroke-linecap="round" stroke-linejoin="round"/>
<path d="M992.6,432.2 L993.0,431.8" stroke="#2a2acc" stroke-width="4.2" fill="none" stroke-linecap="round" stroke-linejoin="round"/>
<path d="M993.0,431.8 L993.5,431.5" stroke="#3c2aba" stroke-width="4.2" fill="none" stroke-linecap="round" stroke-linejoin="round"/>
<path d="M993.5,431.5 L994.0,431.2" stroke="#4e24ae" stroke-width="4.2" fill="none" stroke-linecap="round" stroke-linejoin="round"/>
<path d="M994.0,431.2 L994.5,430.9" stroke="#5a249c" stroke-width="4.2" fill="none" stroke-linecap="round" stroke-linejoin="round"/>
<path d="M994.5,430.9 L995.0,430.6" stroke="#6c1e8a" stroke-width="4.2" fill="none" stroke-linecap="round" stroke-linejoin="round"/>
<path d="M995.0,430.6 L995.5,430.3" stroke="#7e1e78" stroke-width="4.2" fill="none" stroke-linecap="round" stroke-linejoin="round"/>
<path d="M995.5,430.3 L996.1,430.0" stroke="#901866" stroke-width="4.2" fill="none" stroke-linecap="round" stroke-linejoin="round"/>
<path d="M996.1,430.0 L996.6,429.8" stroke="#9c1854" stroke-width="4.2" fill="none" stroke-linecap="round" stroke-linejoin="round"/>
<path d="M996.6,429.8 L997.2,429.6" stroke="#ae1242" stroke-width="4.2" fill="none" stroke-linecap="round" stroke-linejoin="round"/>
<path d="M997.2,429.6 L997.8,429.3" stroke="#c01230" stroke-width="4.2" fill="none" stroke-linecap="round" stroke-linejoin="round"/>
<path d="M997.8,429.3 L998.4,429.1" stroke="#c61e30" stroke-width="4.2" fill="none" stroke-linecap="round" stroke-linejoin="round"/>
<path d="M998.4,429.1 L999.0,428.9" stroke="#cc2a2a" stroke-width="4.2" fill="none" stroke-linecap="round" stroke-linejoin="round"/>
<path d="M999.0,428.9 L999.6,428.7" stroke="#cc3c2a" stroke-width="4.2" fill="none" stroke-linecap="round" stroke-linejoin="round"/>
<path d="M999.6,428.7 L1000.3,428.5" stroke="#d2482a" stroke-width="4.2" fill="none" stroke-linecap="round" stroke-linejoin="round"/>
<path d="M1000.3,428.5 L1000.9,428.4" stroke="#d85424" stroke-width="4.2" fill="none" stroke-linecap="round" stroke-linejoin="round"/>
<path d="M1000.9,428.4 L1001.6,428.2" stroke="#de6624" stroke-width="4.2" fill="none" stroke-linecap="round" stroke-linejoin="round"/>
<path d="M1001.6,428.2 L1002.3,428.0" stroke="#e47224" stroke-width="4.2" fill="none" stroke-linecap="round" stroke-linejoin="round"/>
<path d="M1002.3,428.0 L1003.0,427.9" stroke="#ea7e1e" stroke-width="4.2" fill="none" stroke-linecap="round" stroke-linejoin="round"/>
<path d="M1003.0,427.9 L1003.7,427.8" stroke="#ea8a1e" stroke-width="4.2" fill="none" stroke-linecap="round" stroke-linejoin="round"/>
<path d="M1003.7,427.8 L1004.4,427.6" stroke="#ea901e" stroke-width="4.2" fill="none" stroke-linecap="round" stroke-linejoin="round"/>
<path d="M1004.4,427.6 L1005.2,427.5" stroke="#ea9c18" stroke-width="4.2" fill="none" stroke-linecap="round" stroke-linejoin="round"/>
<path d="M1005.2,427.5 L1005.9,427.4" stroke="#eaa218" stroke-width="4.2" fill="none" stroke-linecap="round" stroke-linejoin="round"/>
<path d="M1005.9,427.4 L1006.7,427.3" stroke="#f0ae12" stroke-width="4.2" fill="none" stroke-linecap="round" stroke-linejoin="round"/>
<path d="M1006.7,427.3 L1007.5,427.2" stroke="#f0b412" stroke-width="4.2" fill="none" stroke-linecap="round" stroke-linejoin="round"/>
<path d="M1007.5,427.2 L1008.3,427.1" stroke="#f0ba0c" stroke-width="4.2" fill="none" stroke-linecap="round" stroke-linejoin="round"/>
<path d="M1008.3,427.1 L1009.1,427.1" stroke="#f0c60c" stroke-width="4.2" fill="none" stroke-linecap="round" stroke-linejoin="round"/>
<path d="M1009.1,427.1 L1009.9,427.0" stroke="#f6cc0c" stroke-width="4.2" fill="none" stroke-linecap="round" stroke-linejoin="round"/>
<path d="M1009.9,427.0 L1010.7,427.0" stroke="#f6d806" stroke-width="4.2" fill="none" stroke-linecap="round" stroke-linejoin="round"/>
<path d="M1010.7,427.0 L1011.5,426.9" stroke="#f6de06" stroke-width="4.2" fill="none" stroke-linecap="round" stroke-linejoin="round"/>
<path d="M1011.5,426.9 L1012.3,426.9" stroke="#f6ea00" stroke-width="4.2" fill="none" stroke-linecap="round" stroke-linejoin="round"/>
<line x1="957.7" y1="438.5" x2="978.0" y2="438.5" stroke="#2a2a2a" stroke-width="1.4" stroke-dasharray="1.7 1.1"/>
<path d="M984.5,438.5 L974.0,444.3 L978.0,438.5 L974.0,432.7 Z" fill="#000"/>
<text x="949" y="444.3" font-size="16" text-anchor="middle" font-weight="normal" fill="#000" >O</text>
<line x1="1070.6" y1="438.5" x2="1053.0" y2="438.5" stroke="#2a2a2a" stroke-width="1.4" stroke-dasharray="1.7 1.1"/>
<path d="M1046.5,438.5 L1057.0,432.7 L1053.0,438.5 L1057.0,444.3 Z" fill="#000"/>
<text x="1075.4" y="444.3" font-size="16" text-anchor="middle" font-weight="normal" fill="#000" >I</text>
<path d="M1238.5,421.4 L1239.4,421.3" stroke="#187eea" stroke-width="4.2" fill="none" stroke-linecap="round" stroke-linejoin="round"/>
<path d="M1239.4,421.3 L1240.3,421.3 L1241.2,421.3 L1242.0,421.3 L1242.8,421.4 L1243.6,421.6 L1244.4,421.7" stroke="#1884ea" stroke-width="4.2" fill="none" stroke-linecap="round" stroke-linejoin="round"/>
<path d="M1244.4,421.7 L1245.2,421.9 L1245.9,422.1 L1246.6,422.4 L1247.4,422.6 L1248.1,422.9" stroke="#188aea" stroke-width="4.2" fill="none" stroke-linecap="round" stroke-linejoin="round"/>
<path d="M1248.1,422.9 L1248.8,423.2 L1249.5,423.5 L1250.2,423.8 L1250.9,424.2" stroke="#1890ea" stroke-width="4.2" fill="none" stroke-linecap="round" stroke-linejoin="round"/>
<path d="M1250.9,424.2 L1251.6,424.5" stroke="#1890e4" stroke-width="4.2" fill="none" stroke-linecap="round" stroke-linejoin="round"/>
<path d="M1251.6,424.5 L1252.3,424.9 L1253.0,425.4 L1253.6,425.8 L1254.3,426.3" stroke="#188ae4" stroke-width="4.2" fill="none" stroke-linecap="round" stroke-linejoin="round"/>
<path d="M1254.3,426.3 L1254.9,426.7 L1255.5,427.2 L1256.1,427.7 L1256.7,428.2" stroke="#1884e4" stroke-width="4.2" fill="none" stroke-linecap="round" stroke-linejoin="round"/>
<path d="M1256.7,428.2 L1257.3,428.8" stroke="#1884de" stroke-width="4.2" fill="none" stroke-linecap="round" stroke-linejoin="round"/>
<path d="M1257.3,428.8 L1257.9,429.3" stroke="#187ede" stroke-width="4.2" fill="none" stroke-linecap="round" stroke-linejoin="round"/>
<path d="M1257.9,429.3 L1258.4,429.8" stroke="#1872de" stroke-width="4.2" fill="none" stroke-linecap="round" stroke-linejoin="round"/>
<path d="M1258.4,429.8 L1258.9,430.3" stroke="#1e60de" stroke-width="4.2" fill="none" stroke-linecap="round" stroke-linejoin="round"/>
<path d="M1258.9,430.3 L1259.4,430.9" stroke="#1e4ed8" stroke-width="4.2" fill="none" stroke-linecap="round" stroke-linejoin="round"/>
<path d="M1259.4,430.9 L1259.9,431.4" stroke="#1e42d8" stroke-width="4.2" fill="none" stroke-linecap="round" stroke-linejoin="round"/>
<path d="M1259.9,431.4 L1260.4,432.0" stroke="#1e30d2" stroke-width="4.2" fill="none" stroke-linecap="round" stroke-linejoin="round"/>
<path d="M1260.4,432.0 L1260.9,432.6" stroke="#1e1ed2" stroke-width="4.2" fill="none" stroke-linecap="round" stroke-linejoin="round"/>
<path d="M1260.9,432.6 L1261.3,433.2 L1261.8,433.8 L1262.2,434.4 L1262.6,435.0 L1262.9,435.6 L1263.3,436.2 L1263.6,436.9 L1263.9,437.5 L1264.2,438.1 L1264.5,438.7 L1264.7,439.3 L1264.9,440.0 L1265.1,440.6 L1265.3,441.3 L1265.4,441.9 L1265.6,442.6" stroke="#1e12d2" stroke-width="4.2" fill="none" stroke-linecap="round" stroke-linejoin="round"/>
<path d="M1265.6,442.6 L1265.7,443.2" stroke="#1e18d2" stroke-width="4.2" fill="none" stroke-linecap="round" stroke-linejoin="round"/>
<path d="M1265.7,443.2 L1265.8,443.9" stroke="#1e1ed2" stroke-width="4.2" fill="none" stroke-linecap="round" stroke-linejoin="round"/>
<path d="M1265.8,443.9 L1265.8,444.5" stroke="#1e24d2" stroke-width="4.2" fill="none" stroke-linecap="round" stroke-linejoin="round"/>
<path d="M1265.8,444.5 L1265.9,445.2" stroke="#1e2ad8" stroke-width="4.2" fill="none" stroke-linecap="round" stroke-linejoin="round"/>
<path d="M1265.9,445.2 L1265.9,445.8" stroke="#1e30d8" stroke-width="4.2" fill="none" stroke-linecap="round" stroke-linejoin="round"/>
<path d="M1265.9,445.8 L1265.8,446.5" stroke="#1e36d8" stroke-width="4.2" fill="none" stroke-linecap="round" stroke-linejoin="round"/>
<path d="M1265.8,446.5 L1265.8,447.1" stroke="#1e3cd8" stroke-width="4.2" fill="none" stroke-linecap="round" stroke-linejoin="round"/>
<path d="M1265.8,447.1 L1265.7,447.7" stroke="#1e48d8" stroke-width="4.2" fill="none" stroke-linecap="round" stroke-linejoin="round"/>
<path d="M1265.7,447.7 L1265.6,448.4" stroke="#1e4ede" stroke-width="4.2" fill="none" stroke-linecap="round" stroke-linejoin="round"/>
<path d="M1265.6,448.4 L1265.5,449.0" stroke="#1854de" stroke-width="4.2" fill="none" stroke-linecap="round" stroke-linejoin="round"/>
<path d="M1265.5,449.0 L1265.4,449.7" stroke="#185ade" stroke-width="4.2" fill="none" stroke-linecap="round" stroke-linejoin="round"/>
<path d="M1265.4,449.7 L1265.2,450.4" stroke="#1860de" stroke-width="4.2" fill="none" stroke-linecap="round" stroke-linejoin="round"/>
<path d="M1265.2,450.4 L1265.0,451.0" stroke="#185ade" stroke-width="4.2" fill="none" stroke-linecap="round" stroke-linejoin="round"/>
<path d="M1265.0,451.0 L1264.8,451.7" stroke="#1e54de" stroke-width="4.2" fill="none" stroke-linecap="round" stroke-linejoin="round"/>
<path d="M1264.8,451.7 L1264.5,452.3" stroke="#1e48de" stroke-width="4.2" fill="none" stroke-linecap="round" stroke-linejoin="round"/>
<path d="M1264.5,452.3 L1264.3,452.9" stroke="#1e42d8" stroke-width="4.2" fill="none" stroke-linecap="round" stroke-linejoin="round"/>
<path d="M1264.3,452.9 L1264.0,453.6" stroke="#1e3cd8" stroke-width="4.2" fill="none" stroke-linecap="round" stroke-linejoin="round"/>
<path d="M1264.0,453.6 L1263.7,454.2" stroke="#1e36d8" stroke-width="4.2" fill="none" stroke-linecap="round" stroke-linejoin="round"/>
<path d="M1263.7,454.2 L1263.3,454.8" stroke="#1e30d8" stroke-width="4.2" fill="none" stroke-linecap="round" stroke-linejoin="round"/>
<path d="M1263.3,454.8 L1263.0,455.4" stroke="#1e24d2" stroke-width="4.2" fill="none" stroke-linecap="round" stroke-linejoin="round"/>
<path d="M1263.0,455.4 L1262.6,456.0" stroke="#1e1ed2" stroke-width="4.2" fill="none" stroke-linecap="round" stroke-linejoin="round"/>
<path d="M1262.6,456.0 L1262.2,456.6" stroke="#1e18d2" stroke-width="4.2" fill="none" stroke-linecap="round" stroke-linejoin="round"/>
<path d="M1262.2,456.6 L1261.8,457.1" stroke="#1e12d2" stroke-width="4.2" fill="none" stroke-linecap="round" stroke-linejoin="round"/>
<path d="M1261.8,457.1 L1261.3,457.7" stroke="#2412cc" stroke-width="4.2" fill="none" stroke-linecap="round" stroke-linejoin="round"/>
<path d="M1261.3,457.7 L1260.8,458.3 L1260.3,458.8" stroke="#2a12c6" stroke-width="4.2" fill="none" stroke-linecap="round" stroke-linejoin="round"/>
<path d="M1260.3,458.8 L1259.7,459.4 L1259.2,459.9" stroke="#3012c0" stroke-width="4.2" fill="none" stroke-linecap="round" stroke-linejoin="round"/>
<path d="M1259.2,459.9 L1258.6,460.4" stroke="#3612ba" stroke-width="4.2" fill="none" stroke-linecap="round" stroke-linejoin="round"/>
<path d="M1258.6,460.4 L1258.0,460.9 L1257.4,461.4" stroke="#3c12b4" stroke-width="4.2" fill="none" stroke-linecap="round" stroke-linejoin="round"/>
<path d="M1257.4,461.4 L1256.7,461.9 L1256.1,462.4" stroke="#4212ae" stroke-width="4.2" fill="none" stroke-linecap="round" stroke-linejoin="round"/>
<path d="M1256.1,462.4 L1255.5,462.8" stroke="#4812a8" stroke-width="4.2" fill="none" stroke-linecap="round" stroke-linejoin="round"/>
<path d="M1255.5,462.8 L1254.8,463.3 L1254.1,463.7" stroke="#4e12a2" stroke-width="4.2" fill="none" stroke-linecap="round" stroke-linejoin="round"/>
<path d="M1254.1,463.7 L1253.5,464.2" stroke="#72128a" stroke-width="4.2" fill="none" stroke-linecap="round" stroke-linejoin="round"/>
<path d="M1253.5,464.2 L1252.8,464.6" stroke="#901272" stroke-width="4.2" fill="none" stroke-linecap="round" stroke-linejoin="round"/>
<path d="M1252.8,464.6 L1252.1,465.1" stroke="#ae125a" stroke-width="4.2" fill="none" stroke-linecap="round" stroke-linejoin="round"/>
<path d="M1252.1,465.1 L1251.4,465.5" stroke="#d21242" stroke-width="4.2" fill="none" stroke-linecap="round" stroke-linejoin="round"/>
<path d="M1251.4,465.5 L1250.6,465.9" stroke="#d82436" stroke-width="4.2" fill="none" stroke-linecap="round" stroke-linejoin="round"/>
<path d="M1250.6,465.9 L1249.9,466.4" stroke="#d83c30" stroke-width="4.2" fill="none" stroke-linecap="round" stroke-linejoin="round"/>
<path d="M1249.9,466.4 L1249.1,466.7" stroke="#de4e2a" stroke-width="4.2" fill="none" stroke-linecap="round" stroke-linejoin="round"/>
<path d="M1249.1,466.7 L1248.4,467.1" stroke="#e4661e" stroke-width="4.2" fill="none" stroke-linecap="round" stroke-linejoin="round"/>
<path d="M1248.4,467.1 L1247.6,467.5" stroke="#ea7818" stroke-width="4.2" fill="none" stroke-linecap="round" stroke-linejoin="round"/>
<path d="M1247.6,467.5 L1246.8,467.8" stroke="#f09012" stroke-width="4.2" fill="none" stroke-linecap="round" stroke-linejoin="round"/>
<path d="M1246.8,467.8 L1246.0,468.0" stroke="#f09c12" stroke-width="4.2" fill="none" stroke-linecap="round" stroke-linejoin="round"/>
<path d="M1246.0,468.0 L1245.1,468.3" stroke="#f0a812" stroke-width="4.2" fill="none" stroke-linecap="round" stroke-linejoin="round"/>
<path d="M1245.1,468.3 L1244.3,468.5" stroke="#f0b412" stroke-width="4.2" fill="none" stroke-linecap="round" stroke-linejoin="round"/>
<path d="M1244.3,468.5 L1243.4,468.7" stroke="#f0c012" stroke-width="4.2" fill="none" stroke-linecap="round" stroke-linejoin="round"/>
<path d="M1243.4,468.7 L1242.5,468.8" stroke="#f0cc12" stroke-width="4.2" fill="none" stroke-linecap="round" stroke-linejoin="round"/>
<path d="M1242.5,468.8 L1241.6,468.9" stroke="#f0d212" stroke-width="4.2" fill="none" stroke-linecap="round" stroke-linejoin="round"/>
<path d="M1241.6,468.9 L1240.7,469.0" stroke="#f0de12" stroke-width="4.2" fill="none" stroke-linecap="round" stroke-linejoin="round"/>
<path d="M1240.7,469.0 L1239.7,469.1 L1238.7,469.1 L1237.8,469.1 L1236.8,469.1" stroke="#f0e412" stroke-width="4.2" fill="none" stroke-linecap="round" stroke-linejoin="round"/>
<path d="M1236.8,469.1 L1235.8,469.1 L1234.8,469.0 L1233.9,468.9 L1233.0,468.8" stroke="#f6ea12" stroke-width="4.2" fill="none" stroke-linecap="round" stroke-linejoin="round"/>
<path d="M1233.0,468.8 L1232.1,468.7 L1231.2,468.5 L1230.4,468.3" stroke="#f6f012" stroke-width="4.2" fill="none" stroke-linecap="round" stroke-linejoin="round"/>
<path d="M1230.4,468.3 L1229.5,468.1" stroke="#f6ea12" stroke-width="4.2" fill="none" stroke-linecap="round" stroke-linejoin="round"/>
<path d="M1229.5,468.1 L1228.7,467.8" stroke="#f6e412" stroke-width="4.2" fill="none" stroke-linecap="round" stroke-linejoin="round"/>
<path d="M1228.7,467.8 L1227.9,467.5" stroke="#f6d812" stroke-width="4.2" fill="none" stroke-linecap="round" stroke-linejoin="round"/>
<path d="M1227.9,467.5 L1227.1,467.2" stroke="#f6d212" stroke-width="4.2" fill="none" stroke-linecap="round" stroke-linejoin="round"/>
<path d="M1227.1,467.2 L1226.3,466.8" stroke="#f6cc12" stroke-width="4.2" fill="none" stroke-linecap="round" stroke-linejoin="round"/>
<path d="M1226.3,466.8 L1225.5,466.4" stroke="#f6c612" stroke-width="4.2" fill="none" stroke-linecap="round" stroke-linejoin="round"/>
<path d="M1225.5,466.4 L1224.8,466.0" stroke="#f0c012" stroke-width="4.2" fill="none" stroke-linecap="round" stroke-linejoin="round"/>
<path d="M1224.8,466.0 L1224.0,465.6" stroke="#f0b412" stroke-width="4.2" fill="none" stroke-linecap="round" stroke-linejoin="round"/>
<path d="M1224.0,465.6 L1223.3,465.2" stroke="#f0ae12" stroke-width="4.2" fill="none" stroke-linecap="round" stroke-linejoin="round"/>
<path d="M1223.3,465.2 L1222.6,464.7" stroke="#f0a812" stroke-width="4.2" fill="none" stroke-linecap="round" stroke-linejoin="round"/>
<path d="M1222.6,464.7 L1222.0,464.3" stroke="#f0a212" stroke-width="4.2" fill="none" stroke-linecap="round" stroke-linejoin="round"/>
<path d="M1222.0,464.3 L1221.3,463.8" stroke="#ea7e12" stroke-width="4.2" fill="none" stroke-linecap="round" stroke-linejoin="round"/>
<path d="M1221.3,463.8 L1220.7,463.3" stroke="#ea5a12" stroke-width="4.2" fill="none" stroke-linecap="round" stroke-linejoin="round"/>
<path d="M1220.7,463.3 L1220.1,462.8" stroke="#e43612" stroke-width="4.2" fill="none" stroke-linecap="round" stroke-linejoin="round"/>
<path d="M1220.1,462.8 L1219.5,462.3 L1219.0,461.7 L1218.4,461.2 L1217.9,460.6 L1217.4,460.0 L1217.0,459.4 L1216.5,458.7 L1216.1,458.1 L1215.7,457.5 L1215.3,456.8 L1215.0,456.2 L1214.7,455.5 L1214.4,454.9 L1214.2,454.3 L1213.9,453.6 L1213.8,453.0 L1213.6,452.3 L1213.5,451.7 L1213.4,451.0 L1213.3,450.3 L1213.3,449.7 L1213.2,449.0 L1213.2,448.3 L1213.2,447.6 L1213.3,446.9 L1213.3,446.2" stroke="#de1212" stroke-width="4.2" fill="none" stroke-linecap="round" stroke-linejoin="round"/>
<path d="M1213.3,446.2 L1213.4,445.5" stroke="#d81218" stroke-width="4.2" fill="none" stroke-linecap="round" stroke-linejoin="round"/>
<path d="M1213.4,445.5 L1213.5,444.8" stroke="#d21224" stroke-width="4.2" fill="none" stroke-linecap="round" stroke-linejoin="round"/>
<path d="M1213.5,444.8 L1213.6,444.0" stroke="#cc122a" stroke-width="4.2" fill="none" stroke-linecap="round" stroke-linejoin="round"/>
<path d="M1213.6,444.0 L1213.7,443.3" stroke="#c61236" stroke-width="4.2" fill="none" stroke-linecap="round" stroke-linejoin="round"/>
<path d="M1213.7,443.3 L1213.9,442.5" stroke="#c01242" stroke-width="4.2" fill="none" stroke-linecap="round" stroke-linejoin="round"/>
<path d="M1213.9,442.5 L1214.1,441.7" stroke="#ba1248" stroke-width="4.2" fill="none" stroke-linecap="round" stroke-linejoin="round"/>
<path d="M1214.1,441.7 L1214.2,441.0" stroke="#b41254" stroke-width="4.2" fill="none" stroke-linecap="round" stroke-linejoin="round"/>
<path d="M1214.2,441.0 L1214.5,440.2" stroke="#ae125a" stroke-width="4.2" fill="none" stroke-linecap="round" stroke-linejoin="round"/>
<path d="M1214.5,440.2 L1214.7,439.4" stroke="#a81266" stroke-width="4.2" fill="none" stroke-linecap="round" stroke-linejoin="round"/>
<path d="M1214.7,439.4 L1215.0,438.6" stroke="#a21272" stroke-width="4.2" fill="none" stroke-linecap="round" stroke-linejoin="round"/>
<path d="M1215.0,438.6 L1215.2,437.9" stroke="#9c1278" stroke-width="4.2" fill="none" stroke-linecap="round" stroke-linejoin="round"/>
<path d="M1215.2,437.9 L1215.5,437.1" stroke="#961284" stroke-width="4.2" fill="none" stroke-linecap="round" stroke-linejoin="round"/>
<path d="M1215.5,437.1 L1215.8,436.4" stroke="#8a128a" stroke-width="4.2" fill="none" stroke-linecap="round" stroke-linejoin="round"/>
<path d="M1215.8,436.4 L1216.2,435.7" stroke="#841296" stroke-width="4.2" fill="none" stroke-linecap="round" stroke-linejoin="round"/>
<path d="M1216.2,435.7 L1216.5,435.0" stroke="#7e12a2" stroke-width="4.2" fill="none" stroke-linecap="round" stroke-linejoin="round"/>
<path d="M1216.5,435.0 L1216.9,434.3" stroke="#7212a8" stroke-width="4.2" fill="none" stroke-linecap="round" stroke-linejoin="round"/>
<path d="M1216.9,434.3 L1217.2,433.7" stroke="#6612ae" stroke-width="4.2" fill="none" stroke-linecap="round" stroke-linejoin="round"/>
<path d="M1217.2,433.7 L1217.6,433.0" stroke="#5a12b4" stroke-width="4.2" fill="none" stroke-linecap="round" stroke-linejoin="round"/>
<path d="M1217.6,433.0 L1217.9,432.4" stroke="#4e12ba" stroke-width="4.2" fill="none" stroke-linecap="round" stroke-linejoin="round"/>
<path d="M1217.9,432.4 L1218.3,431.7" stroke="#4212c0" stroke-width="4.2" fill="none" stroke-linecap="round" stroke-linejoin="round"/>
<path d="M1218.3,431.7 L1218.7,431.1" stroke="#3612c6" stroke-width="4.2" fill="none" stroke-linecap="round" stroke-linejoin="round"/>
<path d="M1218.7,431.1 L1219.1,430.5" stroke="#2a12cc" stroke-width="4.2" fill="none" stroke-linecap="round" stroke-linejoin="round"/>
<path d="M1219.1,430.5 L1219.6,429.9" stroke="#1e12d2" stroke-width="4.2" fill="none" stroke-linecap="round" stroke-linejoin="round"/>
<path d="M1219.6,429.9 L1220.1,429.3" stroke="#1e18d2" stroke-width="4.2" fill="none" stroke-linecap="round" stroke-linejoin="round"/>
<path d="M1220.1,429.3 L1220.6,428.7" stroke="#1e1ed2" stroke-width="4.2" fill="none" stroke-linecap="round" stroke-linejoin="round"/>
<path d="M1220.6,428.7 L1221.2,428.2" stroke="#1e2ad2" stroke-width="4.2" fill="none" stroke-linecap="round" stroke-linejoin="round"/>
<path d="M1221.2,428.2 L1221.9,427.6" stroke="#1e30d8" stroke-width="4.2" fill="none" stroke-linecap="round" stroke-linejoin="round"/>
<path d="M1221.9,427.6 L1222.5,427.1" stroke="#1e36d8" stroke-width="4.2" fill="none" stroke-linecap="round" stroke-linejoin="round"/>
<path d="M1222.5,427.1 L1223.3,426.6" stroke="#1e42d8" stroke-width="4.2" fill="none" stroke-linecap="round" stroke-linejoin="round"/>
<path d="M1223.3,426.6 L1224.1,426.1" stroke="#1e48de" stroke-width="4.2" fill="none" stroke-linecap="round" stroke-linejoin="round"/>
<path d="M1224.1,426.1 L1225.1,425.6" stroke="#1e4ede" stroke-width="4.2" fill="none" stroke-linecap="round" stroke-linejoin="round"/>
<path d="M1225.1,425.6 L1226.1,425.1" stroke="#185ade" stroke-width="4.2" fill="none" stroke-linecap="round" stroke-linejoin="round"/>
<path d="M1226.1,425.1 L1227.2,424.7 L1228.3,424.2" stroke="#1860de" stroke-width="4.2" fill="none" stroke-linecap="round" stroke-linejoin="round"/>
<path d="M1228.3,424.2 L1229.4,423.8 L1230.6,423.3" stroke="#1866e4" stroke-width="4.2" fill="none" stroke-linecap="round" stroke-linejoin="round"/>
<path d="M1230.6,423.3 L1231.8,422.9 L1233.0,422.6" stroke="#186ce4" stroke-width="4.2" fill="none" stroke-linecap="round" stroke-linejoin="round"/>
<path d="M1233.0,422.6 L1234.2,422.3 L1235.4,422.0" stroke="#1872e4" stroke-width="4.2" fill="none" stroke-linecap="round" stroke-linejoin="round"/>
<path d="M1235.4,422.0 L1236.5,421.7 L1237.5,421.5" stroke="#1878e4" stroke-width="4.2" fill="none" stroke-linecap="round" stroke-linejoin="round"/>
<path d="M1237.5,421.5 L1238.5,421.4" stroke="#187eea" stroke-width="4.2" fill="none" stroke-linecap="round" stroke-linejoin="round"/>
<line x1="1236.0" y1="399.0" x2="1236.0" y2="411.5" stroke="#2a2a2a" stroke-width="1.4" stroke-dasharray="1.7 1.1"/>
<path d="M1236.0,418.0 L1230.2,407.5 L1236.0,411.5 L1241.8,407.5 Z" fill="#000"/>
<text x="1236" y="398" font-size="16" text-anchor="middle" font-weight="normal" fill="#000" >I</text>
<line x1="1236.0" y1="497.0" x2="1236.0" y2="484.5" stroke="#2a2a2a" stroke-width="1.4" stroke-dasharray="1.7 1.1"/>
<path d="M1236.0,478.0 L1241.8,488.5 L1236.0,484.5 L1230.2,488.5 Z" fill="#000"/>
<text x="1240" y="512.6" font-size="16" text-anchor="middle" font-weight="normal" fill="#000" >O</text>
<path d="M376.8,558.5 L378.8,558.6 L380.9,558.7 L383.0,558.8 L385.2,559.0 L387.4,559.2 L389.7,559.4 L391.9,559.7 L394.2,560.0 L396.5,560.4 L398.7,560.8 L400.9,561.3 L403.0,561.9 L405.1,562.6 L407.1,563.3 L409.0,564.1 L411.0,565.0 L412.9,566.0 L414.7,567.1 L416.6,568.2 L418.4,569.3 L420.2,570.6 L421.9,571.9 L423.6,573.2 L425.3,574.6 L426.9,576.0 L428.4,577.4 L429.9,578.8 L431.4,580.3 L432.8,581.8 L434.2,583.3 L435.5,584.9 L436.8,586.5 L438.1,588.2" stroke="#18def0" stroke-width="4.4" fill="none" stroke-linecap="round" stroke-linejoin="round"/>
<path d="M438.1,588.2 L439.3,589.9 L440.5,591.6 L441.6,593.4 L442.6,595.2 L443.7,597.0" stroke="#18d8f0" stroke-width="4.4" fill="none" stroke-linecap="round" stroke-linejoin="round"/>
<path d="M443.7,597.0 L444.6,598.9 L445.5,600.7 L446.3,602.7 L447.1,604.6 L447.8,606.6" stroke="#18d2f0" stroke-width="4.4" fill="none" stroke-linecap="round" stroke-linejoin="round"/>
<path d="M447.8,606.6 L448.4,608.7 L449.0,610.9 L449.5,613.2 L449.9,615.5 L450.3,617.8 L450.7,620.1" stroke="#18ccf0" stroke-width="4.4" fill="none" stroke-linecap="round" stroke-linejoin="round"/>
<path d="M450.7,620.1 L451.0,622.4 L451.2,624.7 L451.4,626.9 L451.6,629.1 L451.8,631.2" stroke="#18c6f0" stroke-width="4.4" fill="none" stroke-linecap="round" stroke-linejoin="round"/>
<path d="M451.8,631.2 L451.9,633.1 L452.0,634.9 L452.1,636.6" stroke="#18c0f0" stroke-width="4.4" fill="none" stroke-linecap="round" stroke-linejoin="round"/>
<path d="M452.1,636.6 L452.1,638.1 L452.1,639.5" stroke="#18baf0" stroke-width="4.4" fill="none" stroke-linecap="round" stroke-linejoin="round"/>
<path d="M452.1,639.5 L452.0,640.8" stroke="#18b4f0" stroke-width="4.4" fill="none" stroke-linecap="round" stroke-linejoin="round"/>
<path d="M452.0,640.8 L451.9,642.0" stroke="#18aef0" stroke-width="4.4" fill="none" stroke-linecap="round" stroke-linejoin="round"/>
<path d="M451.9,642.0 L451.8,643.2" stroke="#18aeea" stroke-width="4.4" fill="none" stroke-linecap="round" stroke-linejoin="round"/>
<path d="M451.8,643.2 L451.6,644.4" stroke="#18a8ea" stroke-width="4.4" fill="none" stroke-linecap="round" stroke-linejoin="round"/>
<path d="M451.6,644.4 L451.4,645.5 L451.2,646.7" stroke="#18a2ea" stroke-width="4.4" fill="none" stroke-linecap="round" stroke-linejoin="round"/>
<path d="M451.2,646.7 L450.9,647.8" stroke="#189cea" stroke-width="4.4" fill="none" stroke-linecap="round" stroke-linejoin="round"/>
<path d="M450.9,647.8 L450.6,649.0 L450.3,650.3" stroke="#1896ea" stroke-width="4.4" fill="none" stroke-linecap="round" stroke-linejoin="round"/>
<path d="M450.3,650.3 L450.0,651.6" stroke="#1890ea" stroke-width="4.4" fill="none" stroke-linecap="round" stroke-linejoin="round"/>
<path d="M450.0,651.6 L449.6,653.1" stroke="#2466d8" stroke-width="4.4" fill="none" stroke-linecap="round" stroke-linejoin="round"/>
<path d="M449.6,653.1 L449.2,654.7" stroke="#2a3ccc" stroke-width="4.4" fill="none" stroke-linecap="round" stroke-linejoin="round"/>
<path d="M449.2,654.7 L448.7,656.3 L448.2,658.0" stroke="#3012c0" stroke-width="4.4" fill="none" stroke-linecap="round" stroke-linejoin="round"/>
<path d="M448.2,658.0 L447.7,659.8" stroke="#3012c6" stroke-width="4.4" fill="none" stroke-linecap="round" stroke-linejoin="round"/>
<path d="M447.7,659.8 L447.2,661.5" stroke="#2a12c6" stroke-width="4.4" fill="none" stroke-linecap="round" stroke-linejoin="round"/>
<path d="M447.2,661.5 L446.6,663.4" stroke="#2a12cc" stroke-width="4.4" fill="none" stroke-linecap="round" stroke-linejoin="round"/>
<path d="M446.6,663.4 L446.0,665.2 L445.3,667.0" stroke="#2a18cc" stroke-width="4.4" fill="none" stroke-linecap="round" stroke-linejoin="round"/>
<path d="M445.3,667.0 L444.7,668.9" stroke="#2a18d2" stroke-width="4.4" fill="none" stroke-linecap="round" stroke-linejoin="round"/>
<path d="M444.7,668.9 L444.0,670.6" stroke="#2418d2" stroke-width="4.4" fill="none" stroke-linecap="round" stroke-linejoin="round"/>
<path d="M444.0,670.6 L443.3,672.4 L442.6,674.1" stroke="#241ed8" stroke-width="4.4" fill="none" stroke-linecap="round" stroke-linejoin="round"/>
<path d="M442.6,674.1 L441.8,675.7 L441.1,677.3" stroke="#241ede" stroke-width="4.4" fill="none" stroke-linecap="round" stroke-linejoin="round"/>
<path d="M441.1,677.3 L440.4,678.8" stroke="#1e1ede" stroke-width="4.4" fill="none" stroke-linecap="round" stroke-linejoin="round"/>
<path d="M440.4,678.8 L439.6,680.2" stroke="#1e2ade" stroke-width="4.4" fill="none" stroke-linecap="round" stroke-linejoin="round"/>
<path d="M439.6,680.2 L438.9,681.7" stroke="#1e30de" stroke-width="4.4" fill="none" stroke-linecap="round" stroke-linejoin="round"/>
<path d="M438.9,681.7 L438.2,683.0" stroke="#1e3cde" stroke-width="4.4" fill="none" stroke-linecap="round" stroke-linejoin="round"/>
<path d="M438.2,683.0 L437.4,684.4" stroke="#1e42de" stroke-width="4.4" fill="none" stroke-linecap="round" stroke-linejoin="round"/>
<path d="M437.4,684.4 L436.7,685.7" stroke="#1e4ede" stroke-width="4.4" fill="none" stroke-linecap="round" stroke-linejoin="round"/>
<path d="M436.7,685.7 L435.9,687.0" stroke="#1e54de" stroke-width="4.4" fill="none" stroke-linecap="round" stroke-linejoin="round"/>
<path d="M435.9,687.0 L435.1,688.3" stroke="#1e60de" stroke-width="4.4" fill="none" stroke-linecap="round" stroke-linejoin="round"/>
<path d="M435.1,688.3 L434.2,689.5" stroke="#1866de" stroke-width="4.4" fill="none" stroke-linecap="round" stroke-linejoin="round"/>
<path d="M434.2,689.5 L433.3,690.7" stroke="#1872de" stroke-width="4.4" fill="none" stroke-linecap="round" stroke-linejoin="round"/>
<path d="M433.3,690.7 L432.3,691.9" stroke="#1878e4" stroke-width="4.4" fill="none" stroke-linecap="round" stroke-linejoin="round"/>
<path d="M432.3,691.9 L431.3,693.1" stroke="#1884e4" stroke-width="4.4" fill="none" stroke-linecap="round" stroke-linejoin="round"/>
<path d="M431.3,693.1 L430.2,694.3" stroke="#188aea" stroke-width="4.4" fill="none" stroke-linecap="round" stroke-linejoin="round"/>
<path d="M430.2,694.3 L429.0,695.5" stroke="#1896ea" stroke-width="4.4" fill="none" stroke-linecap="round" stroke-linejoin="round"/>
<path d="M429.0,695.5 L427.7,696.7" stroke="#18a2f0" stroke-width="4.4" fill="none" stroke-linecap="round" stroke-linejoin="round"/>
<path d="M427.7,696.7 L426.4,697.8 L425.0,699.0 L423.6,700.1" stroke="#189cf0" stroke-width="4.4" fill="none" stroke-linecap="round" stroke-linejoin="round"/>
<path d="M423.6,700.1 L422.0,701.3 L420.5,702.4" stroke="#1896f0" stroke-width="4.4" fill="none" stroke-linecap="round" stroke-linejoin="round"/>
<path d="M420.5,702.4 L418.9,703.5 L417.2,704.5 L415.6,705.6" stroke="#1890ea" stroke-width="4.4" fill="none" stroke-linecap="round" stroke-linejoin="round"/>
<path d="M415.6,705.6 L413.9,706.6 L412.2,707.5" stroke="#188aea" stroke-width="4.4" fill="none" stroke-linecap="round" stroke-linejoin="round"/>
<path d="M412.2,707.5 L410.5,708.4 L408.8,709.3 L407.1,710.1" stroke="#1884ea" stroke-width="4.4" fill="none" stroke-linecap="round" stroke-linejoin="round"/>
<path d="M407.1,710.1 L405.4,710.9 L403.6,711.6 L401.7,712.4 L399.9,713.1 L397.9,713.8 L396.0,714.4 L394.1,715.0 L392.2,715.5 L390.3,716.0 L388.4,716.4 L386.7,716.8 L384.9,717.0 L383.3,717.2 L381.7,717.3 L380.2,717.3" stroke="#187eea" stroke-width="4.4" fill="none" stroke-linecap="round" stroke-linejoin="round"/>
<path d="M380.2,717.3 L378.9,717.2" stroke="#1e72de" stroke-width="4.4" fill="none" stroke-linecap="round" stroke-linejoin="round"/>
<path d="M378.9,717.2 L377.6,717.0" stroke="#2466d8" stroke-width="4.4" fill="none" stroke-linecap="round" stroke-linejoin="round"/>
<path d="M377.6,717.0 L376.3,716.7" stroke="#245ad2" stroke-width="4.4" fill="none" stroke-linecap="round" stroke-linejoin="round"/>
<path d="M376.3,716.7 L375.2,716.4" stroke="#2a4ecc" stroke-width="4.4" fill="none" stroke-linecap="round" stroke-linejoin="round"/>
<path d="M375.2,716.4 L374.0,716.0" stroke="#3042c6" stroke-width="4.4" fill="none" stroke-linecap="round" stroke-linejoin="round"/>
<path d="M374.0,716.0 L372.9,715.5" stroke="#3636c0" stroke-width="4.4" fill="none" stroke-linecap="round" stroke-linejoin="round"/>
<path d="M372.9,715.5 L371.8,715.0" stroke="#362ab4" stroke-width="4.4" fill="none" stroke-linecap="round" stroke-linejoin="round"/>
<path d="M371.8,715.0 L370.7,714.4" stroke="#3c1eae" stroke-width="4.4" fill="none" stroke-linecap="round" stroke-linejoin="round"/>
<path d="M370.7,714.4 L369.6,713.9" stroke="#4212a8" stroke-width="4.4" fill="none" stroke-linecap="round" stroke-linejoin="round"/>
<path d="M369.6,713.9 L368.4,713.2" stroke="#3c12a8" stroke-width="4.4" fill="none" stroke-linecap="round" stroke-linejoin="round"/>
<path d="M368.4,713.2 L367.2,712.6 L366.0,712.0 L364.7,711.3" stroke="#3c12ae" stroke-width="4.4" fill="none" stroke-linecap="round" stroke-linejoin="round"/>
<path d="M364.7,711.3 L363.3,710.6" stroke="#3c12b4" stroke-width="4.4" fill="none" stroke-linecap="round" stroke-linejoin="round"/>
<path d="M363.3,710.6 L362.0,710.0 L360.5,709.3 L359.1,708.5" stroke="#3612b4" stroke-width="4.4" fill="none" stroke-linecap="round" stroke-linejoin="round"/>
<path d="M359.1,708.5 L357.7,707.8 L356.2,707.0" stroke="#3612ba" stroke-width="4.4" fill="none" stroke-linecap="round" stroke-linejoin="round"/>
<path d="M356.2,707.0 L354.7,706.2" stroke="#3012ba" stroke-width="4.4" fill="none" stroke-linecap="round" stroke-linejoin="round"/>
<path d="M354.7,706.2 L353.2,705.3 L351.7,704.4" stroke="#3012c0" stroke-width="4.4" fill="none" stroke-linecap="round" stroke-linejoin="round"/>
<path d="M351.7,704.4 L350.2,703.5" stroke="#2a18c6" stroke-width="4.4" fill="none" stroke-linecap="round" stroke-linejoin="round"/>
<path d="M350.2,703.5 L348.7,702.5" stroke="#2a24cc" stroke-width="4.4" fill="none" stroke-linecap="round" stroke-linejoin="round"/>
<path d="M348.7,702.5 L347.1,701.4" stroke="#2430d2" stroke-width="4.4" fill="none" stroke-linecap="round" stroke-linejoin="round"/>
<path d="M347.1,701.4 L345.6,700.3" stroke="#243cd8" stroke-width="4.4" fill="none" stroke-linecap="round" stroke-linejoin="round"/>
<path d="M345.6,700.3 L344.1,699.1" stroke="#1e48d8" stroke-width="4.4" fill="none" stroke-linecap="round" stroke-linejoin="round"/>
<path d="M344.1,699.1 L342.6,697.9" stroke="#184ede" stroke-width="4.4" fill="none" stroke-linecap="round" stroke-linejoin="round"/>
<path d="M342.6,697.9 L341.0,696.5" stroke="#1854de" stroke-width="4.4" fill="none" stroke-linecap="round" stroke-linejoin="round"/>
<path d="M341.0,696.5 L339.4,695.2" stroke="#185ae4" stroke-width="4.4" fill="none" stroke-linecap="round" stroke-linejoin="round"/>
<path d="M339.4,695.2 L337.7,693.7 L336.1,692.2" stroke="#1860e4" stroke-width="4.4" fill="none" stroke-linecap="round" stroke-linejoin="round"/>
<path d="M336.1,692.2 L334.4,690.7" stroke="#1866e4" stroke-width="4.4" fill="none" stroke-linecap="round" stroke-linejoin="round"/>
<path d="M334.4,690.7 L332.8,689.1" stroke="#186ce4" stroke-width="4.4" fill="none" stroke-linecap="round" stroke-linejoin="round"/>
<path d="M332.8,689.1 L331.1,687.5 L329.5,685.8" stroke="#1872e4" stroke-width="4.4" fill="none" stroke-linecap="round" stroke-linejoin="round"/>
<path d="M329.5,685.8 L328.0,684.2" stroke="#1878e4" stroke-width="4.4" fill="none" stroke-linecap="round" stroke-linejoin="round"/>
<path d="M328.0,684.2 L326.4,682.5" stroke="#187ee4" stroke-width="4.4" fill="none" stroke-linecap="round" stroke-linejoin="round"/>
<path d="M326.4,682.5 L325.0,680.8 L323.6,679.0" stroke="#1884e4" stroke-width="4.4" fill="none" stroke-linecap="round" stroke-linejoin="round"/>
<path d="M323.6,679.0 L322.3,677.3" stroke="#188aea" stroke-width="4.4" fill="none" stroke-linecap="round" stroke-linejoin="round"/>
<path d="M322.3,677.3 L321.1,675.5 L319.9,673.8" stroke="#1890ea" stroke-width="4.4" fill="none" stroke-linecap="round" stroke-linejoin="round"/>
<path d="M319.9,673.8 L318.7,671.9 L317.6,670.1" stroke="#188aea" stroke-width="4.4" fill="none" stroke-linecap="round" stroke-linejoin="round"/>
<path d="M317.6,670.1 L316.5,668.2 L315.4,666.3 L314.4,664.3" stroke="#1884ea" stroke-width="4.4" fill="none" stroke-linecap="round" stroke-linejoin="round"/>
<path d="M314.4,664.3 L313.5,662.4 L312.6,660.4 L311.7,658.5" stroke="#187eea" stroke-width="4.4" fill="none" stroke-linecap="round" stroke-linejoin="round"/>
<path d="M311.7,658.5 L310.9,656.5 L310.2,654.5" stroke="#1878ea" stroke-width="4.4" fill="none" stroke-linecap="round" stroke-linejoin="round"/>
<path d="M310.2,654.5 L309.5,652.6 L308.9,650.6 L308.3,648.6 L307.9,646.7 L307.4,644.7" stroke="#1872ea" stroke-width="4.4" fill="none" stroke-linecap="round" stroke-linejoin="round"/>
<path d="M307.4,644.7 L307.0,642.6 L306.7,640.6" stroke="#1878ea" stroke-width="4.4" fill="none" stroke-linecap="round" stroke-linejoin="round"/>
<path d="M306.7,640.6 L306.4,638.6 L306.2,636.6 L306.1,634.5" stroke="#187eea" stroke-width="4.4" fill="none" stroke-linecap="round" stroke-linejoin="round"/>
<path d="M306.1,634.5 L305.9,632.5" stroke="#1884ea" stroke-width="4.4" fill="none" stroke-linecap="round" stroke-linejoin="round"/>
<path d="M305.9,632.5 L305.8,630.5 L305.8,628.5" stroke="#1884f0" stroke-width="4.4" fill="none" stroke-linecap="round" stroke-linejoin="round"/>
<path d="M305.8,628.5 L305.8,626.6 L305.8,624.7" stroke="#188af0" stroke-width="4.4" fill="none" stroke-linecap="round" stroke-linejoin="round"/>
<path d="M305.8,624.7 L305.9,622.8 L306.0,621.0" stroke="#1890f0" stroke-width="4.4" fill="none" stroke-linecap="round" stroke-linejoin="round"/>
<path d="M306.0,621.0 L306.1,619.1 L306.3,617.3" stroke="#1896f0" stroke-width="4.4" fill="none" stroke-linecap="round" stroke-linejoin="round"/>
<path d="M306.3,617.3 L306.5,615.6 L306.7,613.8" stroke="#189cf0" stroke-width="4.4" fill="none" stroke-linecap="round" stroke-linejoin="round"/>
<path d="M306.7,613.8 L307.0,612.1 L307.3,610.3" stroke="#18a2f0" stroke-width="4.4" fill="none" stroke-linecap="round" stroke-linejoin="round"/>
<path d="M307.3,610.3 L307.7,608.6" stroke="#18a8f0" stroke-width="4.4" fill="none" stroke-linecap="round" stroke-linejoin="round"/>
<path d="M307.7,608.6 L308.2,606.9 L308.7,605.2" stroke="#18aef0" stroke-width="4.4" fill="none" stroke-linecap="round" stroke-linejoin="round"/>
<path d="M308.7,605.2 L309.2,603.6 L309.8,601.9" stroke="#18b4f0" stroke-width="4.4" fill="none" stroke-linecap="round" stroke-linejoin="round"/>
<path d="M309.8,601.9 L310.5,600.2 L311.3,598.5" stroke="#18baf0" stroke-width="4.4" fill="none" stroke-linecap="round" stroke-linejoin="round"/>
<path d="M311.3,598.5 L312.1,596.8 L313.1,595.1 L314.0,593.3" stroke="#18c0f0" stroke-width="4.4" fill="none" stroke-linecap="round" stroke-linejoin="round"/>
<path d="M314.0,593.3 L315.1,591.6 L316.2,589.8 L317.4,588.1 L318.6,586.4 L319.9,584.7" stroke="#18c6f0" stroke-width="4.4" fill="none" stroke-linecap="round" stroke-linejoin="round"/>
<path d="M319.9,584.7 L321.2,583.0 L322.6,581.4 L324.0,579.8 L325.4,578.3 L326.8,576.9 L328.3,575.5" stroke="#18ccf0" stroke-width="4.4" fill="none" stroke-linecap="round" stroke-linejoin="round"/>
<path d="M328.3,575.5 L329.8,574.2 L331.4,572.9 L333.0,571.6 L334.7,570.4 L336.4,569.2 L338.2,568.0 L340.0,566.9 L341.8,565.9 L343.6,564.9" stroke="#18d2f0" stroke-width="4.4" fill="none" stroke-linecap="round" stroke-linejoin="round"/>
<path d="M343.6,564.9 L345.5,563.9 L347.3,563.1 L349.1,562.3 L350.9,561.5 L352.6,560.9 L354.3,560.3 L356.0,559.9 L357.7,559.4 L359.3,559.1 L361.0,558.8 L362.7,558.6" stroke="#18d8f0" stroke-width="4.4" fill="none" stroke-linecap="round" stroke-linejoin="round"/>
<path d="M362.7,558.6 L364.3,558.5 L366.0,558.4 L367.7,558.3 L369.4,558.3 L371.2,558.3 L373.0,558.4 L374.9,558.4 L376.8,558.5" stroke="#18def0" stroke-width="4.4" fill="none" stroke-linecap="round" stroke-linejoin="round"/>
<line x1="297.3" y1="690.4" x2="315.0" y2="690.4" stroke="#2a2a2a" stroke-width="1.4" stroke-dasharray="1.7 1.1"/>
<path d="M321.5,690.4 L311.0,696.2 L315.0,690.4 L311.0,684.6 Z" fill="#000"/>
<text x="288.5" y="695.1" font-size="16" text-anchor="middle" font-weight="normal" fill="#000" >O</text>
<line x1="469.0" y1="690.4" x2="452.0" y2="690.4" stroke="#2a2a2a" stroke-width="1.4" stroke-dasharray="1.7 1.1"/>
<path d="M445.5,690.4 L456.0,684.6 L452.0,690.4 L456.0,696.2 Z" fill="#000"/>
<text x="474.8" y="695.1" font-size="16" text-anchor="middle" font-weight="normal" fill="#000" >I</text>
<path d="M596.3,574.2 L599.1,574.3 L602.0,574.4 L605.0,574.6 L608.0,574.9 L611.1,575.2" stroke="#18def0" stroke-width="4.4" fill="none" stroke-linecap="round" stroke-linejoin="round"/>
<path d="M611.1,575.2 L614.2,575.6 L617.3,576.0 L620.4,576.5 L623.5,577.0 L626.5,577.6" stroke="#18d8f0" stroke-width="4.4" fill="none" stroke-linecap="round" stroke-linejoin="round"/>
<path d="M626.5,577.6 L629.5,578.2 L632.4,578.8 L635.2,579.6 L637.8,580.3 L640.4,581.1 L642.9,581.9 L645.3,582.8 L647.8,583.8 L650.1,584.8 L652.4,585.9 L654.7,586.9 L656.9,588.1 L659.0,589.3" stroke="#18d2f0" stroke-width="4.4" fill="none" stroke-linecap="round" stroke-linejoin="round"/>
<path d="M659.0,589.3 L661.1,590.5 L663.0,591.7 L664.9,593.0 L666.8,594.3 L668.5,595.7 L670.2,597.1 L671.8,598.6 L673.3,600.1 L674.8,601.6 L676.1,603.2 L677.5,604.9" stroke="#18d8f0" stroke-width="4.4" fill="none" stroke-linecap="round" stroke-linejoin="round"/>
<path d="M677.5,604.9 L678.7,606.5 L679.9,608.2 L681.0,609.9 L682.0,611.7 L683.0,613.4 L683.8,615.2 L684.6,616.9 L685.3,618.7 L685.9,620.5 L686.4,622.3 L686.8,624.1 L687.1,625.9 L687.4,627.7 L687.5,629.6 L687.6,631.5 L687.7,633.3 L687.6,635.2 L687.6,637.1 L687.4,639.1 L687.3,641.0 L687.1,642.9 L686.9,644.8 L686.7,646.7 L686.4,648.7 L686.2,650.6 L685.9,652.6 L685.6,654.5 L685.2,656.5 L684.8,658.5 L684.3,660.5 L683.7,662.5 L683.0,664.5 L682.2,666.5 L681.3,668.4 L680.3,670.4 L679.2,672.4 L677.9,674.4 L676.5,676.5 L674.9,678.6 L673.2,680.8 L671.4,682.9 L669.5,685.1 L667.6,687.2 L665.6,689.3 L663.5,691.4 L661.4,693.3 L659.3,695.2 L657.2,696.9 L655.1,698.5 L653.1,700.0 L651.0,701.3 L649.0,702.5 L646.8,703.6 L644.7,704.6 L642.5,705.4 L640.3,706.3 L638.0,707.0 L635.8,707.6 L633.6,708.3 L631.3,708.8 L629.1,709.4 L626.8,709.9 L624.6,710.3 L622.4,710.8 L620.2,711.2 L618.1,711.7 L616.0,712.0 L613.9,712.3 L611.7,712.6 L609.6,712.9 L607.5,713.1 L605.4,713.2 L603.2,713.3 L601.0,713.4 L598.8,713.4 L596.5,713.3 L594.1,713.2 L591.7,713.1 L589.2,712.9 L586.6,712.7 L583.9,712.4 L581.1,712.0 L578.3,711.7 L575.4,711.2 L572.6,710.8 L569.7,710.2 L566.8,709.7" stroke="#18def0" stroke-width="4.4" fill="none" stroke-linecap="round" stroke-linejoin="round"/>
<path d="M566.8,709.7 L564.0,709.1 L561.2,708.4 L558.5,707.7 L555.9,707.0 L553.4,706.2 L550.9,705.4 L548.5,704.5" stroke="#18d8f0" stroke-width="4.4" fill="none" stroke-linecap="round" stroke-linejoin="round"/>
<path d="M548.5,704.5 L546.1,703.6 L543.7,702.6 L541.4,701.6 L539.1,700.5" stroke="#18d2f0" stroke-width="4.4" fill="none" stroke-linecap="round" stroke-linejoin="round"/>
<path d="M539.1,700.5 L536.8,699.4 L534.6,698.3 L532.4,697.1" stroke="#18ccf0" stroke-width="4.4" fill="none" stroke-linecap="round" stroke-linejoin="round"/>
<path d="M532.4,697.1 L530.4,695.9 L528.3,694.7 L526.4,693.4 L524.5,692.1" stroke="#18c6f0" stroke-width="4.4" fill="none" stroke-linecap="round" stroke-linejoin="round"/>
<path d="M524.5,692.1 L522.7,690.8 L521.0,689.5" stroke="#18c0f0" stroke-width="4.4" fill="none" stroke-linecap="round" stroke-linejoin="round"/>
<path d="M521.0,689.5 L519.3,688.1" stroke="#18baf0" stroke-width="4.4" fill="none" stroke-linecap="round" stroke-linejoin="round"/>
<path d="M519.3,688.1 L517.7,686.7" stroke="#18b4f0" stroke-width="4.4" fill="none" stroke-linecap="round" stroke-linejoin="round"/>
<path d="M517.7,686.7 L516.1,685.3" stroke="#18b4ea" stroke-width="4.4" fill="none" stroke-linecap="round" stroke-linejoin="round"/>
<path d="M516.1,685.3 L514.7,683.8" stroke="#18aeea" stroke-width="4.4" fill="none" stroke-linecap="round" stroke-linejoin="round"/>
<path d="M514.7,683.8 L513.2,682.3" stroke="#18a8ea" stroke-width="4.4" fill="none" stroke-linecap="round" stroke-linejoin="round"/>
<path d="M513.2,682.3 L511.9,680.8 L510.6,679.3" stroke="#18a2ea" stroke-width="4.4" fill="none" stroke-linecap="round" stroke-linejoin="round"/>
<path d="M510.6,679.3 L509.3,677.7" stroke="#189ce4" stroke-width="4.4" fill="none" stroke-linecap="round" stroke-linejoin="round"/>
<path d="M509.3,677.7 L508.2,676.1" stroke="#1896e4" stroke-width="4.4" fill="none" stroke-linecap="round" stroke-linejoin="round"/>
<path d="M508.2,676.1 L507.1,674.4 L506.1,672.7" stroke="#1890e4" stroke-width="4.4" fill="none" stroke-linecap="round" stroke-linejoin="round"/>
<path d="M506.1,672.7 L505.2,671.0" stroke="#188ae4" stroke-width="4.4" fill="none" stroke-linecap="round" stroke-linejoin="round"/>
<path d="M505.2,671.0 L504.3,669.3" stroke="#1884e4" stroke-width="4.4" fill="none" stroke-linecap="round" stroke-linejoin="round"/>
<path d="M504.3,669.3 L503.5,667.5 L502.8,665.7 L502.2,663.8 L501.6,661.8 L501.1,659.8" stroke="#187ede" stroke-width="4.4" fill="none" stroke-linecap="round" stroke-linejoin="round"/>
<path d="M501.1,659.8 L500.6,657.8 L500.3,655.8 L500.0,653.7 L499.8,651.7 L499.6,649.7" stroke="#1878de" stroke-width="4.4" fill="none" stroke-linecap="round" stroke-linejoin="round"/>
<path d="M499.6,649.7 L499.5,647.6 L499.5,645.6 L499.6,643.6 L499.7,641.7 L499.9,639.8" stroke="#1872de" stroke-width="4.4" fill="none" stroke-linecap="round" stroke-linejoin="round"/>
<path d="M499.9,639.8 L500.2,637.8" stroke="#1872e4" stroke-width="4.4" fill="none" stroke-linecap="round" stroke-linejoin="round"/>
<path d="M500.2,637.8 L500.5,635.9" stroke="#1878e4" stroke-width="4.4" fill="none" stroke-linecap="round" stroke-linejoin="round"/>
<path d="M500.5,635.9 L501.0,633.9" stroke="#187ee4" stroke-width="4.4" fill="none" stroke-linecap="round" stroke-linejoin="round"/>
<path d="M501.0,633.9 L501.5,632.0 L502.0,630.0" stroke="#1884e4" stroke-width="4.4" fill="none" stroke-linecap="round" stroke-linejoin="round"/>
<path d="M502.0,630.0 L502.7,628.1" stroke="#188ae4" stroke-width="4.4" fill="none" stroke-linecap="round" stroke-linejoin="round"/>
<path d="M502.7,628.1 L503.4,626.2" stroke="#1890ea" stroke-width="4.4" fill="none" stroke-linecap="round" stroke-linejoin="round"/>
<path d="M503.4,626.2 L504.1,624.3" stroke="#1896ea" stroke-width="4.4" fill="none" stroke-linecap="round" stroke-linejoin="round"/>
<path d="M504.1,624.3 L505.0,622.5 L505.9,620.7" stroke="#189cea" stroke-width="4.4" fill="none" stroke-linecap="round" stroke-linejoin="round"/>
<path d="M505.9,620.7 L506.8,618.9" stroke="#18a2ea" stroke-width="4.4" fill="none" stroke-linecap="round" stroke-linejoin="round"/>
<path d="M506.8,618.9 L507.8,617.2" stroke="#18a8f0" stroke-width="4.4" fill="none" stroke-linecap="round" stroke-linejoin="round"/>
<path d="M507.8,617.2 L508.9,615.6 L510.0,614.0" stroke="#18aef0" stroke-width="4.4" fill="none" stroke-linecap="round" stroke-linejoin="round"/>
<path d="M510.0,614.0 L511.2,612.6 L512.5,611.1" stroke="#18b4f0" stroke-width="4.4" fill="none" stroke-linecap="round" stroke-linejoin="round"/>
<path d="M512.5,611.1 L513.9,609.8 L515.3,608.5" stroke="#18baf0" stroke-width="4.4" fill="none" stroke-linecap="round" stroke-linejoin="round"/>
<path d="M515.3,608.5 L516.8,607.2 L518.3,605.9" stroke="#18c0f0" stroke-width="4.4" fill="none" stroke-linecap="round" stroke-linejoin="round"/>
<path d="M518.3,605.9 L519.9,604.7 L521.5,603.5" stroke="#18c6f0" stroke-width="4.4" fill="none" stroke-linecap="round" stroke-linejoin="round"/>
<path d="M521.5,603.5 L523.2,602.2 L525.0,601.0" stroke="#18ccf0" stroke-width="4.4" fill="none" stroke-linecap="round" stroke-linejoin="round"/>
<path d="M525.0,601.0 L526.7,599.8 L528.6,598.5" stroke="#18d2f0" stroke-width="4.4" fill="none" stroke-linecap="round" stroke-linejoin="round"/>
<path d="M528.6,598.5 L530.4,597.2 L532.3,595.9 L534.3,594.5 L536.3,593.0 L538.3,591.5 L540.5,590.1 L542.6,588.6" stroke="#18d8f0" stroke-width="4.4" fill="none" stroke-linecap="round" stroke-linejoin="round"/>
<path d="M542.6,588.6 L544.8,587.1 L547.1,585.7 L549.4,584.4 L551.6,583.1 L554.0,581.8 L556.3,580.7 L558.6,579.7 L561.0,578.8 L563.4,578.0 L565.7,577.3 L568.1,576.7 L570.6,576.2 L573.0,575.7 L575.5,575.3 L578.0,575.0 L580.5,574.7 L583.0,574.5 L585.6,574.3 L588.2,574.2 L590.9,574.2 L593.6,574.2 L596.3,574.2" stroke="#18def0" stroke-width="4.4" fill="none" stroke-linecap="round" stroke-linejoin="round"/>
<line x1="621.7" y1="558.3" x2="608.5" y2="566.4" stroke="#2a2a2a" stroke-width="1.4" stroke-dasharray="1.7 1.1"/>
<path d="M603.0,569.8 L608.9,559.4 L608.5,566.4 L615.0,569.2 Z" fill="#000"/>
<text x="625" y="563" font-size="16" text-anchor="middle" font-weight="normal" fill="#000" >I</text>
<line x1="543.8" y1="725.3" x2="555.6" y2="717.6" stroke="#2a2a2a" stroke-width="1.4" stroke-dasharray="1.7 1.1"/>
<path d="M561.0,714.0 L555.4,724.6 L555.6,717.6 L549.0,714.9 Z" fill="#000"/>
<text x="533.5" y="731.7" font-size="16" text-anchor="middle" font-weight="normal" fill="#000" >O</text>
<path d="M980.7,600.2 L981.8,599.7 L983.0,599.2" stroke="#2496e4" stroke-width="4.4" fill="none" stroke-linecap="round" stroke-linejoin="round"/>
<path d="M983.0,599.2 L984.3,598.7" stroke="#2490e4" stroke-width="4.4" fill="none" stroke-linecap="round" stroke-linejoin="round"/>
<path d="M984.3,598.7 L985.7,598.3" stroke="#1e90de" stroke-width="4.4" fill="none" stroke-linecap="round" stroke-linejoin="round"/>
<path d="M985.7,598.3 L987.1,598.0" stroke="#2484de" stroke-width="4.4" fill="none" stroke-linecap="round" stroke-linejoin="round"/>
<path d="M987.1,598.0 L988.7,597.6" stroke="#2472de" stroke-width="4.4" fill="none" stroke-linecap="round" stroke-linejoin="round"/>
<path d="M988.7,597.6 L990.3,597.4" stroke="#2466d8" stroke-width="4.4" fill="none" stroke-linecap="round" stroke-linejoin="round"/>
<path d="M990.3,597.4 L991.9,597.1" stroke="#2a5ad8" stroke-width="4.4" fill="none" stroke-linecap="round" stroke-linejoin="round"/>
<path d="M991.9,597.1 L993.6,596.9" stroke="#2a48d8" stroke-width="4.4" fill="none" stroke-linecap="round" stroke-linejoin="round"/>
<path d="M993.6,596.9 L995.4,596.8" stroke="#2a3cd2" stroke-width="4.4" fill="none" stroke-linecap="round" stroke-linejoin="round"/>
<path d="M995.4,596.8 L997.2,596.6" stroke="#3030d2" stroke-width="4.4" fill="none" stroke-linecap="round" stroke-linejoin="round"/>
<path d="M997.2,596.6 L999.0,596.6" stroke="#301ed2" stroke-width="4.4" fill="none" stroke-linecap="round" stroke-linejoin="round"/>
<path d="M999.0,596.6 L1000.8,596.6" stroke="#541eae" stroke-width="4.4" fill="none" stroke-linecap="round" stroke-linejoin="round"/>
<path d="M1000.8,596.6 L1002.6,596.6" stroke="#78188a" stroke-width="4.4" fill="none" stroke-linecap="round" stroke-linejoin="round"/>
<path d="M1002.6,596.6 L1004.5,596.7" stroke="#9c1866" stroke-width="4.4" fill="none" stroke-linecap="round" stroke-linejoin="round"/>
<path d="M1004.5,596.7 L1006.5,596.8" stroke="#ba1242" stroke-width="4.4" fill="none" stroke-linecap="round" stroke-linejoin="round"/>
<path d="M1006.5,596.8 L1008.5,596.9" stroke="#de121e" stroke-width="4.4" fill="none" stroke-linecap="round" stroke-linejoin="round"/>
<path d="M1008.5,596.9 L1010.6,597.1" stroke="#e4241e" stroke-width="4.4" fill="none" stroke-linecap="round" stroke-linejoin="round"/>
<path d="M1010.6,597.1 L1012.8,597.4" stroke="#e43c1e" stroke-width="4.4" fill="none" stroke-linecap="round" stroke-linejoin="round"/>
<path d="M1012.8,597.4 L1015.0,597.7" stroke="#ea541e" stroke-width="4.4" fill="none" stroke-linecap="round" stroke-linejoin="round"/>
<path d="M1015.0,597.7 L1017.2,598.0" stroke="#ea6c1e" stroke-width="4.4" fill="none" stroke-linecap="round" stroke-linejoin="round"/>
<path d="M1017.2,598.0 L1019.4,598.4" stroke="#f07e1e" stroke-width="4.4" fill="none" stroke-linecap="round" stroke-linejoin="round"/>
<path d="M1019.4,598.4 L1021.6,598.8" stroke="#e4722a" stroke-width="4.4" fill="none" stroke-linecap="round" stroke-linejoin="round"/>
<path d="M1021.6,598.8 L1023.8,599.3" stroke="#de6030" stroke-width="4.4" fill="none" stroke-linecap="round" stroke-linejoin="round"/>
<path d="M1023.8,599.3 L1025.9,599.8" stroke="#d24e3c" stroke-width="4.4" fill="none" stroke-linecap="round" stroke-linejoin="round"/>
<path d="M1025.9,599.8 L1027.9,600.4" stroke="#cc4242" stroke-width="4.4" fill="none" stroke-linecap="round" stroke-linejoin="round"/>
<path d="M1027.9,600.4 L1029.9,601.0" stroke="#c0304e" stroke-width="4.4" fill="none" stroke-linecap="round" stroke-linejoin="round"/>
<path d="M1029.9,601.0 L1031.8,601.7" stroke="#ba1e54" stroke-width="4.4" fill="none" stroke-linecap="round" stroke-linejoin="round"/>
<path d="M1031.8,601.7 L1033.6,602.4" stroke="#ae1260" stroke-width="4.4" fill="none" stroke-linecap="round" stroke-linejoin="round"/>
<path d="M1033.6,602.4 L1035.4,603.3" stroke="#b4125a" stroke-width="4.4" fill="none" stroke-linecap="round" stroke-linejoin="round"/>
<path d="M1035.4,603.3 L1037.2,604.1 L1039.0,605.1" stroke="#b41254" stroke-width="4.4" fill="none" stroke-linecap="round" stroke-linejoin="round"/>
<path d="M1039.0,605.1 L1040.7,606.1" stroke="#ba124e" stroke-width="4.4" fill="none" stroke-linecap="round" stroke-linejoin="round"/>
<path d="M1040.7,606.1 L1042.4,607.1" stroke="#ba1248" stroke-width="4.4" fill="none" stroke-linecap="round" stroke-linejoin="round"/>
<path d="M1042.4,607.1 L1044.0,608.2 L1045.6,609.3" stroke="#c01242" stroke-width="4.4" fill="none" stroke-linecap="round" stroke-linejoin="round"/>
<path d="M1045.6,609.3 L1047.2,610.5" stroke="#c6243c" stroke-width="4.4" fill="none" stroke-linecap="round" stroke-linejoin="round"/>
<path d="M1047.2,610.5 L1048.6,611.6" stroke="#cc3c36" stroke-width="4.4" fill="none" stroke-linecap="round" stroke-linejoin="round"/>
<path d="M1048.6,611.6 L1050.0,612.8" stroke="#d24e30" stroke-width="4.4" fill="none" stroke-linecap="round" stroke-linejoin="round"/>
<path d="M1050.0,612.8 L1051.3,614.0" stroke="#de6030" stroke-width="4.4" fill="none" stroke-linecap="round" stroke-linejoin="round"/>
<path d="M1051.3,614.0 L1052.6,615.1" stroke="#e4782a" stroke-width="4.4" fill="none" stroke-linecap="round" stroke-linejoin="round"/>
<path d="M1052.6,615.1 L1053.7,616.3" stroke="#ea8a24" stroke-width="4.4" fill="none" stroke-linecap="round" stroke-linejoin="round"/>
<path d="M1053.7,616.3 L1054.8,617.5" stroke="#f0a21e" stroke-width="4.4" fill="none" stroke-linecap="round" stroke-linejoin="round"/>
<path d="M1054.8,617.5 L1055.8,618.7 L1056.7,619.9" stroke="#f0a81e" stroke-width="4.4" fill="none" stroke-linecap="round" stroke-linejoin="round"/>
<path d="M1056.7,619.9 L1057.5,621.2" stroke="#f6ae1e" stroke-width="4.4" fill="none" stroke-linecap="round" stroke-linejoin="round"/>
<path d="M1057.5,621.2 L1058.3,622.5" stroke="#f6b41e" stroke-width="4.4" fill="none" stroke-linecap="round" stroke-linejoin="round"/>
<path d="M1058.3,622.5 L1059.0,623.7" stroke="#f6ba1e" stroke-width="4.4" fill="none" stroke-linecap="round" stroke-linejoin="round"/>
<path d="M1059.0,623.7 L1059.7,625.0" stroke="#f6c01e" stroke-width="4.4" fill="none" stroke-linecap="round" stroke-linejoin="round"/>
<path d="M1059.7,625.0 L1060.3,626.4" stroke="#f0961e" stroke-width="4.4" fill="none" stroke-linecap="round" stroke-linejoin="round"/>
<path d="M1060.3,626.4 L1060.8,627.6" stroke="#ea661e" stroke-width="4.4" fill="none" stroke-linecap="round" stroke-linejoin="round"/>
<path d="M1060.8,627.6 L1061.3,628.9" stroke="#e43c1e" stroke-width="4.4" fill="none" stroke-linecap="round" stroke-linejoin="round"/>
<path d="M1061.3,628.9 L1061.6,630.2" stroke="#de121e" stroke-width="4.4" fill="none" stroke-linecap="round" stroke-linejoin="round"/>
<path d="M1061.6,630.2 L1062.0,631.4" stroke="#cc1236" stroke-width="4.4" fill="none" stroke-linecap="round" stroke-linejoin="round"/>
<path d="M1062.0,631.4 L1062.2,632.6" stroke="#b41248" stroke-width="4.4" fill="none" stroke-linecap="round" stroke-linejoin="round"/>
<path d="M1062.2,632.6 L1062.4,633.8" stroke="#a21260" stroke-width="4.4" fill="none" stroke-linecap="round" stroke-linejoin="round"/>
<path d="M1062.4,633.8 L1062.5,634.9" stroke="#901272" stroke-width="4.4" fill="none" stroke-linecap="round" stroke-linejoin="round"/>
<path d="M1062.5,634.9 L1062.6,636.0" stroke="#781284" stroke-width="4.4" fill="none" stroke-linecap="round" stroke-linejoin="round"/>
<path d="M1062.6,636.0 L1062.6,637.0" stroke="#66129c" stroke-width="4.4" fill="none" stroke-linecap="round" stroke-linejoin="round"/>
<path d="M1062.6,637.0 L1062.5,638.1" stroke="#4e12ae" stroke-width="4.4" fill="none" stroke-linecap="round" stroke-linejoin="round"/>
<path d="M1062.5,638.1 L1062.4,639.0 L1062.2,640.0 L1061.9,641.0" stroke="#4e12b4" stroke-width="4.4" fill="none" stroke-linecap="round" stroke-linejoin="round"/>
<path d="M1061.9,641.0 L1061.6,642.0" stroke="#4818b4" stroke-width="4.4" fill="none" stroke-linecap="round" stroke-linejoin="round"/>
<path d="M1061.6,642.0 L1061.2,643.0 L1060.7,644.0" stroke="#4818ba" stroke-width="4.4" fill="none" stroke-linecap="round" stroke-linejoin="round"/>
<path d="M1060.7,644.0 L1060.1,645.0 L1059.5,646.1" stroke="#421eba" stroke-width="4.4" fill="none" stroke-linecap="round" stroke-linejoin="round"/>
<path d="M1059.5,646.1 L1058.8,647.2 L1058.0,648.4" stroke="#421ec0" stroke-width="4.4" fill="none" stroke-linecap="round" stroke-linejoin="round"/>
<path d="M1058.0,648.4 L1057.1,649.6" stroke="#3c24c6" stroke-width="4.4" fill="none" stroke-linecap="round" stroke-linejoin="round"/>
<path d="M1057.1,649.6 L1056.1,650.9" stroke="#362ac6" stroke-width="4.4" fill="none" stroke-linecap="round" stroke-linejoin="round"/>
<path d="M1056.1,650.9 L1055.0,652.3" stroke="#362acc" stroke-width="4.4" fill="none" stroke-linecap="round" stroke-linejoin="round"/>
<path d="M1055.0,652.3 L1053.7,653.7" stroke="#3030cc" stroke-width="4.4" fill="none" stroke-linecap="round" stroke-linejoin="round"/>
<path d="M1053.7,653.7 L1052.4,655.1" stroke="#3030d2" stroke-width="4.4" fill="none" stroke-linecap="round" stroke-linejoin="round"/>
<path d="M1052.4,655.1 L1051.1,656.5 L1049.6,658.0" stroke="#2a36d8" stroke-width="4.4" fill="none" stroke-linecap="round" stroke-linejoin="round"/>
<path d="M1049.6,658.0 L1048.2,659.4" stroke="#243cde" stroke-width="4.4" fill="none" stroke-linecap="round" stroke-linejoin="round"/>
<path d="M1048.2,659.4 L1046.7,660.9" stroke="#1e42de" stroke-width="4.4" fill="none" stroke-linecap="round" stroke-linejoin="round"/>
<path d="M1046.7,660.9 L1045.1,662.3" stroke="#1e48e4" stroke-width="4.4" fill="none" stroke-linecap="round" stroke-linejoin="round"/>
<path d="M1045.1,662.3 L1043.6,663.6" stroke="#1e4ee4" stroke-width="4.4" fill="none" stroke-linecap="round" stroke-linejoin="round"/>
<path d="M1043.6,663.6 L1042.1,665.0" stroke="#1e54e4" stroke-width="4.4" fill="none" stroke-linecap="round" stroke-linejoin="round"/>
<path d="M1042.1,665.0 L1040.6,666.2" stroke="#1e60e4" stroke-width="4.4" fill="none" stroke-linecap="round" stroke-linejoin="round"/>
<path d="M1040.6,666.2 L1039.1,667.4" stroke="#1e66ea" stroke-width="4.4" fill="none" stroke-linecap="round" stroke-linejoin="round"/>
<path d="M1039.1,667.4 L1037.6,668.5" stroke="#1e6cea" stroke-width="4.4" fill="none" stroke-linecap="round" stroke-linejoin="round"/>
<path d="M1037.6,668.5 L1036.2,669.6" stroke="#1e72ea" stroke-width="4.4" fill="none" stroke-linecap="round" stroke-linejoin="round"/>
<path d="M1036.2,669.6 L1034.7,670.7" stroke="#1e78ea" stroke-width="4.4" fill="none" stroke-linecap="round" stroke-linejoin="round"/>
<path d="M1034.7,670.7 L1033.2,671.7" stroke="#1e84f0" stroke-width="4.4" fill="none" stroke-linecap="round" stroke-linejoin="round"/>
<path d="M1033.2,671.7 L1031.7,672.7" stroke="#1e8af0" stroke-width="4.4" fill="none" stroke-linecap="round" stroke-linejoin="round"/>
<path d="M1031.7,672.7 L1030.2,673.6 L1028.6,674.5" stroke="#1e90f0" stroke-width="4.4" fill="none" stroke-linecap="round" stroke-linejoin="round"/>
<path d="M1028.6,674.5 L1027.1,675.4 L1025.5,676.3" stroke="#1e96f0" stroke-width="4.4" fill="none" stroke-linecap="round" stroke-linejoin="round"/>
<path d="M1025.5,676.3 L1023.9,677.2 L1022.2,678.0 L1020.6,678.9" stroke="#1e9cf0" stroke-width="4.4" fill="none" stroke-linecap="round" stroke-linejoin="round"/>
<path d="M1020.6,678.9 L1018.9,679.7 L1017.2,680.5" stroke="#1ea2f0" stroke-width="4.4" fill="none" stroke-linecap="round" stroke-linejoin="round"/>
<path d="M1017.2,680.5 L1015.4,681.3 L1013.6,682.2" stroke="#1ea8f0" stroke-width="4.4" fill="none" stroke-linecap="round" stroke-linejoin="round"/>
<path d="M1013.6,682.2 L1011.6,683.1 L1009.7,683.9 L1007.7,684.8" stroke="#1eaef0" stroke-width="4.4" fill="none" stroke-linecap="round" stroke-linejoin="round"/>
<path d="M1007.7,684.8 L1005.6,685.7" stroke="#1ea8f0" stroke-width="4.4" fill="none" stroke-linecap="round" stroke-linejoin="round"/>
<path d="M1005.6,685.7 L1003.6,686.5" stroke="#1ea2ea" stroke-width="4.4" fill="none" stroke-linecap="round" stroke-linejoin="round"/>
<path d="M1003.6,686.5 L1001.6,687.2" stroke="#1e96ea" stroke-width="4.4" fill="none" stroke-linecap="round" stroke-linejoin="round"/>
<path d="M1001.6,687.2 L999.6,687.9" stroke="#1e90ea" stroke-width="4.4" fill="none" stroke-linecap="round" stroke-linejoin="round"/>
<path d="M999.6,687.9 L997.7,688.6" stroke="#1e8aea" stroke-width="4.4" fill="none" stroke-linecap="round" stroke-linejoin="round"/>
<path d="M997.7,688.6 L995.8,689.1" stroke="#1e7ee4" stroke-width="4.4" fill="none" stroke-linecap="round" stroke-linejoin="round"/>
<path d="M995.8,689.1 L994.1,689.5" stroke="#1e78e4" stroke-width="4.4" fill="none" stroke-linecap="round" stroke-linejoin="round"/>
<path d="M994.1,689.5 L992.4,689.8" stroke="#1e72e4" stroke-width="4.4" fill="none" stroke-linecap="round" stroke-linejoin="round"/>
<path d="M992.4,689.8 L990.9,690.0" stroke="#1e66e4" stroke-width="4.4" fill="none" stroke-linecap="round" stroke-linejoin="round"/>
<path d="M990.9,690.0 L989.5,690.1" stroke="#1e60de" stroke-width="4.4" fill="none" stroke-linecap="round" stroke-linejoin="round"/>
<path d="M989.5,690.1 L988.1,690.0 L986.8,689.9" stroke="#1e5ade" stroke-width="4.4" fill="none" stroke-linecap="round" stroke-linejoin="round"/>
<path d="M986.8,689.9 L985.6,689.7 L984.4,689.4" stroke="#1e54de" stroke-width="4.4" fill="none" stroke-linecap="round" stroke-linejoin="round"/>
<path d="M984.4,689.4 L983.3,689.0 L982.3,688.6" stroke="#1e4ede" stroke-width="4.4" fill="none" stroke-linecap="round" stroke-linejoin="round"/>
<path d="M982.3,688.6 L981.3,688.0" stroke="#1e48de" stroke-width="4.4" fill="none" stroke-linecap="round" stroke-linejoin="round"/>
<path d="M981.3,688.0 L980.3,687.4 L979.4,686.8" stroke="#1e42de" stroke-width="4.4" fill="none" stroke-linecap="round" stroke-linejoin="round"/>
<path d="M979.4,686.8 L978.6,686.0 L977.8,685.2" stroke="#1e3cde" stroke-width="4.4" fill="none" stroke-linecap="round" stroke-linejoin="round"/>
<path d="M977.8,685.2 L977.0,684.3 L976.3,683.4" stroke="#1e36de" stroke-width="4.4" fill="none" stroke-linecap="round" stroke-linejoin="round"/>
<path d="M976.3,683.4 L975.6,682.4" stroke="#1e30de" stroke-width="4.4" fill="none" stroke-linecap="round" stroke-linejoin="round"/>
<path d="M975.6,682.4 L975.0,681.3 L974.5,680.1" stroke="#2430de" stroke-width="4.4" fill="none" stroke-linecap="round" stroke-linejoin="round"/>
<path d="M974.5,680.1 L974.0,678.8 L973.6,677.5" stroke="#242ad8" stroke-width="4.4" fill="none" stroke-linecap="round" stroke-linejoin="round"/>
<path d="M973.6,677.5 L973.2,676.1 L972.9,674.6" stroke="#242ad2" stroke-width="4.4" fill="none" stroke-linecap="round" stroke-linejoin="round"/>
<path d="M972.9,674.6 L972.6,673.1" stroke="#2a2ad2" stroke-width="4.4" fill="none" stroke-linecap="round" stroke-linejoin="round"/>
<path d="M972.6,673.1 L972.3,671.5 L972.1,669.9 L971.8,668.2" stroke="#2a24cc" stroke-width="4.4" fill="none" stroke-linecap="round" stroke-linejoin="round"/>
<path d="M971.8,668.2 L971.6,666.5" stroke="#2a24c6" stroke-width="4.4" fill="none" stroke-linecap="round" stroke-linejoin="round"/>
<path d="M971.6,666.5 L971.4,664.8" stroke="#3024c6" stroke-width="4.4" fill="none" stroke-linecap="round" stroke-linejoin="round"/>
<path d="M971.4,664.8 L971.2,663.0" stroke="#3024c0" stroke-width="4.4" fill="none" stroke-linecap="round" stroke-linejoin="round"/>
<path d="M971.2,663.0 L971.0,661.2" stroke="#301ec0" stroke-width="4.4" fill="none" stroke-linecap="round" stroke-linejoin="round"/>
<path d="M971.0,661.2 L970.8,659.2" stroke="#421eb4" stroke-width="4.4" fill="none" stroke-linecap="round" stroke-linejoin="round"/>
<path d="M970.8,659.2 L970.7,657.2" stroke="#4e1ea2" stroke-width="4.4" fill="none" stroke-linecap="round" stroke-linejoin="round"/>
<path d="M970.7,657.2 L970.6,655.1" stroke="#601e96" stroke-width="4.4" fill="none" stroke-linecap="round" stroke-linejoin="round"/>
<path d="M970.6,655.1 L970.5,652.9" stroke="#721884" stroke-width="4.4" fill="none" stroke-linecap="round" stroke-linejoin="round"/>
<path d="M970.5,652.9 L970.4,650.7" stroke="#7e1878" stroke-width="4.4" fill="none" stroke-linecap="round" stroke-linejoin="round"/>
<path d="M970.4,650.7 L970.4,648.5" stroke="#90186c" stroke-width="4.4" fill="none" stroke-linecap="round" stroke-linejoin="round"/>
<path d="M970.4,648.5 L970.3,646.3" stroke="#a2125a" stroke-width="4.4" fill="none" stroke-linecap="round" stroke-linejoin="round"/>
<path d="M970.3,646.3 L970.3,644.1" stroke="#ae124e" stroke-width="4.4" fill="none" stroke-linecap="round" stroke-linejoin="round"/>
<path d="M970.3,644.1 L970.3,641.9" stroke="#c0123c" stroke-width="4.4" fill="none" stroke-linecap="round" stroke-linejoin="round"/>
<path d="M970.3,641.9 L970.3,639.7" stroke="#d21230" stroke-width="4.4" fill="none" stroke-linecap="round" stroke-linejoin="round"/>
<path d="M970.3,639.7 L970.4,637.7" stroke="#d8482a" stroke-width="4.4" fill="none" stroke-linecap="round" stroke-linejoin="round"/>
<path d="M970.4,637.7 L970.4,635.7" stroke="#e47e2a" stroke-width="4.4" fill="none" stroke-linecap="round" stroke-linejoin="round"/>
<path d="M970.4,635.7 L970.5,633.8" stroke="#f0ba24" stroke-width="4.4" fill="none" stroke-linecap="round" stroke-linejoin="round"/>
<path d="M970.5,633.8 L970.6,632.0 L970.7,630.2" stroke="#f6f01e" stroke-width="4.4" fill="none" stroke-linecap="round" stroke-linejoin="round"/>
<path d="M970.7,630.2 L970.8,628.4 L970.9,626.7 L971.1,625.0 L971.3,623.4" stroke="#f6ea1e" stroke-width="4.4" fill="none" stroke-linecap="round" stroke-linejoin="round"/>
<path d="M971.3,623.4 L971.5,621.8 L971.7,620.2 L971.9,618.7 L972.1,617.2" stroke="#f6e41e" stroke-width="4.4" fill="none" stroke-linecap="round" stroke-linejoin="round"/>
<path d="M972.1,617.2 L972.4,615.8" stroke="#f6de1e" stroke-width="4.4" fill="none" stroke-linecap="round" stroke-linejoin="round"/>
<path d="M972.4,615.8 L972.7,614.4" stroke="#c69c42" stroke-width="4.4" fill="none" stroke-linecap="round" stroke-linejoin="round"/>
<path d="M972.7,614.4 L973.0,613.1" stroke="#9c5460" stroke-width="4.4" fill="none" stroke-linecap="round" stroke-linejoin="round"/>
<path d="M973.0,613.1 L973.4,611.9" stroke="#6c127e" stroke-width="4.4" fill="none" stroke-linecap="round" stroke-linejoin="round"/>
<path d="M973.4,611.9 L973.8,610.7" stroke="#602a96" stroke-width="4.4" fill="none" stroke-linecap="round" stroke-linejoin="round"/>
<path d="M973.8,610.7 L974.1,609.6" stroke="#5448a8" stroke-width="4.4" fill="none" stroke-linecap="round" stroke-linejoin="round"/>
<path d="M974.1,609.6 L974.4,608.6" stroke="#4866c0" stroke-width="4.4" fill="none" stroke-linecap="round" stroke-linejoin="round"/>
<path d="M974.4,608.6 L974.7,607.6" stroke="#3c84d2" stroke-width="4.4" fill="none" stroke-linecap="round" stroke-linejoin="round"/>
<path d="M974.7,607.6 L975.1,606.6 L975.5,605.7 L975.9,604.9 L976.3,604.1 L976.8,603.4 L977.4,602.7 L978.1,602.0" stroke="#30a2ea" stroke-width="4.4" fill="none" stroke-linecap="round" stroke-linejoin="round"/>
<path d="M978.1,602.0 L978.9,601.4" stroke="#309ce4" stroke-width="4.4" fill="none" stroke-linecap="round" stroke-linejoin="round"/>
<path d="M978.9,601.4 L979.7,600.8 L980.7,600.2" stroke="#2a9ce4" stroke-width="4.4" fill="none" stroke-linecap="round" stroke-linejoin="round"/>
<line x1="938.4" y1="637.0" x2="956.7" y2="637.0" stroke="#2a2a2a" stroke-width="1.4" stroke-dasharray="1.7 1.1"/>
<path d="M963.2,637.0 L952.7,642.8 L956.7,637.0 L952.7,631.2 Z" fill="#000"/>
<text x="929.2" y="642.5" font-size="16" text-anchor="middle" font-weight="normal" fill="#000" >O</text>
<line x1="1094.5" y1="637.0" x2="1075.5" y2="637.0" stroke="#2a2a2a" stroke-width="1.4" stroke-dasharray="1.7 1.1"/>
<path d="M1069.0,637.0 L1079.5,631.2 L1075.5,637.0 L1079.5,642.8 Z" fill="#000"/>
<text x="1099.2" y="642.5" font-size="16" text-anchor="middle" font-weight="normal" fill="#000" >I</text>
<path d="M1237.5,606.1 L1238.9,606.0 L1240.3,606.0 L1241.6,606.1 L1242.8,606.2 L1244.1,606.3 L1245.3,606.5 L1246.4,606.7 L1247.6,607.0 L1248.7,607.3" stroke="#18def0" stroke-width="4.4" fill="none" stroke-linecap="round" stroke-linejoin="round"/>
<path d="M1248.7,607.3 L1249.8,607.6 L1251.0,607.9 L1252.1,608.3 L1253.2,608.6 L1254.3,609.0 L1255.4,609.4 L1256.6,609.8" stroke="#18d8f0" stroke-width="4.4" fill="none" stroke-linecap="round" stroke-linejoin="round"/>
<path d="M1256.6,609.8 L1257.7,610.2 L1258.8,610.7 L1259.9,611.2 L1261.0,611.7" stroke="#18d2f0" stroke-width="4.4" fill="none" stroke-linecap="round" stroke-linejoin="round"/>
<path d="M1261.0,611.7 L1262.1,612.2 L1263.2,612.8 L1264.2,613.3" stroke="#18ccf0" stroke-width="4.4" fill="none" stroke-linecap="round" stroke-linejoin="round"/>
<path d="M1264.2,613.3 L1265.2,613.9 L1266.2,614.5 L1267.2,615.1 L1268.1,615.7" stroke="#18c6f0" stroke-width="4.4" fill="none" stroke-linecap="round" stroke-linejoin="round"/>
<path d="M1268.1,615.7 L1269.0,616.3 L1269.9,616.9" stroke="#18c0f0" stroke-width="4.4" fill="none" stroke-linecap="round" stroke-linejoin="round"/>
<path d="M1269.9,616.9 L1270.7,617.5" stroke="#1896e4" stroke-width="4.4" fill="none" stroke-linecap="round" stroke-linejoin="round"/>
<path d="M1270.7,617.5 L1271.5,618.2" stroke="#1e6cd8" stroke-width="4.4" fill="none" stroke-linecap="round" stroke-linejoin="round"/>
<path d="M1271.5,618.2 L1272.3,618.8" stroke="#1e42d2" stroke-width="4.4" fill="none" stroke-linecap="round" stroke-linejoin="round"/>
<path d="M1272.3,618.8 L1273.1,619.4" stroke="#2a36c6" stroke-width="4.4" fill="none" stroke-linecap="round" stroke-linejoin="round"/>
<path d="M1273.1,619.4 L1273.8,620.1" stroke="#362aba" stroke-width="4.4" fill="none" stroke-linecap="round" stroke-linejoin="round"/>
<path d="M1273.8,620.1 L1274.5,620.8" stroke="#3c24b4" stroke-width="4.4" fill="none" stroke-linecap="round" stroke-linejoin="round"/>
<path d="M1274.5,620.8 L1275.2,621.5" stroke="#4818a8" stroke-width="4.4" fill="none" stroke-linecap="round" stroke-linejoin="round"/>
<path d="M1275.2,621.5 L1275.9,622.2" stroke="#4e12a2" stroke-width="4.4" fill="none" stroke-linecap="round" stroke-linejoin="round"/>
<path d="M1275.9,622.2 L1276.5,622.9" stroke="#721284" stroke-width="4.4" fill="none" stroke-linecap="round" stroke-linejoin="round"/>
<path d="M1276.5,622.9 L1277.1,623.6" stroke="#961266" stroke-width="4.4" fill="none" stroke-linecap="round" stroke-linejoin="round"/>
<path d="M1277.1,623.6 L1277.6,624.4" stroke="#ba124e" stroke-width="4.4" fill="none" stroke-linecap="round" stroke-linejoin="round"/>
<path d="M1277.6,624.4 L1278.1,625.1 L1278.6,625.9 L1279.0,626.7 L1279.4,627.5" stroke="#de1230" stroke-width="4.4" fill="none" stroke-linecap="round" stroke-linejoin="round"/>
<path d="M1279.4,627.5 L1279.7,628.4 L1280.0,629.3 L1280.3,630.2 L1280.5,631.1 L1280.7,632.0" stroke="#de122a" stroke-width="4.4" fill="none" stroke-linecap="round" stroke-linejoin="round"/>
<path d="M1280.7,632.0 L1280.9,632.9 L1281.1,633.9 L1281.2,634.8 L1281.3,635.7 L1281.4,636.6 L1281.4,637.5 L1281.5,638.3" stroke="#de1224" stroke-width="4.4" fill="none" stroke-linecap="round" stroke-linejoin="round"/>
<path d="M1281.5,638.3 L1281.5,639.1" stroke="#de121e" stroke-width="4.4" fill="none" stroke-linecap="round" stroke-linejoin="round"/>
<path d="M1281.5,639.1 L1281.5,639.9" stroke="#cc1236" stroke-width="4.4" fill="none" stroke-linecap="round" stroke-linejoin="round"/>
<path d="M1281.5,639.9 L1281.5,640.7" stroke="#ba1248" stroke-width="4.4" fill="none" stroke-linecap="round" stroke-linejoin="round"/>
<path d="M1281.5,640.7 L1281.5,641.5" stroke="#a81260" stroke-width="4.4" fill="none" stroke-linecap="round" stroke-linejoin="round"/>
<path d="M1281.5,641.5 L1281.4,642.3" stroke="#961272" stroke-width="4.4" fill="none" stroke-linecap="round" stroke-linejoin="round"/>
<path d="M1281.4,642.3 L1281.4,643.1" stroke="#841284" stroke-width="4.4" fill="none" stroke-linecap="round" stroke-linejoin="round"/>
<path d="M1281.4,643.1 L1281.2,643.9" stroke="#72129c" stroke-width="4.4" fill="none" stroke-linecap="round" stroke-linejoin="round"/>
<path d="M1281.2,643.9 L1281.1,644.7" stroke="#6012ae" stroke-width="4.4" fill="none" stroke-linecap="round" stroke-linejoin="round"/>
<path d="M1281.1,644.7 L1281.0,645.4" stroke="#5412b4" stroke-width="4.4" fill="none" stroke-linecap="round" stroke-linejoin="round"/>
<path d="M1281.0,645.4 L1280.8,646.2" stroke="#4e12ba" stroke-width="4.4" fill="none" stroke-linecap="round" stroke-linejoin="round"/>
<path d="M1280.8,646.2 L1280.6,647.0" stroke="#4218c0" stroke-width="4.4" fill="none" stroke-linecap="round" stroke-linejoin="round"/>
<path d="M1280.6,647.0 L1280.4,647.7" stroke="#3c18c0" stroke-width="4.4" fill="none" stroke-linecap="round" stroke-linejoin="round"/>
<path d="M1280.4,647.7 L1280.2,648.5" stroke="#301ec6" stroke-width="4.4" fill="none" stroke-linecap="round" stroke-linejoin="round"/>
<path d="M1280.2,648.5 L1280.0,649.3" stroke="#2a1ecc" stroke-width="4.4" fill="none" stroke-linecap="round" stroke-linejoin="round"/>
<path d="M1280.0,649.3 L1279.8,650.1" stroke="#1e1ed2" stroke-width="4.4" fill="none" stroke-linecap="round" stroke-linejoin="round"/>
<path d="M1279.8,650.1 L1279.5,650.9" stroke="#1e30d2" stroke-width="4.4" fill="none" stroke-linecap="round" stroke-linejoin="round"/>
<path d="M1279.5,650.9 L1279.3,651.7" stroke="#1e42d8" stroke-width="4.4" fill="none" stroke-linecap="round" stroke-linejoin="round"/>
<path d="M1279.3,651.7 L1279.0,652.5" stroke="#1e4ede" stroke-width="4.4" fill="none" stroke-linecap="round" stroke-linejoin="round"/>
<path d="M1279.0,652.5 L1278.8,653.3" stroke="#1e60de" stroke-width="4.4" fill="none" stroke-linecap="round" stroke-linejoin="round"/>
<path d="M1278.8,653.3 L1278.5,654.1" stroke="#1e72e4" stroke-width="4.4" fill="none" stroke-linecap="round" stroke-linejoin="round"/>
<path d="M1278.5,654.1 L1278.2,654.9" stroke="#1e7eea" stroke-width="4.4" fill="none" stroke-linecap="round" stroke-linejoin="round"/>
<path d="M1278.2,654.9 L1277.8,655.7" stroke="#1890ea" stroke-width="4.4" fill="none" stroke-linecap="round" stroke-linejoin="round"/>
<path d="M1277.8,655.7 L1277.5,656.5 L1277.1,657.3 L1276.6,658.0 L1276.1,658.8" stroke="#18a2f0" stroke-width="4.4" fill="none" stroke-linecap="round" stroke-linejoin="round"/>
<path d="M1276.1,658.8 L1275.5,659.6 L1274.9,660.3 L1274.2,661.0" stroke="#18a8f0" stroke-width="4.4" fill="none" stroke-linecap="round" stroke-linejoin="round"/>
<path d="M1274.2,661.0 L1273.5,661.8 L1272.7,662.5 L1271.9,663.2 L1271.0,664.0" stroke="#18aef0" stroke-width="4.4" fill="none" stroke-linecap="round" stroke-linejoin="round"/>
<path d="M1271.0,664.0 L1270.1,664.7 L1269.1,665.4 L1268.1,666.1 L1267.1,666.8" stroke="#18b4f0" stroke-width="4.4" fill="none" stroke-linecap="round" stroke-linejoin="round"/>
<path d="M1267.1,666.8 L1266.1,667.4 L1265.0,668.1 L1263.9,668.7 L1262.8,669.3" stroke="#18baf0" stroke-width="4.4" fill="none" stroke-linecap="round" stroke-linejoin="round"/>
<path d="M1262.8,669.3 L1261.7,669.9 L1260.5,670.5 L1259.3,671.1 L1258.1,671.7 L1256.8,672.3 L1255.5,672.9 L1254.2,673.4" stroke="#18c0f0" stroke-width="4.4" fill="none" stroke-linecap="round" stroke-linejoin="round"/>
<path d="M1254.2,673.4 L1252.8,674.0 L1251.5,674.5 L1250.1,675.0 L1248.7,675.4 L1247.3,675.8 L1246.0,676.1 L1244.6,676.3 L1243.3,676.5 L1242.0,676.6" stroke="#18baf0" stroke-width="4.4" fill="none" stroke-linecap="round" stroke-linejoin="round"/>
<path d="M1242.0,676.6 L1240.6,676.6 L1239.3,676.6 L1238.0,676.5" stroke="#18b4f0" stroke-width="4.4" fill="none" stroke-linecap="round" stroke-linejoin="round"/>
<path d="M1238.0,676.5 L1236.6,676.4 L1235.3,676.2" stroke="#18aef0" stroke-width="4.4" fill="none" stroke-linecap="round" stroke-linejoin="round"/>
<path d="M1235.3,676.2 L1233.9,676.0 L1232.6,675.7 L1231.3,675.4" stroke="#18a8ea" stroke-width="4.4" fill="none" stroke-linecap="round" stroke-linejoin="round"/>
<path d="M1231.3,675.4 L1230.0,675.1 L1228.7,674.7" stroke="#18a2ea" stroke-width="4.4" fill="none" stroke-linecap="round" stroke-linejoin="round"/>
<path d="M1228.7,674.7 L1227.4,674.4 L1226.2,674.0 L1225.0,673.6" stroke="#189cea" stroke-width="4.4" fill="none" stroke-linecap="round" stroke-linejoin="round"/>
<path d="M1225.0,673.6 L1223.8,673.2 L1222.7,672.8 L1221.5,672.3 L1220.4,671.8 L1219.2,671.3 L1218.1,670.7 L1217.1,670.2 L1216.0,669.6 L1215.0,668.9" stroke="#1896ea" stroke-width="4.4" fill="none" stroke-linecap="round" stroke-linejoin="round"/>
<path d="M1215.0,668.9 L1214.0,668.3 L1213.0,667.6 L1212.1,666.9 L1211.2,666.2 L1210.3,665.5 L1209.5,664.7 L1208.7,664.0 L1207.9,663.2" stroke="#1890ea" stroke-width="4.4" fill="none" stroke-linecap="round" stroke-linejoin="round"/>
<path d="M1207.9,663.2 L1207.1,662.3 L1206.4,661.5 L1205.7,660.6 L1205.1,659.7 L1204.4,658.7" stroke="#188aea" stroke-width="4.4" fill="none" stroke-linecap="round" stroke-linejoin="round"/>
<path d="M1204.4,658.7 L1203.9,657.8 L1203.3,656.9 L1202.8,655.9 L1202.3,654.9 L1201.9,654.0 L1201.5,653.0" stroke="#1884ea" stroke-width="4.4" fill="none" stroke-linecap="round" stroke-linejoin="round"/>
<path d="M1201.5,653.0 L1201.2,652.0" stroke="#187eea" stroke-width="4.4" fill="none" stroke-linecap="round" stroke-linejoin="round"/>
<path d="M1201.2,652.0 L1200.9,651.0 L1200.6,650.0 L1200.4,649.0" stroke="#1884ea" stroke-width="4.4" fill="none" stroke-linecap="round" stroke-linejoin="round"/>
<path d="M1200.4,649.0 L1200.3,648.0 L1200.2,647.0" stroke="#188aea" stroke-width="4.4" fill="none" stroke-linecap="round" stroke-linejoin="round"/>
<path d="M1200.2,647.0 L1200.1,645.9 L1200.0,644.9 L1200.0,643.8" stroke="#1890ea" stroke-width="4.4" fill="none" stroke-linecap="round" stroke-linejoin="round"/>
<path d="M1200.0,643.8 L1200.0,642.7 L1200.0,641.6" stroke="#1896f0" stroke-width="4.4" fill="none" stroke-linecap="round" stroke-linejoin="round"/>
<path d="M1200.0,641.6 L1200.0,640.5 L1200.1,639.4 L1200.1,638.3" stroke="#189cf0" stroke-width="4.4" fill="none" stroke-linecap="round" stroke-linejoin="round"/>
<path d="M1200.1,638.3 L1200.2,637.1 L1200.2,635.9" stroke="#18a2f0" stroke-width="4.4" fill="none" stroke-linecap="round" stroke-linejoin="round"/>
<path d="M1200.2,635.9 L1200.3,634.7" stroke="#18a8f0" stroke-width="4.4" fill="none" stroke-linecap="round" stroke-linejoin="round"/>
<path d="M1200.3,634.7 L1200.4,633.4" stroke="#18aeea" stroke-width="4.4" fill="none" stroke-linecap="round" stroke-linejoin="round"/>
<path d="M1200.4,633.4 L1200.5,632.2 L1200.6,630.9" stroke="#18b4ea" stroke-width="4.4" fill="none" stroke-linecap="round" stroke-linejoin="round"/>
<path d="M1200.6,630.9 L1200.8,629.6" stroke="#18baea" stroke-width="4.4" fill="none" stroke-linecap="round" stroke-linejoin="round"/>
<path d="M1200.8,629.6 L1201.0,628.3" stroke="#18c0ea" stroke-width="4.4" fill="none" stroke-linecap="round" stroke-linejoin="round"/>
<path d="M1201.0,628.3 L1201.2,627.1" stroke="#18c6e4" stroke-width="4.4" fill="none" stroke-linecap="round" stroke-linejoin="round"/>
<path d="M1201.2,627.1 L1201.5,625.8 L1201.8,624.7" stroke="#18cce4" stroke-width="4.4" fill="none" stroke-linecap="round" stroke-linejoin="round"/>
<path d="M1201.8,624.7 L1202.1,623.5" stroke="#18d2e4" stroke-width="4.4" fill="none" stroke-linecap="round" stroke-linejoin="round"/>
<path d="M1202.1,623.5 L1202.5,622.5" stroke="#18d8e4" stroke-width="4.4" fill="none" stroke-linecap="round" stroke-linejoin="round"/>
<path d="M1202.5,622.5 L1203.0,621.5" stroke="#18dee4" stroke-width="4.4" fill="none" stroke-linecap="round" stroke-linejoin="round"/>
<path d="M1203.0,621.5 L1203.5,620.6" stroke="#18dede" stroke-width="4.4" fill="none" stroke-linecap="round" stroke-linejoin="round"/>
<path d="M1203.5,620.6 L1204.0,619.7 L1204.6,618.9 L1205.2,618.1 L1205.8,617.4 L1206.5,616.7 L1207.2,616.0" stroke="#18dee4" stroke-width="4.4" fill="none" stroke-linecap="round" stroke-linejoin="round"/>
<path d="M1207.2,616.0 L1208.0,615.4 L1208.8,614.8 L1209.7,614.2 L1210.7,613.6 L1211.7,613.0" stroke="#18deea" stroke-width="4.4" fill="none" stroke-linecap="round" stroke-linejoin="round"/>
<path d="M1211.7,613.0 L1212.8,612.5 L1214.0,611.9 L1215.3,611.3 L1216.8,610.8 L1218.3,610.2 L1220.0,609.7 L1221.7,609.2 L1223.5,608.7 L1225.4,608.2 L1227.2,607.8 L1229.1,607.4 L1230.9,607.0 L1232.7,606.7 L1234.4,606.4 L1236.0,606.2 L1237.5,606.1" stroke="#18def0" stroke-width="4.4" fill="none" stroke-linecap="round" stroke-linejoin="round"/>
<line x1="1236.0" y1="577.0" x2="1236.0" y2="592.5" stroke="#2a2a2a" stroke-width="1.4" stroke-dasharray="1.7 1.1"/>
<path d="M1236.0,599.0 L1230.2,588.5 L1236.0,592.5 L1241.8,588.5 Z" fill="#000"/>
<text x="1236" y="575.8" font-size="16" text-anchor="middle" font-weight="normal" fill="#000" >I</text>
<line x1="1236.0" y1="703.0" x2="1236.0" y2="690.0" stroke="#2a2a2a" stroke-width="1.4" stroke-dasharray="1.7 1.1"/>
<path d="M1236.0,683.5 L1241.8,694.0 L1236.0,690.0 L1230.2,694.0 Z" fill="#000"/>
<text x="1240" y="719" font-size="16" text-anchor="middle" font-weight="normal" fill="#000" >O</text>
<defs>
<filter id="bl12" x="-30%" y="-30%" width="160%" height="160%"><feGaussianBlur stdDeviation="1.2"/></filter>
<filter id="bl15" x="-30%" y="-30%" width="160%" height="160%"><feGaussianBlur stdDeviation="1.5"/></filter>
<filter id="bl20" x="-30%" y="-30%" width="160%" height="160%"><feGaussianBlur stdDeviation="2.0"/></filter>
<filter id="bl25" x="-30%" y="-30%" width="160%" height="160%"><feGaussianBlur stdDeviation="2.5"/></filter>
<filter id="bl30" x="-30%" y="-30%" width="160%" height="160%"><feGaussianBlur stdDeviation="3.0"/></filter>
<filter id="bl40" x="-30%" y="-30%" width="160%" height="160%"><feGaussianBlur stdDeviation="4.0"/></filter>
</defs>
<clipPath id="cpsv1"><path d="M101.2,175.6 C111.8,175.6 125.9,175.6 136.6,175.6 C139.3,180.8 142.4,182.7 145.6,192.9 C148.8,203.0 147.3,197.0 147.3,209.3 C147.3,221.7 145.9,220.7 145.6,234.0 C145.4,247.4 147.2,242.9 146.4,253.8 C145.7,264.7 143.9,260.4 143.2,270.3 C142.4,280.1 141.3,278.3 144.0,286.7 C146.7,295.1 145.3,294.6 152.2,298.3 C159.1,302.0 155.2,300.1 167.0,299.1 C178.9,298.1 174.4,298.7 191.7,295.0 C209.0,291.3 203.9,291.7 224.7,286.7 C245.4,281.8 250.0,281.0 260.9,278.5 C260.9,289.4 260.9,303.9 260.9,314.7 C250.0,316.7 245.4,316.9 224.7,321.3 C203.9,325.8 209.5,326.6 191.7,329.5 C173.9,332.5 180.2,332.2 165.4,331.2 C150.6,330.2 152.7,329.7 142.3,326.2 C132.0,322.8 136.7,320.2 130.8,319.7 C124.9,319.2 131.5,324.1 122.6,324.6 C113.7,325.1 112.5,322.8 101.2,321.3 C89.8,319.8 89.6,320.2 84.7,319.7 C84.7,312.3 84.7,302.4 84.7,295.0 C88.7,295.0 91.0,296.0 97.9,295.0 C104.8,294.0 105.8,299.1 107.8,291.7 C109.7,284.3 105.9,283.6 104.5,270.3 C103.0,256.9 104.3,265.5 102.8,247.2 C101.3,228.9 100.5,227.1 99.5,209.3 C98.5,191.6 99.0,198.1 99.5,187.9 C100.0,177.8 100.7,179.3 101.2,175.6 Z"/></clipPath>
<g clip-path="url(#cpsv1)">
<path d="M101.2,175.6 C111.8,175.6 125.9,175.6 136.6,175.6 C139.3,180.8 142.4,182.7 145.6,192.9 C148.8,203.0 147.3,197.0 147.3,209.3 C147.3,221.7 145.9,220.7 145.6,234.0 C145.4,247.4 147.2,242.9 146.4,253.8 C145.7,264.7 143.9,260.4 143.2,270.3 C142.4,280.1 141.3,278.3 144.0,286.7 C146.7,295.1 145.3,294.6 152.2,298.3 C159.1,302.0 155.2,300.1 167.0,299.1 C178.9,298.1 174.4,298.7 191.7,295.0 C209.0,291.3 203.9,291.7 224.7,286.7 C245.4,281.8 250.0,281.0 260.9,278.5 C260.9,289.4 260.9,303.9 260.9,314.7 C250.0,316.7 245.4,316.9 224.7,321.3 C203.9,325.8 209.5,326.6 191.7,329.5 C173.9,332.5 180.2,332.2 165.4,331.2 C150.6,330.2 152.7,329.7 142.3,326.2 C132.0,322.8 136.7,320.2 130.8,319.7 C124.9,319.2 131.5,324.1 122.6,324.6 C113.7,325.1 112.5,322.8 101.2,321.3 C89.8,319.8 89.6,320.2 84.7,319.7 C84.7,312.3 84.7,302.4 84.7,295.0 C88.7,295.0 91.0,296.0 97.9,295.0 C104.8,294.0 105.8,299.1 107.8,291.7 C109.7,284.3 105.9,283.6 104.5,270.3 C103.0,256.9 104.3,265.5 102.8,247.2 C101.3,228.9 100.5,227.1 99.5,209.3 C98.5,191.6 99.0,198.1 99.5,187.9 C100.0,177.8 100.7,179.3 101.2,175.6 Z" fill="#1eb4d2"/>
<g filter="url(#bl25)">
<ellipse cx="119.3" cy="204.4" rx="18.1" ry="28.0" fill="#2ac4d8"/>
<ellipse cx="130.8" cy="186.3" rx="7.4" ry="11.5" fill="#2848d0"/>
<ellipse cx="125.9" cy="179.7" rx="4.9" ry="4.9" fill="#5a30c0"/>
<ellipse cx="114.3" cy="248.9" rx="4.9" ry="4.1" fill="#3060d8"/>
<ellipse cx="104.5" cy="220.9" rx="3.3" ry="9.9" fill="#1a90c0"/>
<ellipse cx="120.9" cy="280.1" rx="16.5" ry="18.9" fill="#e02828"/>
<ellipse cx="130.0" cy="281.8" rx="4.9" ry="9.1" fill="#f8f040"/>
<ellipse cx="124.2" cy="270.3" rx="4.1" ry="4.1" fill="#ff9a20"/>
<ellipse cx="109.4" cy="286.7" rx="5.8" ry="8.2" fill="#4a20b0"/>
<ellipse cx="114.3" cy="293.3" rx="6.6" ry="4.1" fill="#2040c8"/>
<ellipse cx="139.0" cy="270.3" rx="4.1" ry="13.2" fill="#1aa8c8"/>
<ellipse cx="101.2" cy="306.5" rx="14.8" ry="9.9" fill="#1ab8d0"/>
<ellipse cx="99.5" cy="308.1" rx="4.1" ry="4.1" fill="#3050d0"/>
<ellipse cx="129.2" cy="308.1" rx="6.6" ry="6.6" fill="#2a70d0"/>
<ellipse cx="155.5" cy="313.1" rx="9.9" ry="14.8" fill="#6a1aa8"/>
<ellipse cx="145.6" cy="308.1" rx="4.9" ry="9.9" fill="#3a40c8"/>
<ellipse cx="208.2" cy="303.2" rx="46.1" ry="14.8" fill="#22d8ec"/>
<ellipse cx="216.4" cy="299.9" rx="24.7" ry="5.8" fill="#48eaf4"/>
<ellipse cx="224.7" cy="293.3" rx="4.9" ry="4.1" fill="#2a60d8"/>
<ellipse cx="244.4" cy="291.7" rx="4.1" ry="3.3" fill="#2a80e0"/>
<ellipse cx="191.7" cy="308.1" rx="4.9" ry="3.3" fill="#2a90e0"/>
</g>
<path d="M101.2,175.6 C111.8,175.6 125.9,175.6 136.6,175.6 C139.3,180.8 142.4,182.7 145.6,192.9 C148.8,203.0 147.3,197.0 147.3,209.3 C147.3,221.7 145.9,220.7 145.6,234.0 C145.4,247.4 147.2,242.9 146.4,253.8 C145.7,264.7 143.9,260.4 143.2,270.3 C142.4,280.1 141.3,278.3 144.0,286.7 C146.7,295.1 145.3,294.6 152.2,298.3 C159.1,302.0 155.2,300.1 167.0,299.1 C178.9,298.1 174.4,298.7 191.7,295.0 C209.0,291.3 203.9,291.7 224.7,286.7 C245.4,281.8 250.0,281.0 260.9,278.5 C260.9,289.4 260.9,303.9 260.9,314.7 C250.0,316.7 245.4,316.9 224.7,321.3 C203.9,325.8 209.5,326.6 191.7,329.5 C173.9,332.5 180.2,332.2 165.4,331.2 C150.6,330.2 152.7,329.7 142.3,326.2 C132.0,322.8 136.7,320.2 130.8,319.7 C124.9,319.2 131.5,324.1 122.6,324.6 C113.7,325.1 112.5,322.8 101.2,321.3 C89.8,319.8 89.6,320.2 84.7,319.7 C84.7,312.3 84.7,302.4 84.7,295.0 C88.7,295.0 91.0,296.0 97.9,295.0 C104.8,294.0 105.8,299.1 107.8,291.7 C109.7,284.3 105.9,283.6 104.5,270.3 C103.0,256.9 104.3,265.5 102.8,247.2 C101.3,228.9 100.5,227.1 99.5,209.3 C98.5,191.6 99.0,198.1 99.5,187.9 C100.0,177.8 100.7,179.3 101.2,175.6 Z" fill="none" stroke="#0a4868" stroke-opacity="0.32" stroke-width="6" filter="url(#bl30)"/>
</g>
<line x1="97" y1="259.1" x2="157.2" y2="259.1" stroke="#000" stroke-width="3" stroke-dasharray="6 3.2"/>
<text x="172" y="266" font-size="15.5" text-anchor="middle" font-weight="normal" fill="#000" >PV</text>
<text x="169" y="285" font-size="15.5" text-anchor="middle" font-weight="normal" fill="#000" >PA</text>
<line x1="167.4" y1="288.4" x2="167.4" y2="334.5" stroke="#000" stroke-width="3" stroke-dasharray="6 3.2"/>
<line x1="80.0" y1="236.0" x2="92.8" y2="248.8" stroke="#2a2a2a" stroke-width="1.4" stroke-dasharray="1.7 1.1"/>
<path d="M97.0,253.0 L86.6,250.0 L92.8,248.8 L94.0,242.6 Z" fill="#000"/>
<text x="77.6" y="235.7" font-size="15.5" text-anchor="middle" font-weight="normal" fill="#000" >O</text>
<line x1="161.0" y1="237.0" x2="153.3" y2="248.8" stroke="#2a2a2a" stroke-width="1.4" stroke-dasharray="1.7 1.1"/>
<path d="M150.0,253.8 L150.9,243.0 L153.3,248.8 L159.6,248.7 Z" fill="#000"/>
<text x="164.5" y="236.5" font-size="15.5" text-anchor="middle" font-weight="normal" fill="#000" >I</text>
<line x1="189.0" y1="289.0" x2="176.1" y2="293.7" stroke="#2a2a2a" stroke-width="1.4" stroke-dasharray="1.7 1.1"/>
<path d="M170.5,295.8 L177.6,287.6 L176.1,293.7 L181.2,297.4 Z" fill="#000"/>
<text x="192.5" y="292.5" font-size="15.5" text-anchor="middle" font-weight="normal" fill="#000" >I</text>
<line x1="188.0" y1="339.0" x2="177.8" y2="336.1" stroke="#2a2a2a" stroke-width="1.4" stroke-dasharray="1.7 1.1"/>
<path d="M172.0,334.5 L182.6,332.1 L177.8,336.1 L179.7,342.1 Z" fill="#000"/>
<text x="196.2" y="346.8" font-size="15.5" text-anchor="middle" font-weight="normal" fill="#000" >O</text>
<clipPath id="cpsv2"><path d="M84.6,361.5 C98.7,361.5 117.4,361.5 131.4,361.5 C132.4,365.8 133.2,364.9 134.6,375.8 C136.0,386.8 136.4,385.2 136.2,398.0 C136.0,410.9 134.5,406.3 133.8,418.6 C133.1,431.0 135.2,428.8 133.8,439.3 C132.4,449.7 132.2,446.4 129.1,453.6 C126.0,460.7 124.5,458.3 123.5,463.1 C122.6,467.8 122.3,466.3 125.9,469.4 C129.5,472.5 127.8,472.4 135.4,473.4 C143.0,474.3 139.4,473.8 151.3,472.6 C163.2,471.4 158.4,469.9 175.1,469.4 C191.7,468.9 183.5,470.8 206.8,471.0 C230.1,471.2 239.0,470.5 252.8,470.2 C252.8,486.2 252.8,507.4 252.8,523.4 C243.8,522.4 241.2,521.6 222.7,520.2 C204.1,518.8 210.0,518.6 190.9,518.6 C171.9,518.6 177.3,520.4 159.2,520.2 C141.1,520.0 143.5,518.8 130.6,517.8 C117.8,516.9 125.9,517.7 116.4,517.0 C106.8,516.3 111.5,515.2 98.9,515.4 C86.3,515.7 81.7,517.1 74.3,517.8 C74.3,503.3 74.3,483.9 74.3,469.4 C79.8,468.9 86.6,469.7 92.6,467.8 C98.5,465.9 94.6,471.2 94.1,463.1 C93.7,455.0 92.9,454.2 91.0,440.9 C89.1,427.5 90.7,433.4 87.8,418.6 C84.9,403.9 83.1,404.5 81.5,391.7 C79.8,378.8 81.3,384.8 82.2,375.8 C83.2,366.8 83.9,365.8 84.6,361.5 Z"/></clipPath>
<g clip-path="url(#cpsv2)">
<path d="M84.6,361.5 C98.7,361.5 117.4,361.5 131.4,361.5 C132.4,365.8 133.2,364.9 134.6,375.8 C136.0,386.8 136.4,385.2 136.2,398.0 C136.0,410.9 134.5,406.3 133.8,418.6 C133.1,431.0 135.2,428.8 133.8,439.3 C132.4,449.7 132.2,446.4 129.1,453.6 C126.0,460.7 124.5,458.3 123.5,463.1 C122.6,467.8 122.3,466.3 125.9,469.4 C129.5,472.5 127.8,472.4 135.4,473.4 C143.0,474.3 139.4,473.8 151.3,472.6 C163.2,471.4 158.4,469.9 175.1,469.4 C191.7,468.9 183.5,470.8 206.8,471.0 C230.1,471.2 239.0,470.5 252.8,470.2 C252.8,486.2 252.8,507.4 252.8,523.4 C243.8,522.4 241.2,521.6 222.7,520.2 C204.1,518.8 210.0,518.6 190.9,518.6 C171.9,518.6 177.3,520.4 159.2,520.2 C141.1,520.0 143.5,518.8 130.6,517.8 C117.8,516.9 125.9,517.7 116.4,517.0 C106.8,516.3 111.5,515.2 98.9,515.4 C86.3,515.7 81.7,517.1 74.3,517.8 C74.3,503.3 74.3,483.9 74.3,469.4 C79.8,468.9 86.6,469.7 92.6,467.8 C98.5,465.9 94.6,471.2 94.1,463.1 C93.7,455.0 92.9,454.2 91.0,440.9 C89.1,427.5 90.7,433.4 87.8,418.6 C84.9,403.9 83.1,404.5 81.5,391.7 C79.8,378.8 81.3,384.8 82.2,375.8 C83.2,366.8 83.9,365.8 84.6,361.5 Z" fill="#1c9ec4"/>
<g filter="url(#bl25)">
<ellipse cx="108.4" cy="415.5" rx="25.4" ry="52.4" fill="#2a9ccc"/>
<ellipse cx="92.6" cy="379.0" rx="15.1" ry="16.7" fill="#3050c8"/>
<ellipse cx="97.3" cy="379.0" rx="7.9" ry="7.9" fill="#5a2aa8"/>
<ellipse cx="81.5" cy="399.6" rx="4.0" ry="23.8" fill="#2860c0"/>
<ellipse cx="114.8" cy="402.8" rx="6.3" ry="25.4" fill="#30b4d8"/>
<ellipse cx="114.8" cy="480.5" rx="15.1" ry="11.9" fill="#e02828"/>
<ellipse cx="94.1" cy="470.2" rx="5.1" ry="9.5" fill="#f8e040" transform="rotate(-35 94.1 470.2)"/>
<ellipse cx="121.9" cy="470.2" rx="2.5" ry="8.7" fill="#f0d030"/>
<ellipse cx="130.6" cy="477.4" rx="4.8" ry="7.1" fill="#d82838"/>
<ellipse cx="109.2" cy="488.5" rx="4.8" ry="5.6" fill="#4020b0"/>
<ellipse cx="132.2" cy="477.4" rx="5.6" ry="4.0" fill="#3050d0"/>
<ellipse cx="116.4" cy="463.1" rx="4.0" ry="4.0" fill="#3050d0"/>
<ellipse cx="86.2" cy="494.8" rx="17.5" ry="22.2" fill="#28bcd8"/>
<ellipse cx="91.0" cy="513.9" rx="14.3" ry="4.0" fill="#1a70b0"/>
<ellipse cx="111.6" cy="498.0" rx="2.9" ry="20.6" fill="#1a88c0"/>
<ellipse cx="183.0" cy="491.6" rx="73.0" ry="19.0" fill="#30d0ea"/>
<ellipse cx="190.9" cy="488.5" rx="57.1" ry="4.4" fill="#4ae0f0"/>
<ellipse cx="175.1" cy="518.6" rx="82.5" ry="4.0" fill="#1aa0c4"/>
</g>
<path d="M84.6,361.5 C98.7,361.5 117.4,361.5 131.4,361.5 C132.4,365.8 133.2,364.9 134.6,375.8 C136.0,386.8 136.4,385.2 136.2,398.0 C136.0,410.9 134.5,406.3 133.8,418.6 C133.1,431.0 135.2,428.8 133.8,439.3 C132.4,449.7 132.2,446.4 129.1,453.6 C126.0,460.7 124.5,458.3 123.5,463.1 C122.6,467.8 122.3,466.3 125.9,469.4 C129.5,472.5 127.8,472.4 135.4,473.4 C143.0,474.3 139.4,473.8 151.3,472.6 C163.2,471.4 158.4,469.9 175.1,469.4 C191.7,468.9 183.5,470.8 206.8,471.0 C230.1,471.2 239.0,470.5 252.8,470.2 C252.8,486.2 252.8,507.4 252.8,523.4 C243.8,522.4 241.2,521.6 222.7,520.2 C204.1,518.8 210.0,518.6 190.9,518.6 C171.9,518.6 177.3,520.4 159.2,520.2 C141.1,520.0 143.5,518.8 130.6,517.8 C117.8,516.9 125.9,517.7 116.4,517.0 C106.8,516.3 111.5,515.2 98.9,515.4 C86.3,515.7 81.7,517.1 74.3,517.8 C74.3,503.3 74.3,483.9 74.3,469.4 C79.8,468.9 86.6,469.7 92.6,467.8 C98.5,465.9 94.6,471.2 94.1,463.1 C93.7,455.0 92.9,454.2 91.0,440.9 C89.1,427.5 90.7,433.4 87.8,418.6 C84.9,403.9 83.1,404.5 81.5,391.7 C79.8,378.8 81.3,384.8 82.2,375.8 C83.2,366.8 83.9,365.8 84.6,361.5 Z" fill="none" stroke="#0a4868" stroke-opacity="0.32" stroke-width="6" filter="url(#bl30)"/>
</g>
<line x1="81.5" y1="434.5" x2="140.2" y2="434.5" stroke="#000" stroke-width="3" stroke-dasharray="6 3.2"/>
<text x="156" y="439.3" font-size="15.5" text-anchor="middle" font-weight="normal" fill="#000" >PV</text>
<text x="162" y="463.1" font-size="15.5" text-anchor="middle" font-weight="normal" fill="#000" >PA</text>
<line x1="160" y1="466.2" x2="160" y2="525" stroke="#000" stroke-width="3" stroke-dasharray="6 3.2"/>
<clipPath id="cpsv3"><path d="M93.4,550.0 C105.5,550.0 121.7,550.0 133.8,550.0 C134.8,553.5 134.1,553.7 137.0,561.5 C139.8,569.2 139.5,565.3 143.3,575.7 C147.1,586.2 147.5,585.9 149.7,596.4 C151.8,606.8 151.4,602.6 150.5,610.6 C149.5,618.7 150.1,614.8 146.5,623.3 C142.9,631.9 142.4,629.7 138.6,639.2 C134.8,648.7 134.3,646.0 133.8,655.1 C133.3,664.1 133.2,663.2 137.0,669.4 C140.8,675.5 138.9,675.7 146.5,675.7 C154.1,675.7 149.1,671.7 162.4,669.4 C175.7,667.0 172.9,669.2 190.9,667.8 C209.0,666.3 207.4,666.0 222.7,664.6 C237.9,663.2 236.0,663.5 241.7,663.0 C241.7,679.7 241.7,701.9 241.7,718.5 C231.2,719.5 226.8,719.8 206.8,721.7 C186.8,723.6 191.7,725.4 175.1,724.9 C158.4,724.4 165.6,722.5 151.3,720.1 C137.0,717.8 141.8,716.0 127.5,717.0 C113.2,717.9 116.0,720.5 103.7,723.3 C91.3,726.2 91.5,725.5 86.2,726.5 C86.2,709.8 86.2,687.6 86.2,670.9 C88.6,670.0 93.0,677.3 94.1,667.8 C95.3,658.2 91.6,657.3 90.2,639.2 C88.8,621.1 89.6,626.5 89.4,607.5 C89.2,588.4 88.4,591.9 89.4,575.7 C90.3,559.6 91.4,561.2 92.6,553.5 C93.8,545.8 93.1,551.1 93.4,550.0 Z"/></clipPath>
<g clip-path="url(#cpsv3)">
<path d="M93.4,550.0 C105.5,550.0 121.7,550.0 133.8,550.0 C134.8,553.5 134.1,553.7 137.0,561.5 C139.8,569.2 139.5,565.3 143.3,575.7 C147.1,586.2 147.5,585.9 149.7,596.4 C151.8,606.8 151.4,602.6 150.5,610.6 C149.5,618.7 150.1,614.8 146.5,623.3 C142.9,631.9 142.4,629.7 138.6,639.2 C134.8,648.7 134.3,646.0 133.8,655.1 C133.3,664.1 133.2,663.2 137.0,669.4 C140.8,675.5 138.9,675.7 146.5,675.7 C154.1,675.7 149.1,671.7 162.4,669.4 C175.7,667.0 172.9,669.2 190.9,667.8 C209.0,666.3 207.4,666.0 222.7,664.6 C237.9,663.2 236.0,663.5 241.7,663.0 C241.7,679.7 241.7,701.9 241.7,718.5 C231.2,719.5 226.8,719.8 206.8,721.7 C186.8,723.6 191.7,725.4 175.1,724.9 C158.4,724.4 165.6,722.5 151.3,720.1 C137.0,717.8 141.8,716.0 127.5,717.0 C113.2,717.9 116.0,720.5 103.7,723.3 C91.3,726.2 91.5,725.5 86.2,726.5 C86.2,709.8 86.2,687.6 86.2,670.9 C88.6,670.0 93.0,677.3 94.1,667.8 C95.3,658.2 91.6,657.3 90.2,639.2 C88.8,621.1 89.6,626.5 89.4,607.5 C89.2,588.4 88.4,591.9 89.4,575.7 C90.3,559.6 91.4,561.2 92.6,553.5 C93.8,545.8 93.1,551.1 93.4,550.0 Z" fill="#20b0c8"/>
<g filter="url(#bl25)">
<ellipse cx="118.0" cy="610.6" rx="20.6" ry="46.0" fill="#30c8e0"/>
<ellipse cx="118.0" cy="553.5" rx="13.5" ry="6.0" fill="#e04888"/>
<ellipse cx="102.1" cy="563.0" rx="9.5" ry="7.9" fill="#3060d8"/>
<ellipse cx="127.5" cy="583.7" rx="11.1" ry="4.8" fill="#3070d8"/>
<ellipse cx="103.7" cy="596.4" rx="6.3" ry="4.8" fill="#3080d8"/>
<ellipse cx="148.1" cy="612.2" rx="3.2" ry="11.1" fill="#2840d0"/>
<ellipse cx="105.3" cy="674.1" rx="14.3" ry="6.0" fill="#e02828" transform="rotate(15 105.3 674.1)"/>
<ellipse cx="121.9" cy="696.3" rx="6.3" ry="21.4" fill="#e02828" transform="rotate(8 121.9 696.3)"/>
<ellipse cx="103.7" cy="683.6" rx="11.9" ry="11.1" fill="#3030c0"/>
<ellipse cx="91.0" cy="678.9" rx="4.8" ry="6.3" fill="#a02060"/>
<ellipse cx="129.1" cy="669.4" rx="6.3" ry="9.5" fill="#3050d0"/>
<ellipse cx="98.9" cy="712.2" rx="17.5" ry="14.3" fill="#30c8e0"/>
<ellipse cx="133.8" cy="694.7" rx="6.3" ry="22.2" fill="#2a80d0"/>
<ellipse cx="135.4" cy="694.7" rx="1.9" ry="9.5" fill="#40d0f0"/>
<ellipse cx="195.7" cy="694.7" rx="52.4" ry="28.6" fill="#20b4c4"/>
<ellipse cx="198.9" cy="686.8" rx="31.7" ry="9.5" fill="#28c0cc"/>
</g>
<path d="M93.4,550.0 C105.5,550.0 121.7,550.0 133.8,550.0 C134.8,553.5 134.1,553.7 137.0,561.5 C139.8,569.2 139.5,565.3 143.3,575.7 C147.1,586.2 147.5,585.9 149.7,596.4 C151.8,606.8 151.4,602.6 150.5,610.6 C149.5,618.7 150.1,614.8 146.5,623.3 C142.9,631.9 142.4,629.7 138.6,639.2 C134.8,648.7 134.3,646.0 133.8,655.1 C133.3,664.1 133.2,663.2 137.0,669.4 C140.8,675.5 138.9,675.7 146.5,675.7 C154.1,675.7 149.1,671.7 162.4,669.4 C175.7,667.0 172.9,669.2 190.9,667.8 C209.0,666.3 207.4,666.0 222.7,664.6 C237.9,663.2 236.0,663.5 241.7,663.0 C241.7,679.7 241.7,701.9 241.7,718.5 C231.2,719.5 226.8,719.8 206.8,721.7 C186.8,723.6 191.7,725.4 175.1,724.9 C158.4,724.4 165.6,722.5 151.3,720.1 C137.0,717.8 141.8,716.0 127.5,717.0 C113.2,717.9 116.0,720.5 103.7,723.3 C91.3,726.2 91.5,725.5 86.2,726.5 C86.2,709.8 86.2,687.6 86.2,670.9 C88.6,670.0 93.0,677.3 94.1,667.8 C95.3,658.2 91.6,657.3 90.2,639.2 C88.8,621.1 89.6,626.5 89.4,607.5 C89.2,588.4 88.4,591.9 89.4,575.7 C90.3,559.6 91.4,561.2 92.6,553.5 C93.8,545.8 93.1,551.1 93.4,550.0 Z" fill="none" stroke="#0a4868" stroke-opacity="0.32" stroke-width="6" filter="url(#bl30)"/>
</g>
<line x1="88.6" y1="633.2" x2="147.3" y2="633.2" stroke="#000" stroke-width="3" stroke-dasharray="6 3.2"/>
<text x="161.6" y="637.6" font-size="15.5" text-anchor="middle" font-weight="normal" fill="#000" >PV</text>
<text x="163.2" y="663.8" font-size="15.5" text-anchor="middle" font-weight="normal" fill="#000" >PA</text>
<line x1="164" y1="666.2" x2="164" y2="724.9" stroke="#000" stroke-width="3" stroke-dasharray="6 3.2"/>
<clipPath id="cpsv4"><path d="M777.3,174.3 C785.0,174.3 795.1,174.3 802.7,174.3 C799.4,178.1 798.8,179.8 791.6,187.0 C784.5,194.1 784.6,191.9 778.9,198.1 C773.2,204.3 775.9,200.0 772.6,207.6 C769.2,215.2 769.7,213.0 767.8,223.5 C765.9,233.9 768.1,233.0 766.2,242.5 C764.3,252.0 763.6,249.0 761.5,255.2 C759.3,261.4 759.1,258.4 759.1,263.1 C759.1,267.9 757.4,266.3 761.5,271.1 C765.5,275.8 763.1,274.2 772.6,279.0 C782.1,283.8 779.9,283.6 793.2,286.9 C806.5,290.3 798.0,289.6 817.0,290.1 C836.1,290.6 838.8,290.0 856.7,288.5 C874.5,287.1 870.6,286.3 876.5,285.4 C876.8,292.5 877.1,302.0 877.3,309.2 C866.4,310.1 858.9,310.4 840.8,312.3 C822.7,314.2 830.3,316.0 817.0,315.5 C803.7,315.0 808.3,314.6 796.4,310.7 C784.5,306.9 787.8,306.6 777.3,302.8 C766.9,299.0 771.9,300.0 761.5,298.1 C751.0,296.1 752.0,295.0 742.4,296.5 C732.9,297.9 737.6,298.5 729.7,302.8 C721.9,307.1 720.3,308.4 716.2,310.7 C716.5,304.1 716.8,295.2 717.0,288.5 C720.8,286.6 723.5,287.4 729.7,282.2 C735.9,276.9 733.9,279.2 737.7,271.1 C741.5,263.0 740.5,265.7 742.4,255.2 C744.3,244.7 742.6,247.1 744.0,236.2 C745.4,225.2 744.3,228.7 747.2,218.7 C750.0,208.7 748.3,212.4 753.5,202.8 C758.8,193.3 757.5,195.5 764.6,187.0 C771.8,178.4 773.5,178.1 777.3,174.3 Z"/></clipPath>
<g clip-path="url(#cpsv4)">
<path d="M777.3,174.3 C785.0,174.3 795.1,174.3 802.7,174.3 C799.4,178.1 798.8,179.8 791.6,187.0 C784.5,194.1 784.6,191.9 778.9,198.1 C773.2,204.3 775.9,200.0 772.6,207.6 C769.2,215.2 769.7,213.0 767.8,223.5 C765.9,233.9 768.1,233.0 766.2,242.5 C764.3,252.0 763.6,249.0 761.5,255.2 C759.3,261.4 759.1,258.4 759.1,263.1 C759.1,267.9 757.4,266.3 761.5,271.1 C765.5,275.8 763.1,274.2 772.6,279.0 C782.1,283.8 779.9,283.6 793.2,286.9 C806.5,290.3 798.0,289.6 817.0,290.1 C836.1,290.6 838.8,290.0 856.7,288.5 C874.5,287.1 870.6,286.3 876.5,285.4 C876.8,292.5 877.1,302.0 877.3,309.2 C866.4,310.1 858.9,310.4 840.8,312.3 C822.7,314.2 830.3,316.0 817.0,315.5 C803.7,315.0 808.3,314.6 796.4,310.7 C784.5,306.9 787.8,306.6 777.3,302.8 C766.9,299.0 771.9,300.0 761.5,298.1 C751.0,296.1 752.0,295.0 742.4,296.5 C732.9,297.9 737.6,298.5 729.7,302.8 C721.9,307.1 720.3,308.4 716.2,310.7 C716.5,304.1 716.8,295.2 717.0,288.5 C720.8,286.6 723.5,287.4 729.7,282.2 C735.9,276.9 733.9,279.2 737.7,271.1 C741.5,263.0 740.5,265.7 742.4,255.2 C744.3,244.7 742.6,247.1 744.0,236.2 C745.4,225.2 744.3,228.7 747.2,218.7 C750.0,208.7 748.3,212.4 753.5,202.8 C758.8,193.3 757.5,195.5 764.6,187.0 C771.8,178.4 773.5,178.1 777.3,174.3 Z" fill="#1eb0d2"/>
<g filter="url(#bl25)">
<ellipse cx="761.5" cy="207.6" rx="9.5" ry="23.8" fill="#1ea8c4" transform="rotate(-30 761.5 207.6)"/>
<ellipse cx="764.6" cy="194.9" rx="3.2" ry="9.5" fill="#30c0d8" transform="rotate(-30 764.6 194.9)"/>
<ellipse cx="756.7" cy="236.2" rx="6.3" ry="9.5" fill="#2a90c8"/>
<ellipse cx="748.8" cy="263.1" rx="6.7" ry="10.3" fill="#e02848"/>
<ellipse cx="754.3" cy="256.8" rx="3.5" ry="6.3" fill="#5030c0"/>
<ellipse cx="734.5" cy="287.7" rx="13.5" ry="9.5" fill="#e83828" transform="rotate(-30 734.5 287.7)"/>
<ellipse cx="732.9" cy="289.3" rx="8.7" ry="5.1" fill="#f8f040" transform="rotate(-30 732.9 289.3)"/>
<ellipse cx="721.8" cy="302.8" rx="5.6" ry="7.1" fill="#3060d0"/>
<ellipse cx="744.0" cy="277.4" rx="4.0" ry="4.8" fill="#c02868"/>
<ellipse cx="758.3" cy="280.6" rx="11.1" ry="6.3" fill="#30d8f0"/>
<ellipse cx="783.7" cy="299.6" rx="22.2" ry="9.5" fill="#3030c0" transform="rotate(15 783.7 299.6)"/>
<ellipse cx="780.5" cy="299.6" rx="4.0" ry="4.0" fill="#c02060"/>
<ellipse cx="796.4" cy="302.8" rx="4.8" ry="4.0" fill="#8020a0"/>
<ellipse cx="767.8" cy="296.5" rx="4.8" ry="3.2" fill="#5040c0"/>
<ellipse cx="837.6" cy="299.6" rx="41.3" ry="9.5" fill="#22c8ec"/>
<ellipse cx="821.8" cy="298.1" rx="4.8" ry="3.2" fill="#2a60d8"/>
<ellipse cx="848.7" cy="293.3" rx="4.0" ry="3.2" fill="#3080e0"/>
<ellipse cx="864.6" cy="299.6" rx="4.0" ry="3.2" fill="#2a70d8"/>
<ellipse cx="809.1" cy="299.6" rx="4.0" ry="4.8" fill="#3050d0"/>
</g>
<path d="M777.3,174.3 C785.0,174.3 795.1,174.3 802.7,174.3 C799.4,178.1 798.8,179.8 791.6,187.0 C784.5,194.1 784.6,191.9 778.9,198.1 C773.2,204.3 775.9,200.0 772.6,207.6 C769.2,215.2 769.7,213.0 767.8,223.5 C765.9,233.9 768.1,233.0 766.2,242.5 C764.3,252.0 763.6,249.0 761.5,255.2 C759.3,261.4 759.1,258.4 759.1,263.1 C759.1,267.9 757.4,266.3 761.5,271.1 C765.5,275.8 763.1,274.2 772.6,279.0 C782.1,283.8 779.9,283.6 793.2,286.9 C806.5,290.3 798.0,289.6 817.0,290.1 C836.1,290.6 838.8,290.0 856.7,288.5 C874.5,287.1 870.6,286.3 876.5,285.4 C876.8,292.5 877.1,302.0 877.3,309.2 C866.4,310.1 858.9,310.4 840.8,312.3 C822.7,314.2 830.3,316.0 817.0,315.5 C803.7,315.0 808.3,314.6 796.4,310.7 C784.5,306.9 787.8,306.6 777.3,302.8 C766.9,299.0 771.9,300.0 761.5,298.1 C751.0,296.1 752.0,295.0 742.4,296.5 C732.9,297.9 737.6,298.5 729.7,302.8 C721.9,307.1 720.3,308.4 716.2,310.7 C716.5,304.1 716.8,295.2 717.0,288.5 C720.8,286.6 723.5,287.4 729.7,282.2 C735.9,276.9 733.9,279.2 737.7,271.1 C741.5,263.0 740.5,265.7 742.4,255.2 C744.3,244.7 742.6,247.1 744.0,236.2 C745.4,225.2 744.3,228.7 747.2,218.7 C750.0,208.7 748.3,212.4 753.5,202.8 C758.8,193.3 757.5,195.5 764.6,187.0 C771.8,178.4 773.5,178.1 777.3,174.3 Z" fill="none" stroke="#0a4868" stroke-opacity="0.32" stroke-width="6" filter="url(#bl30)"/>
</g>
<line x1="742.4" y1="249.2" x2="767.8" y2="249.2" stroke="#000" stroke-width="3" stroke-dasharray="6 3.2"/>
<text x="787.6" y="255.2" font-size="15.5" text-anchor="middle" font-weight="normal" fill="#000" >PV</text>
<text x="793.2" y="279" font-size="15.5" text-anchor="middle" font-weight="normal" fill="#000" >PA</text>
<line x1="794.8" y1="287" x2="782.1" y2="310.7" stroke="#000" stroke-width="3" stroke-dasharray="6 3.2"/>
<line x1="728.0" y1="228.0" x2="739.3" y2="239.3" stroke="#2a2a2a" stroke-width="1.4" stroke-dasharray="1.7 1.1"/>
<path d="M743.5,243.5 L733.1,240.5 L739.3,239.3 L740.5,233.1 Z" fill="#000"/>
<text x="723" y="225.1" font-size="15.5" text-anchor="middle" font-weight="normal" fill="#000" >O</text>
<line x1="782.0" y1="228.0" x2="772.7" y2="239.8" stroke="#2a2a2a" stroke-width="1.4" stroke-dasharray="1.7 1.1"/>
<path d="M769.0,244.5 L770.8,233.8 L772.7,239.8 L779.0,240.3 Z" fill="#000"/>
<text x="785" y="225.9" font-size="15.5" text-anchor="middle" font-weight="normal" fill="#000" >I</text>
<line x1="818.0" y1="282.0" x2="805.8" y2="285.4" stroke="#2a2a2a" stroke-width="1.4" stroke-dasharray="1.7 1.1"/>
<path d="M800.0,287.0 L807.8,279.4 L805.8,285.4 L810.5,289.5 Z" fill="#000"/>
<text x="820.6" y="283.8" font-size="15.5" text-anchor="middle" font-weight="normal" fill="#000" >I</text>
<line x1="797.0" y1="322.0" x2="791.3" y2="316.6" stroke="#2a2a2a" stroke-width="1.4" stroke-dasharray="1.7 1.1"/>
<path d="M787.0,312.5 L797.5,315.3 L791.3,316.6 L790.3,322.8 Z" fill="#000"/>
<text x="805.2" y="335.3" font-size="15.5" text-anchor="middle" font-weight="normal" fill="#000" >O</text>
<clipPath id="cpsv5"><path d="M767.8,369.5 C772.3,369.5 778.4,369.5 782.9,369.5 C782.2,373.7 782.2,375.2 780.5,383.7 C778.8,392.3 776.4,388.5 777.3,398.0 C778.3,407.5 782.3,405.5 783.7,415.5 C785.1,425.5 784.0,421.8 782.1,431.3 C780.2,440.9 777.8,436.7 777.3,447.2 C776.9,457.7 776.7,454.3 780.5,466.2 C784.3,478.2 781.5,477.4 790.0,486.9 C798.6,496.4 796.2,491.3 809.1,498.0 C821.9,504.6 814.8,505.8 832.9,509.1 C851.0,512.4 858.4,509.1 869.4,509.1 C869.6,516.2 869.9,525.8 870.2,532.9 C861.4,532.4 862.0,536.5 840.8,531.3 C819.6,526.1 820.5,523.5 799.6,515.4 C778.6,507.3 783.4,506.2 771.0,504.3 C758.6,502.4 766.2,504.6 758.3,509.1 C750.4,513.6 748.9,516.3 744.8,519.4 C744.8,513.0 744.8,504.4 744.8,498.0 C748.4,493.2 751.7,492.6 756.7,482.1 C761.7,471.6 760.8,475.5 761.5,463.1 C762.2,450.7 760.0,458.5 759.1,440.9 C758.1,423.2 757.1,421.5 758.3,404.4 C759.5,387.2 760.2,394.2 763.1,383.7 C765.9,373.3 766.4,373.7 767.8,369.5 Z"/></clipPath>
<g clip-path="url(#cpsv5)">
<path d="M767.8,369.5 C772.3,369.5 778.4,369.5 782.9,369.5 C782.2,373.7 782.2,375.2 780.5,383.7 C778.8,392.3 776.4,388.5 777.3,398.0 C778.3,407.5 782.3,405.5 783.7,415.5 C785.1,425.5 784.0,421.8 782.1,431.3 C780.2,440.9 777.8,436.7 777.3,447.2 C776.9,457.7 776.7,454.3 780.5,466.2 C784.3,478.2 781.5,477.4 790.0,486.9 C798.6,496.4 796.2,491.3 809.1,498.0 C821.9,504.6 814.8,505.8 832.9,509.1 C851.0,512.4 858.4,509.1 869.4,509.1 C869.6,516.2 869.9,525.8 870.2,532.9 C861.4,532.4 862.0,536.5 840.8,531.3 C819.6,526.1 820.5,523.5 799.6,515.4 C778.6,507.3 783.4,506.2 771.0,504.3 C758.6,502.4 766.2,504.6 758.3,509.1 C750.4,513.6 748.9,516.3 744.8,519.4 C744.8,513.0 744.8,504.4 744.8,498.0 C748.4,493.2 751.7,492.6 756.7,482.1 C761.7,471.6 760.8,475.5 761.5,463.1 C762.2,450.7 760.0,458.5 759.1,440.9 C758.1,423.2 757.1,421.5 758.3,404.4 C759.5,387.2 760.2,394.2 763.1,383.7 C765.9,373.3 766.4,373.7 767.8,369.5 Z" fill="#20b0d0"/>
<g filter="url(#bl25)">
<ellipse cx="775.8" cy="380.6" rx="6.3" ry="11.1" fill="#f0d030"/>
<ellipse cx="772.6" cy="394.8" rx="9.5" ry="4.8" fill="#e02828"/>
<ellipse cx="780.5" cy="391.7" rx="3.2" ry="6.3" fill="#a02080"/>
<ellipse cx="771.0" cy="418.6" rx="7.9" ry="14.3" fill="#30c8e0"/>
<ellipse cx="761.5" cy="420.2" rx="3.2" ry="17.5" fill="#3040d0"/>
<ellipse cx="781.3" cy="418.6" rx="2.4" ry="12.7" fill="#3050c8"/>
<ellipse cx="762.3" cy="436.1" rx="3.2" ry="4.8" fill="#c02040"/>
<ellipse cx="774.2" cy="440.9" rx="4.8" ry="6.3" fill="#3040d0"/>
<path d="M764.6,450.4 C766.9,446.6 770.7,444.7 772.6,447.2 C774.5,449.7 774.2,455.1 774.2,463.1 C774.2,471.0 775.1,478.0 772.6,486.9 C770.0,495.8 766.2,501.8 761.5,507.5 C756.7,513.2 752.0,516.7 748.8,515.4 C745.6,514.2 744.0,507.2 745.6,501.2 C747.2,495.1 753.5,492.3 756.7,485.3 C759.9,478.3 759.9,473.2 761.5,466.2 C763.1,459.3 762.4,454.2 764.6,450.4 Z" fill="#f4e428"/>
<ellipse cx="769.4" cy="450.4" rx="6.3" ry="6.3" fill="#e02838"/>
<ellipse cx="750.4" cy="510.7" rx="6.3" ry="6.3" fill="#c03050"/>
<ellipse cx="786.9" cy="478.9" rx="19.0" ry="23.8" fill="#30d8f0" transform="rotate(-30 786.9 478.9)"/>
<ellipse cx="777.3" cy="459.9" rx="3.2" ry="9.5" fill="#2050d0"/>
<ellipse cx="820.2" cy="512.3" rx="14.3" ry="9.5" fill="#e8d030" transform="rotate(20 820.2 512.3)"/>
<ellipse cx="817.0" cy="517.0" rx="2.4" ry="2.4" fill="#2040d0"/>
<ellipse cx="809.1" cy="509.1" rx="4.8" ry="4.8" fill="#e02020"/>
<ellipse cx="832.9" cy="513.9" rx="3.2" ry="6.3" fill="#e8c030"/>
<ellipse cx="853.5" cy="520.2" rx="19.0" ry="12.7" fill="#3030c8"/>
<ellipse cx="847.2" cy="517.0" rx="4.8" ry="4.8" fill="#30b0e0"/>
<ellipse cx="863.0" cy="518.6" rx="4.0" ry="4.0" fill="#c02050"/>
<ellipse cx="856.7" cy="526.5" rx="6.3" ry="3.2" fill="#2a80e0"/>
</g>
<path d="M767.8,369.5 C772.3,369.5 778.4,369.5 782.9,369.5 C782.2,373.7 782.2,375.2 780.5,383.7 C778.8,392.3 776.4,388.5 777.3,398.0 C778.3,407.5 782.3,405.5 783.7,415.5 C785.1,425.5 784.0,421.8 782.1,431.3 C780.2,440.9 777.8,436.7 777.3,447.2 C776.9,457.7 776.7,454.3 780.5,466.2 C784.3,478.2 781.5,477.4 790.0,486.9 C798.6,496.4 796.2,491.3 809.1,498.0 C821.9,504.6 814.8,505.8 832.9,509.1 C851.0,512.4 858.4,509.1 869.4,509.1 C869.6,516.2 869.9,525.8 870.2,532.9 C861.4,532.4 862.0,536.5 840.8,531.3 C819.6,526.1 820.5,523.5 799.6,515.4 C778.6,507.3 783.4,506.2 771.0,504.3 C758.6,502.4 766.2,504.6 758.3,509.1 C750.4,513.6 748.9,516.3 744.8,519.4 C744.8,513.0 744.8,504.4 744.8,498.0 C748.4,493.2 751.7,492.6 756.7,482.1 C761.7,471.6 760.8,475.5 761.5,463.1 C762.2,450.7 760.0,458.5 759.1,440.9 C758.1,423.2 757.1,421.5 758.3,404.4 C759.5,387.2 760.2,394.2 763.1,383.7 C765.9,373.3 766.4,373.7 767.8,369.5 Z" fill="none" stroke="#0a4868" stroke-opacity="0.32" stroke-width="6" filter="url(#bl30)"/>
</g>
<line x1="755.1" y1="446.4" x2="780.5" y2="446.4" stroke="#000" stroke-width="3" stroke-dasharray="6 3.2"/>
<text x="793.2" y="452.8" font-size="15.5" text-anchor="middle" font-weight="normal" fill="#000" >PV</text>
<text x="815.8" y="491.6" font-size="15.5" text-anchor="middle" font-weight="normal" fill="#000" >PA</text>
<line x1="810.7" y1="494" x2="798" y2="518.6" stroke="#000" stroke-width="3" stroke-dasharray="6 3.2"/>
<clipPath id="cpsv6"><path d="M766.2,553.8 C773.4,553.8 782.9,553.8 790.0,553.8 C789.6,558.5 788.4,558.1 788.4,569.4 C788.4,580.7 789.1,576.8 790.0,591.6 C791.0,606.4 792.6,606.2 791.6,618.6 C790.7,631.0 792.1,625.7 786.9,632.9 C781.6,640.0 778.9,635.7 774.2,642.4 C769.4,649.0 770.5,647.0 771.0,655.1 C771.5,663.2 769.1,663.2 775.8,669.4 C782.4,675.5 782.3,672.8 793.2,675.7 C804.2,678.6 798.0,676.5 812.2,678.9 C826.5,681.3 819.9,680.3 840.8,683.6 C861.8,687.0 869.7,688.1 882.1,690.0 C882.1,699.5 882.1,712.2 882.1,721.7 C869.7,719.8 865.6,720.6 840.8,715.4 C816.1,710.1 821.0,711.6 799.6,704.3 C778.1,696.9 783.2,693.6 769.4,690.8 C755.6,687.9 762.8,691.2 753.5,694.7 C744.3,698.3 743.0,700.3 738.5,702.7 C738.5,694.1 738.5,682.7 738.5,674.1 C743.0,671.3 749.0,675.1 753.5,664.6 C758.1,654.1 753.8,661.6 753.5,639.2 C753.3,616.8 751.3,608.1 752.7,590.0 C754.2,571.9 754.3,585.6 758.3,578.9 C762.3,572.2 763.9,575.3 766.2,567.8 C768.6,560.3 766.2,558.0 766.2,553.8 Z"/></clipPath>
<g clip-path="url(#cpsv6)">
<path d="M766.2,553.8 C773.4,553.8 782.9,553.8 790.0,553.8 C789.6,558.5 788.4,558.1 788.4,569.4 C788.4,580.7 789.1,576.8 790.0,591.6 C791.0,606.4 792.6,606.2 791.6,618.6 C790.7,631.0 792.1,625.7 786.9,632.9 C781.6,640.0 778.9,635.7 774.2,642.4 C769.4,649.0 770.5,647.0 771.0,655.1 C771.5,663.2 769.1,663.2 775.8,669.4 C782.4,675.5 782.3,672.8 793.2,675.7 C804.2,678.6 798.0,676.5 812.2,678.9 C826.5,681.3 819.9,680.3 840.8,683.6 C861.8,687.0 869.7,688.1 882.1,690.0 C882.1,699.5 882.1,712.2 882.1,721.7 C869.7,719.8 865.6,720.6 840.8,715.4 C816.1,710.1 821.0,711.6 799.6,704.3 C778.1,696.9 783.2,693.6 769.4,690.8 C755.6,687.9 762.8,691.2 753.5,694.7 C744.3,698.3 743.0,700.3 738.5,702.7 C738.5,694.1 738.5,682.7 738.5,674.1 C743.0,671.3 749.0,675.1 753.5,664.6 C758.1,654.1 753.8,661.6 753.5,639.2 C753.3,616.8 751.3,608.1 752.7,590.0 C754.2,571.9 754.3,585.6 758.3,578.9 C762.3,572.2 763.9,575.3 766.2,567.8 C768.6,560.3 766.2,558.0 766.2,553.8 Z" fill="#20c4d8"/>
<g filter="url(#bl25)">
<ellipse cx="772.6" cy="591.6" rx="22.2" ry="42.8" fill="#f4e030"/>
<ellipse cx="787.7" cy="591.6" rx="3.5" ry="33.3" fill="#e02828"/>
<ellipse cx="760.7" cy="577.3" rx="3.5" ry="11.1" fill="#e03020"/>
<ellipse cx="769.4" cy="563.0" rx="4.0" ry="6.3" fill="#e84020"/>
<ellipse cx="783.7" cy="588.4" rx="2.9" ry="7.1" fill="#6030b0"/>
<ellipse cx="785.3" cy="612.2" rx="2.9" ry="3.5" fill="#6030b0"/>
<ellipse cx="777.3" cy="572.6" rx="3.2" ry="6.3" fill="#e8a030"/>
<ellipse cx="762.3" cy="620.2" rx="5.1" ry="20.6" fill="#30c0e0"/>
<ellipse cx="757.0" cy="618.6" rx="2.2" ry="19.0" fill="#2040d0"/>
<ellipse cx="772.6" cy="623.3" rx="4.0" ry="6.3" fill="#e02020"/>
<ellipse cx="764.6" cy="637.6" rx="6.3" ry="4.4" fill="#3040c8"/>
<path d="M758.3,642.4 C760.2,637.9 768.1,637.9 771.0,642.4 C773.8,646.8 769.4,658.9 772.6,664.6 C775.8,670.3 781.1,668.1 786.9,670.9 C792.6,673.8 799.2,675.7 801.1,678.9 C803.0,682.1 800.5,685.2 796.4,686.8 C792.3,688.4 786.2,688.1 780.5,686.8 C774.8,685.5 771.6,684.9 767.8,680.5 C764.0,676.0 763.4,672.2 761.5,664.6 C759.6,657.0 756.4,646.8 758.3,642.4 Z" fill="#f4e430"/>
<ellipse cx="796.4" cy="682.1" rx="4.8" ry="6.3" fill="#e02838"/>
<ellipse cx="763.1" cy="667.8" rx="2.4" ry="12.7" fill="#d02030"/>
<ellipse cx="745.6" cy="683.6" rx="9.5" ry="17.5" fill="#2a60d0"/>
<ellipse cx="740.8" cy="691.6" rx="4.0" ry="9.5" fill="#e8d830"/>
<ellipse cx="758.3" cy="683.6" rx="3.2" ry="12.7" fill="#c02040"/>
<ellipse cx="783.7" cy="696.3" rx="14.3" ry="6.3" fill="#3060d0"/>
<ellipse cx="840.8" cy="699.5" rx="47.6" ry="19.0" fill="#22c8d8"/>
</g>
<path d="M766.2,553.8 C773.4,553.8 782.9,553.8 790.0,553.8 C789.6,558.5 788.4,558.1 788.4,569.4 C788.4,580.7 789.1,576.8 790.0,591.6 C791.0,606.4 792.6,606.2 791.6,618.6 C790.7,631.0 792.1,625.7 786.9,632.9 C781.6,640.0 778.9,635.7 774.2,642.4 C769.4,649.0 770.5,647.0 771.0,655.1 C771.5,663.2 769.1,663.2 775.8,669.4 C782.4,675.5 782.3,672.8 793.2,675.7 C804.2,678.6 798.0,676.5 812.2,678.9 C826.5,681.3 819.9,680.3 840.8,683.6 C861.8,687.0 869.7,688.1 882.1,690.0 C882.1,699.5 882.1,712.2 882.1,721.7 C869.7,719.8 865.6,720.6 840.8,715.4 C816.1,710.1 821.0,711.6 799.6,704.3 C778.1,696.9 783.2,693.6 769.4,690.8 C755.6,687.9 762.8,691.2 753.5,694.7 C744.3,698.3 743.0,700.3 738.5,702.7 C738.5,694.1 738.5,682.7 738.5,674.1 C743.0,671.3 749.0,675.1 753.5,664.6 C758.1,654.1 753.8,661.6 753.5,639.2 C753.3,616.8 751.3,608.1 752.7,590.0 C754.2,571.9 754.3,585.6 758.3,578.9 C762.3,572.2 763.9,575.3 766.2,567.8 C768.6,560.3 766.2,558.0 766.2,553.8 Z" fill="none" stroke="#0a4868" stroke-opacity="0.32" stroke-width="6" filter="url(#bl30)"/>
</g>
<line x1="748.8" y1="627.3" x2="796.4" y2="627.3" stroke="#000" stroke-width="3" stroke-dasharray="6 3.2"/>
<text x="810.2" y="633.7" font-size="15.5" text-anchor="middle" font-weight="normal" fill="#000" >PV</text>
<text x="808.3" y="671" font-size="15.5" text-anchor="middle" font-weight="normal" fill="#000" >PA</text>
<line x1="805.9" y1="671.7" x2="787.7" y2="705.1" stroke="#000" stroke-width="3" stroke-dasharray="6 3.2"/>
<text x="153" y="862.6" font-size="23.5" text-anchor="start" font-weight="bold" fill="#000" >B</text>
<line x1="245.8" y1="902" x2="245.8" y2="1168.8" stroke="#000" stroke-width="2.4" />
<line x1="235" y1="1167.6" x2="644" y2="1167.6" stroke="#000" stroke-width="2.4" />
<line x1="235" y1="1167.6" x2="245.8" y2="1167.6" stroke="#000" stroke-width="2.2" />
<text x="231" y="1174.6" font-size="19.5" text-anchor="end" font-weight="bold" fill="#000" >0</text>
<line x1="235" y1="1101.1999999999998" x2="245.8" y2="1101.1999999999998" stroke="#000" stroke-width="2.2" />
<text x="231" y="1108.1999999999998" font-size="19.5" text-anchor="end" font-weight="bold" fill="#000" >200</text>
<line x1="235" y1="1034.8" x2="245.8" y2="1034.8" stroke="#000" stroke-width="2.2" />
<text x="231" y="1041.8" font-size="19.5" text-anchor="end" font-weight="bold" fill="#000" >400</text>
<line x1="235" y1="968.4" x2="245.8" y2="968.4" stroke="#000" stroke-width="2.2" />
<text x="231" y="975.4" font-size="19.5" text-anchor="end" font-weight="bold" fill="#000" >600</text>
<line x1="235" y1="902.0" x2="245.8" y2="902.0" stroke="#000" stroke-width="2.2" />
<text x="231" y="909.0" font-size="19.5" text-anchor="end" font-weight="bold" fill="#000" >800</text>
<line x1="258.7" y1="1167.6" x2="258.7" y2="1184.1" stroke="#000" stroke-width="4" />
<text x="258.7" y="1203.5" font-size="19.5" text-anchor="middle" font-weight="bold" fill="#000" >1</text>
<line x1="336.98" y1="1167.6" x2="336.98" y2="1184.1" stroke="#000" stroke-width="4" />
<text x="336.98" y="1203.5" font-size="19.5" text-anchor="middle" font-weight="bold" fill="#000" >5</text>
<line x1="434.83" y1="1167.6" x2="434.83" y2="1184.1" stroke="#000" stroke-width="4" />
<text x="434.83" y="1203.5" font-size="19.5" text-anchor="middle" font-weight="bold" fill="#000" >10</text>
<line x1="532.6800000000001" y1="1167.6" x2="532.6800000000001" y2="1184.1" stroke="#000" stroke-width="4" />
<text x="532.6800000000001" y="1203.5" font-size="19.5" text-anchor="middle" font-weight="bold" fill="#000" >15</text>
<line x1="630.53" y1="1167.6" x2="630.53" y2="1184.1" stroke="#000" stroke-width="4" />
<text x="630.53" y="1203.5" font-size="19.5" text-anchor="middle" font-weight="bold" fill="#000" >20</text>
<text x="441.6" y="1229" font-size="21" text-anchor="middle" font-weight="bold" fill="#000" >mm</text>
<text x="182.5" y="1035.4" font-size="22" font-weight="bold" text-anchor="middle" transform="rotate(-90 182.5 1035.4)">WSS (dyne/cm<tspan font-size="14" dy="-8">2</tspan><tspan dy="8">)</tspan></text>
<text x="445" y="868" font-size="25.5" text-anchor="middle" font-weight="bold" fill="#000" >PV</text>
<circle cx="258.7" cy="1076.6" r="3.7" fill="none" stroke="#26807e" stroke-width="1.6"/>
<circle cx="278.3" cy="1106.9" r="3.7" fill="none" stroke="#26807e" stroke-width="1.6"/>
<circle cx="297.8" cy="1118.3" r="3.7" fill="none" stroke="#26807e" stroke-width="1.6"/>
<circle cx="317.4" cy="1133.9" r="3.7" fill="none" stroke="#26807e" stroke-width="1.6"/>
<circle cx="337.0" cy="1129.8" r="3.7" fill="none" stroke="#26807e" stroke-width="1.6"/>
<circle cx="356.5" cy="1128.1" r="3.7" fill="none" stroke="#26807e" stroke-width="1.6"/>
<circle cx="376.1" cy="1127.6" r="3.7" fill="none" stroke="#26807e" stroke-width="1.6"/>
<circle cx="395.7" cy="1126.5" r="3.7" fill="none" stroke="#26807e" stroke-width="1.6"/>
<circle cx="415.3" cy="1133.9" r="3.7" fill="none" stroke="#26807e" stroke-width="1.6"/>
<circle cx="434.8" cy="1137.1" r="3.7" fill="none" stroke="#26807e" stroke-width="1.6"/>
<path d="M254.6,1047.9 L262.8,1056.1 M254.6,1056.1 L262.8,1047.9" stroke="#26807e" stroke-width="1.6" fill="none"/>
<path d="M274.2,1029.9 L282.4,1038.1 M274.2,1038.1 L282.4,1029.9" stroke="#26807e" stroke-width="1.6" fill="none"/>
<path d="M293.7,1056.9 L301.9,1065.1 M293.7,1065.1 L301.9,1056.9" stroke="#26807e" stroke-width="1.6" fill="none"/>
<path d="M313.3,1095.4 L321.5,1103.6 M313.3,1103.6 L321.5,1095.4" stroke="#26807e" stroke-width="1.6" fill="none"/>
<path d="M332.9,1112.6 L341.1,1120.8 M332.9,1120.8 L341.1,1112.6" stroke="#26807e" stroke-width="1.6" fill="none"/>
<path d="M352.4,1115.0 L360.6,1123.2 M352.4,1123.2 L360.6,1115.0" stroke="#26807e" stroke-width="1.6" fill="none"/>
<path d="M372.0,1102.8 L380.2,1111.0 M372.0,1111.0 L380.2,1102.8" stroke="#26807e" stroke-width="1.6" fill="none"/>
<path d="M391.6,1107.7 L399.8,1115.9 M391.6,1115.9 L399.8,1107.7" stroke="#26807e" stroke-width="1.6" fill="none"/>
<path d="M411.2,1119.9 L419.4,1128.1 M411.2,1128.1 L419.4,1119.9" stroke="#26807e" stroke-width="1.6" fill="none"/>
<path d="M430.7,1115.0 L438.9,1123.2 M430.7,1123.2 L438.9,1115.0" stroke="#26807e" stroke-width="1.6" fill="none"/>
<circle cx="258.7" cy="1012.7" r="3.7" fill="none" stroke="#d82a70" stroke-width="1.6"/>
<circle cx="278.3" cy="1053.7" r="3.7" fill="none" stroke="#d82a70" stroke-width="1.6"/>
<circle cx="297.8" cy="1079.0" r="3.7" fill="none" stroke="#d82a70" stroke-width="1.6"/>
<circle cx="317.4" cy="1101.1" r="3.7" fill="none" stroke="#d82a70" stroke-width="1.6"/>
<circle cx="337.0" cy="1097.9" r="3.7" fill="none" stroke="#d82a70" stroke-width="1.6"/>
<circle cx="356.5" cy="1084.8" r="3.7" fill="none" stroke="#d82a70" stroke-width="1.6"/>
<circle cx="376.1" cy="1088.9" r="3.7" fill="none" stroke="#d82a70" stroke-width="1.6"/>
<circle cx="395.7" cy="1113.4" r="3.7" fill="none" stroke="#d82a70" stroke-width="1.6"/>
<circle cx="415.3" cy="1122.1" r="3.7" fill="none" stroke="#d82a70" stroke-width="1.6"/>
<circle cx="434.8" cy="1121.6" r="3.7" fill="none" stroke="#d82a70" stroke-width="1.6"/>
<path d="M254.6,1090.8 L262.8,1099.0 M254.6,1099.0 L262.8,1090.8" stroke="#d82a70" stroke-width="1.6" fill="none"/>
<path d="M274.2,1065.9 L282.4,1074.1 M274.2,1074.1 L282.4,1065.9" stroke="#d82a70" stroke-width="1.6" fill="none"/>
<path d="M293.7,1063.5 L301.9,1071.7 M293.7,1071.7 L301.9,1063.5" stroke="#d82a70" stroke-width="1.6" fill="none"/>
<path d="M313.3,1082.3 L321.5,1090.5 M313.3,1090.5 L321.5,1082.3" stroke="#d82a70" stroke-width="1.6" fill="none"/>
<path d="M332.9,1083.9 L341.1,1092.1 M332.9,1092.1 L341.1,1083.9" stroke="#d82a70" stroke-width="1.6" fill="none"/>
<path d="M352.4,1074.9 L360.6,1083.1 M352.4,1083.1 L360.6,1074.9" stroke="#d82a70" stroke-width="1.6" fill="none"/>
<path d="M372.0,1077.4 L380.2,1085.6 M372.0,1085.6 L380.2,1077.4" stroke="#d82a70" stroke-width="1.6" fill="none"/>
<path d="M391.6,1047.1 L399.8,1055.3 M391.6,1055.3 L399.8,1047.1" stroke="#d82a70" stroke-width="1.6" fill="none"/>
<path d="M411.2,1025.8 L419.4,1034.0 M411.2,1034.0 L419.4,1025.8" stroke="#d82a70" stroke-width="1.6" fill="none"/>
<path d="M430.7,1002.4 L438.9,1010.6 M430.7,1010.6 L438.9,1002.4" stroke="#d82a70" stroke-width="1.6" fill="none"/>
<circle cx="258.7" cy="992.3" r="3.7" fill="none" stroke="#151515" stroke-width="1.6"/>
<circle cx="278.3" cy="975.1" r="3.7" fill="none" stroke="#151515" stroke-width="1.6"/>
<circle cx="297.8" cy="1005.4" r="3.7" fill="none" stroke="#151515" stroke-width="1.6"/>
<circle cx="317.4" cy="1020.9" r="3.7" fill="none" stroke="#151515" stroke-width="1.6"/>
<circle cx="337.0" cy="1000.0" r="3.7" fill="none" stroke="#151515" stroke-width="1.6"/>
<circle cx="356.5" cy="1048.8" r="3.7" fill="none" stroke="#151515" stroke-width="1.6"/>
<circle cx="376.1" cy="1057.8" r="3.7" fill="none" stroke="#151515" stroke-width="1.6"/>
<circle cx="395.7" cy="1045.5" r="3.7" fill="none" stroke="#151515" stroke-width="1.6"/>
<circle cx="415.3" cy="1070.4" r="3.7" fill="none" stroke="#151515" stroke-width="1.6"/>
<circle cx="434.8" cy="1061.8" r="3.7" fill="none" stroke="#151515" stroke-width="1.6"/>
<path d="M254.6,1121.6 L262.8,1129.8 M254.6,1129.8 L262.8,1121.6" stroke="#151515" stroke-width="1.6" fill="none"/>
<path d="M274.2,1121.3 L282.4,1129.5 M274.2,1129.5 L282.4,1121.3" stroke="#151515" stroke-width="1.6" fill="none"/>
<path d="M293.7,1127.8 L301.9,1136.0 M293.7,1136.0 L301.9,1127.8" stroke="#151515" stroke-width="1.6" fill="none"/>
<path d="M313.3,1145.3 L321.5,1153.5 M313.3,1153.5 L321.5,1145.3" stroke="#151515" stroke-width="1.6" fill="none"/>
<path d="M332.9,1148.6 L341.1,1156.8 M332.9,1156.8 L341.1,1148.6" stroke="#151515" stroke-width="1.6" fill="none"/>
<path d="M352.4,1149.4 L360.6,1157.6 M352.4,1157.6 L360.6,1149.4" stroke="#151515" stroke-width="1.6" fill="none"/>
<path d="M372.0,1152.3 L380.2,1160.5 M372.0,1160.5 L380.2,1152.3" stroke="#151515" stroke-width="1.6" fill="none"/>
<path d="M391.6,1151.0 L399.8,1159.2 M391.6,1159.2 L399.8,1151.0" stroke="#151515" stroke-width="1.6" fill="none"/>
<path d="M411.2,1153.5 L419.4,1161.7 M411.2,1161.7 L419.4,1153.5" stroke="#151515" stroke-width="1.6" fill="none"/>
<path d="M430.7,1154.3 L438.9,1162.5 M430.7,1162.5 L438.9,1154.3" stroke="#151515" stroke-width="1.6" fill="none"/>
<circle cx="454.4" cy="1138.0" r="3.7" fill="none" stroke="#26807e" stroke-width="1.6"/>
<circle cx="474.0" cy="1140.4" r="3.7" fill="none" stroke="#26807e" stroke-width="1.6"/>
<circle cx="493.5" cy="1148.3" r="3.7" fill="none" stroke="#26807e" stroke-width="1.6"/>
<circle cx="513.1" cy="1147.8" r="3.7" fill="none" stroke="#26807e" stroke-width="1.6"/>
<circle cx="532.7" cy="1147.3" r="3.7" fill="none" stroke="#26807e" stroke-width="1.6"/>
<circle cx="552.2" cy="1144.5" r="3.7" fill="none" stroke="#26807e" stroke-width="1.6"/>
<circle cx="571.8" cy="1140.4" r="3.7" fill="none" stroke="#26807e" stroke-width="1.6"/>
<circle cx="591.4" cy="1138.4" r="3.7" fill="none" stroke="#26807e" stroke-width="1.6"/>
<circle cx="611.0" cy="1135.5" r="3.7" fill="none" stroke="#26807e" stroke-width="1.6"/>
<circle cx="630.5" cy="1134.2" r="3.7" fill="none" stroke="#26807e" stroke-width="1.6"/>
<path d="M450.3,1099.5 L458.5,1107.7 M450.3,1107.7 L458.5,1099.5" stroke="#26807e" stroke-width="1.6" fill="none"/>
<path d="M469.9,1100.3 L478.1,1108.5 M469.9,1108.5 L478.1,1100.3" stroke="#26807e" stroke-width="1.6" fill="none"/>
<path d="M489.4,1106.0 L497.6,1114.2 M489.4,1114.2 L497.6,1106.0" stroke="#26807e" stroke-width="1.6" fill="none"/>
<path d="M509.0,1109.3 L517.2,1117.5 M509.0,1117.5 L517.2,1109.3" stroke="#26807e" stroke-width="1.6" fill="none"/>
<path d="M528.6,1097.4 L536.8,1105.6 M528.6,1105.6 L536.8,1097.4" stroke="#26807e" stroke-width="1.6" fill="none"/>
<path d="M548.1,1091.3 L556.4,1099.5 M548.1,1099.5 L556.4,1091.3" stroke="#26807e" stroke-width="1.6" fill="none"/>
<path d="M567.7,1091.3 L575.9,1099.5 M567.7,1099.5 L575.9,1091.3" stroke="#26807e" stroke-width="1.6" fill="none"/>
<path d="M587.3,1091.8 L595.5,1100.0 M587.3,1100.0 L595.5,1091.8" stroke="#26807e" stroke-width="1.6" fill="none"/>
<path d="M606.9,1105.2 L615.1,1113.4 M606.9,1113.4 L615.1,1105.2" stroke="#26807e" stroke-width="1.6" fill="none"/>
<path d="M626.4,1116.7 L634.6,1124.9 M626.4,1124.9 L634.6,1116.7" stroke="#26807e" stroke-width="1.6" fill="none"/>
<circle cx="454.4" cy="1113.4" r="3.7" fill="none" stroke="#d82a70" stroke-width="1.6"/>
<circle cx="474.0" cy="1118.3" r="3.7" fill="none" stroke="#d82a70" stroke-width="1.6"/>
<circle cx="493.5" cy="1123.2" r="3.7" fill="none" stroke="#d82a70" stroke-width="1.6"/>
<circle cx="513.1" cy="1126.0" r="3.7" fill="none" stroke="#d82a70" stroke-width="1.6"/>
<circle cx="532.7" cy="1126.2" r="3.7" fill="none" stroke="#d82a70" stroke-width="1.6"/>
<circle cx="552.2" cy="1129.3" r="3.7" fill="none" stroke="#d82a70" stroke-width="1.6"/>
<circle cx="571.8" cy="1132.6" r="3.7" fill="none" stroke="#d82a70" stroke-width="1.6"/>
<circle cx="591.4" cy="1124.4" r="3.7" fill="none" stroke="#d82a70" stroke-width="1.6"/>
<circle cx="611.0" cy="1109.3" r="3.7" fill="none" stroke="#d82a70" stroke-width="1.6"/>
<circle cx="630.5" cy="1095.9" r="3.7" fill="none" stroke="#d82a70" stroke-width="1.6"/>
<path d="M450.3,991.5 L458.5,999.7 M450.3,999.7 L458.5,991.5" stroke="#d82a70" stroke-width="1.6" fill="none"/>
<path d="M469.9,1100.3 L478.1,1108.5 M469.9,1108.5 L478.1,1100.3" stroke="#d82a70" stroke-width="1.6" fill="none"/>
<path d="M489.4,1069.2 L497.6,1077.4 M489.4,1077.4 L497.6,1069.2" stroke="#d82a70" stroke-width="1.6" fill="none"/>
<path d="M509.0,1029.1 L517.2,1037.3 M509.0,1037.3 L517.2,1029.1" stroke="#d82a70" stroke-width="1.6" fill="none"/>
<path d="M528.6,960.4 L536.8,968.6 M528.6,968.6 L536.8,960.4" stroke="#d82a70" stroke-width="1.6" fill="none"/>
<path d="M548.1,952.2 L556.4,960.4 M548.1,960.4 L556.4,952.2" stroke="#d82a70" stroke-width="1.6" fill="none"/>
<path d="M567.7,1044.3 L575.9,1052.5 M567.7,1052.5 L575.9,1044.3" stroke="#d82a70" stroke-width="1.6" fill="none"/>
<path d="M587.3,1041.4 L595.5,1049.6 M587.3,1049.6 L595.5,1041.4" stroke="#d82a70" stroke-width="1.6" fill="none"/>
<path d="M606.9,1014.4 L615.1,1022.6 M606.9,1022.6 L615.1,1014.4" stroke="#d82a70" stroke-width="1.6" fill="none"/>
<path d="M626.4,1036.5 L634.6,1044.7 M626.4,1044.7 L634.6,1036.5" stroke="#d82a70" stroke-width="1.6" fill="none"/>
<circle cx="454.4" cy="1081.5" r="3.7" fill="none" stroke="#151515" stroke-width="1.6"/>
<circle cx="474.0" cy="1115.9" r="3.7" fill="none" stroke="#151515" stroke-width="1.6"/>
<circle cx="493.5" cy="1109.6" r="3.7" fill="none" stroke="#151515" stroke-width="1.6"/>
<circle cx="513.1" cy="1077.4" r="3.7" fill="none" stroke="#151515" stroke-width="1.6"/>
<circle cx="532.7" cy="1074.6" r="3.7" fill="none" stroke="#151515" stroke-width="1.6"/>
<circle cx="552.2" cy="1081.5" r="3.7" fill="none" stroke="#151515" stroke-width="1.6"/>
<circle cx="571.8" cy="1078.5" r="3.7" fill="none" stroke="#151515" stroke-width="1.6"/>
<circle cx="591.4" cy="1080.7" r="3.7" fill="none" stroke="#151515" stroke-width="1.6"/>
<circle cx="611.0" cy="1090.5" r="3.7" fill="none" stroke="#151515" stroke-width="1.6"/>
<circle cx="630.5" cy="1079.0" r="3.7" fill="none" stroke="#151515" stroke-width="1.6"/>
<path d="M450.3,1154.3 L458.5,1162.5 M450.3,1162.5 L458.5,1154.3" stroke="#151515" stroke-width="1.6" fill="none"/>
<path d="M469.9,1154.0 L478.1,1162.2 M469.9,1162.2 L478.1,1154.0" stroke="#151515" stroke-width="1.6" fill="none"/>
<path d="M489.4,1154.0 L497.6,1162.2 M489.4,1162.2 L497.6,1154.0" stroke="#151515" stroke-width="1.6" fill="none"/>
<path d="M509.0,1154.3 L517.2,1162.5 M509.0,1162.5 L517.2,1154.3" stroke="#151515" stroke-width="1.6" fill="none"/>
<path d="M528.6,1152.7 L536.8,1160.9 M528.6,1160.9 L536.8,1152.7" stroke="#151515" stroke-width="1.6" fill="none"/>
<path d="M548.1,1151.9 L556.4,1160.1 M548.1,1160.1 L556.4,1151.9" stroke="#151515" stroke-width="1.6" fill="none"/>
<path d="M567.7,1151.0 L575.9,1159.2 M567.7,1159.2 L575.9,1151.0" stroke="#151515" stroke-width="1.6" fill="none"/>
<path d="M587.3,1148.6 L595.5,1156.8 M587.3,1156.8 L595.5,1148.6" stroke="#151515" stroke-width="1.6" fill="none"/>
<path d="M606.9,1149.1 L615.1,1157.3 M606.9,1157.3 L615.1,1149.1" stroke="#151515" stroke-width="1.6" fill="none"/>
<path d="M626.4,1148.6 L634.6,1156.8 M626.4,1156.8 L634.6,1148.6" stroke="#151515" stroke-width="1.6" fill="none"/>
<line x1="792.2" y1="900.7" x2="792.2" y2="1166.6000000000001" stroke="#000" stroke-width="2.4" />
<line x1="781.5" y1="1165.4" x2="1191" y2="1165.4" stroke="#000" stroke-width="2.4" />
<line x1="781.5" y1="1165.4" x2="792.2" y2="1165.4" stroke="#000" stroke-width="2.2" />
<text x="781.5" y="1172.4" font-size="19.5" text-anchor="end" font-weight="bold" fill="#000" >0</text>
<line x1="781.5" y1="1099.2250000000001" x2="792.2" y2="1099.2250000000001" stroke="#000" stroke-width="2.2" />
<text x="781.5" y="1106.2250000000001" font-size="19.5" text-anchor="end" font-weight="bold" fill="#000" >200</text>
<line x1="781.5" y1="1033.0500000000002" x2="792.2" y2="1033.0500000000002" stroke="#000" stroke-width="2.2" />
<text x="781.5" y="1040.0500000000002" font-size="19.5" text-anchor="end" font-weight="bold" fill="#000" >400</text>
<line x1="781.5" y1="966.875" x2="792.2" y2="966.875" stroke="#000" stroke-width="2.2" />
<text x="781.5" y="973.875" font-size="19.5" text-anchor="end" font-weight="bold" fill="#000" >600</text>
<line x1="781.5" y1="900.7" x2="792.2" y2="900.7" stroke="#000" stroke-width="2.2" />
<text x="781.5" y="907.7" font-size="19.5" text-anchor="end" font-weight="bold" fill="#000" >800</text>
<line x1="805.4" y1="1165.4" x2="805.4" y2="1181.9" stroke="#000" stroke-width="4" />
<text x="805.4" y="1201.7" font-size="19.5" text-anchor="middle" font-weight="bold" fill="#000" >1</text>
<line x1="883.64" y1="1165.4" x2="883.64" y2="1181.9" stroke="#000" stroke-width="4" />
<text x="883.64" y="1201.7" font-size="19.5" text-anchor="middle" font-weight="bold" fill="#000" >5</text>
<line x1="981.4399999999999" y1="1165.4" x2="981.4399999999999" y2="1181.9" stroke="#000" stroke-width="4" />
<text x="981.4399999999999" y="1201.7" font-size="19.5" text-anchor="middle" font-weight="bold" fill="#000" >10</text>
<line x1="1079.24" y1="1165.4" x2="1079.24" y2="1181.9" stroke="#000" stroke-width="4" />
<text x="1079.24" y="1201.7" font-size="19.5" text-anchor="middle" font-weight="bold" fill="#000" >15</text>
<line x1="1177.04" y1="1165.4" x2="1177.04" y2="1181.9" stroke="#000" stroke-width="4" />
<text x="1177.04" y="1201.7" font-size="19.5" text-anchor="middle" font-weight="bold" fill="#000" >20</text>
<text x="987.8" y="1227" font-size="21" text-anchor="middle" font-weight="bold" fill="#000" >mm</text>
<text x="729" y="1034.4" font-size="22" font-weight="bold" text-anchor="middle" transform="rotate(-90 729 1034.4)">WSS (dyne/cm<tspan font-size="14" dy="-8">2</tspan><tspan dy="8">)</tspan></text>
<text x="991.6" y="865.8" font-size="25.5" text-anchor="middle" font-weight="bold" fill="#000" >PA</text>
<circle cx="805.4" cy="1118.8" r="3.7" fill="none" stroke="#26807e" stroke-width="1.6"/>
<circle cx="825.0" cy="1109.5" r="3.7" fill="none" stroke="#26807e" stroke-width="1.6"/>
<circle cx="844.5" cy="1117.1" r="3.7" fill="none" stroke="#26807e" stroke-width="1.6"/>
<circle cx="864.1" cy="1129.8" r="3.7" fill="none" stroke="#26807e" stroke-width="1.6"/>
<circle cx="883.6" cy="1139.1" r="3.7" fill="none" stroke="#26807e" stroke-width="1.6"/>
<circle cx="903.2" cy="1142.5" r="3.7" fill="none" stroke="#26807e" stroke-width="1.6"/>
<circle cx="922.8" cy="1145.0" r="3.7" fill="none" stroke="#26807e" stroke-width="1.6"/>
<circle cx="942.3" cy="1144.2" r="3.7" fill="none" stroke="#26807e" stroke-width="1.6"/>
<circle cx="961.9" cy="1139.9" r="3.7" fill="none" stroke="#26807e" stroke-width="1.6"/>
<circle cx="981.4" cy="1088.0" r="3.7" fill="none" stroke="#26807e" stroke-width="1.6"/>
<path d="M801.3,1064.2 L809.5,1072.4 M801.3,1072.4 L809.5,1064.2" stroke="#26807e" stroke-width="1.6" fill="none"/>
<path d="M820.9,1080.0 L829.1,1088.2 M820.9,1088.2 L829.1,1080.0" stroke="#26807e" stroke-width="1.6" fill="none"/>
<path d="M840.4,1104.5 L848.6,1112.7 M840.4,1112.7 L848.6,1104.5" stroke="#26807e" stroke-width="1.6" fill="none"/>
<path d="M860.0,1116.4 L868.2,1124.6 M860.0,1124.6 L868.2,1116.4" stroke="#26807e" stroke-width="1.6" fill="none"/>
<path d="M879.5,1123.1 L887.7,1131.3 M879.5,1131.3 L887.7,1123.1" stroke="#26807e" stroke-width="1.6" fill="none"/>
<path d="M899.1,1132.5 L907.3,1140.7 M899.1,1140.7 L907.3,1132.5" stroke="#26807e" stroke-width="1.6" fill="none"/>
<path d="M918.7,1135.8 L926.9,1144.0 M918.7,1144.0 L926.9,1135.8" stroke="#26807e" stroke-width="1.6" fill="none"/>
<path d="M938.2,1141.8 L946.4,1150.0 M938.2,1150.0 L946.4,1141.8" stroke="#26807e" stroke-width="1.6" fill="none"/>
<path d="M957.8,1135.0 L966.0,1143.2 M957.8,1143.2 L966.0,1135.0" stroke="#26807e" stroke-width="1.6" fill="none"/>
<path d="M977.3,1143.5 L985.5,1151.7 M977.3,1151.7 L985.5,1143.5" stroke="#26807e" stroke-width="1.6" fill="none"/>
<circle cx="805.4" cy="1108.3" r="3.7" fill="none" stroke="#d82a70" stroke-width="1.6"/>
<circle cx="825.0" cy="1123.9" r="3.7" fill="none" stroke="#d82a70" stroke-width="1.6"/>
<circle cx="844.5" cy="1062.0" r="3.7" fill="none" stroke="#d82a70" stroke-width="1.6"/>
<circle cx="864.1" cy="1032.9" r="3.7" fill="none" stroke="#d82a70" stroke-width="1.6"/>
<circle cx="883.6" cy="1101.0" r="3.7" fill="none" stroke="#d82a70" stroke-width="1.6"/>
<circle cx="903.2" cy="1123.0" r="3.7" fill="none" stroke="#d82a70" stroke-width="1.6"/>
<circle cx="922.8" cy="1123.5" r="3.7" fill="none" stroke="#d82a70" stroke-width="1.6"/>
<circle cx="942.3" cy="1115.1" r="3.7" fill="none" stroke="#d82a70" stroke-width="1.6"/>
<circle cx="961.9" cy="1123.9" r="3.7" fill="none" stroke="#d82a70" stroke-width="1.6"/>
<circle cx="981.4" cy="1117.9" r="3.7" fill="none" stroke="#d82a70" stroke-width="1.6"/>
<path d="M801.3,1135.8 L809.5,1144.0 M801.3,1144.0 L809.5,1135.8" stroke="#d82a70" stroke-width="1.6" fill="none"/>
<path d="M820.9,1131.6 L829.1,1139.8 M820.9,1139.8 L829.1,1131.6" stroke="#d82a70" stroke-width="1.6" fill="none"/>
<path d="M840.4,1123.5 L848.6,1131.7 M840.4,1131.7 L848.6,1123.5" stroke="#d82a70" stroke-width="1.6" fill="none"/>
<path d="M860.0,1125.7 L868.2,1133.9 M860.0,1133.9 L868.2,1125.7" stroke="#d82a70" stroke-width="1.6" fill="none"/>
<path d="M879.5,1120.6 L887.7,1128.8 M879.5,1128.8 L887.7,1120.6" stroke="#d82a70" stroke-width="1.6" fill="none"/>
<path d="M899.1,1119.4 L907.3,1127.6 M899.1,1127.6 L907.3,1119.4" stroke="#d82a70" stroke-width="1.6" fill="none"/>
<path d="M918.7,1108.8 L926.9,1117.0 M918.7,1117.0 L926.9,1108.8" stroke="#d82a70" stroke-width="1.6" fill="none"/>
<path d="M938.2,1102.0 L946.4,1110.2 M938.2,1110.2 L946.4,1102.0" stroke="#d82a70" stroke-width="1.6" fill="none"/>
<path d="M957.8,1112.1 L966.0,1120.3 M957.8,1120.3 L966.0,1112.1" stroke="#d82a70" stroke-width="1.6" fill="none"/>
<path d="M977.3,1109.6 L985.5,1117.8 M977.3,1117.8 L985.5,1109.6" stroke="#d82a70" stroke-width="1.6" fill="none"/>
<circle cx="805.4" cy="1028.7" r="3.7" fill="none" stroke="#151515" stroke-width="1.6"/>
<circle cx="825.0" cy="988.4" r="3.7" fill="none" stroke="#151515" stroke-width="1.6"/>
<circle cx="844.5" cy="916.4" r="3.7" fill="none" stroke="#151515" stroke-width="1.6"/>
<circle cx="864.1" cy="976.9" r="3.7" fill="none" stroke="#151515" stroke-width="1.6"/>
<circle cx="883.6" cy="931.1" r="3.7" fill="none" stroke="#151515" stroke-width="1.6"/>
<circle cx="903.2" cy="979.9" r="3.7" fill="none" stroke="#151515" stroke-width="1.6"/>
<circle cx="922.8" cy="954.0" r="3.7" fill="none" stroke="#151515" stroke-width="1.6"/>
<circle cx="942.3" cy="1019.2" r="3.7" fill="none" stroke="#151515" stroke-width="1.6"/>
<circle cx="961.9" cy="1071.4" r="3.7" fill="none" stroke="#151515" stroke-width="1.6"/>
<circle cx="981.4" cy="1061.2" r="3.7" fill="none" stroke="#151515" stroke-width="1.6"/>
<path d="M801.3,1113.8 L809.5,1122.0 M801.3,1122.0 L809.5,1113.8" stroke="#151515" stroke-width="1.6" fill="none"/>
<path d="M820.9,1076.6 L829.1,1084.8 M820.9,1084.8 L829.1,1076.6" stroke="#151515" stroke-width="1.6" fill="none"/>
<path d="M840.4,1088.9 L848.6,1097.1 M840.4,1097.1 L848.6,1088.9" stroke="#151515" stroke-width="1.6" fill="none"/>
<path d="M860.0,1098.1 L868.2,1106.3 M860.0,1106.3 L868.2,1098.1" stroke="#151515" stroke-width="1.6" fill="none"/>
<path d="M879.5,1109.6 L887.7,1117.8 M879.5,1117.8 L887.7,1109.6" stroke="#151515" stroke-width="1.6" fill="none"/>
<path d="M899.1,1121.5 L907.3,1129.7 M899.1,1129.7 L907.3,1121.5" stroke="#151515" stroke-width="1.6" fill="none"/>
<path d="M918.7,1113.0 L926.9,1121.2 M918.7,1121.2 L926.9,1113.0" stroke="#151515" stroke-width="1.6" fill="none"/>
<path d="M938.2,1122.8 L946.4,1131.0 M938.2,1131.0 L946.4,1122.8" stroke="#151515" stroke-width="1.6" fill="none"/>
<path d="M957.8,1130.8 L966.0,1139.0 M957.8,1139.0 L966.0,1130.8" stroke="#151515" stroke-width="1.6" fill="none"/>
<path d="M977.3,1139.2 L985.5,1147.4 M977.3,1147.4 L985.5,1139.2" stroke="#151515" stroke-width="1.6" fill="none"/>
<circle cx="1001.0" cy="1060.4" r="3.7" fill="none" stroke="#26807e" stroke-width="1.6"/>
<circle cx="1020.6" cy="1043.5" r="3.7" fill="none" stroke="#26807e" stroke-width="1.6"/>
<circle cx="1040.1" cy="1055.1" r="3.7" fill="none" stroke="#26807e" stroke-width="1.6"/>
<circle cx="1059.7" cy="1073.7" r="3.7" fill="none" stroke="#26807e" stroke-width="1.6"/>
<circle cx="1079.2" cy="1091.4" r="3.7" fill="none" stroke="#26807e" stroke-width="1.6"/>
<circle cx="1098.8" cy="1120.1" r="3.7" fill="none" stroke="#26807e" stroke-width="1.6"/>
<circle cx="1118.4" cy="1145.1" r="3.7" fill="none" stroke="#26807e" stroke-width="1.6"/>
<circle cx="1137.9" cy="1135.6" r="3.7" fill="none" stroke="#26807e" stroke-width="1.6"/>
<circle cx="1157.5" cy="1140.8" r="3.7" fill="none" stroke="#26807e" stroke-width="1.6"/>
<circle cx="1177.0" cy="1143.4" r="3.7" fill="none" stroke="#26807e" stroke-width="1.6"/>
<path d="M996.9,1141.0 L1005.1,1149.2 M996.9,1149.2 L1005.1,1141.0" stroke="#26807e" stroke-width="1.6" fill="none"/>
<path d="M1016.5,1141.9 L1024.7,1150.1 M1016.5,1150.1 L1024.7,1141.9" stroke="#26807e" stroke-width="1.6" fill="none"/>
<path d="M1036.0,1137.6 L1044.2,1145.8 M1036.0,1145.8 L1044.2,1137.6" stroke="#26807e" stroke-width="1.6" fill="none"/>
<path d="M1055.6,1144.4 L1063.8,1152.6 M1055.6,1152.6 L1063.8,1144.4" stroke="#26807e" stroke-width="1.6" fill="none"/>
<path d="M1075.1,1147.0 L1083.3,1155.2 M1075.1,1155.2 L1083.3,1147.0" stroke="#26807e" stroke-width="1.6" fill="none"/>
<path d="M1094.7,1150.5 L1102.9,1158.7 M1094.7,1158.7 L1102.9,1150.5" stroke="#26807e" stroke-width="1.6" fill="none"/>
<path d="M1114.3,1147.0 L1122.5,1155.2 M1114.3,1155.2 L1122.5,1147.0" stroke="#26807e" stroke-width="1.6" fill="none"/>
<path d="M1133.8,1151.3 L1142.0,1159.5 M1133.8,1159.5 L1142.0,1151.3" stroke="#26807e" stroke-width="1.6" fill="none"/>
<path d="M1153.4,1148.8 L1161.6,1157.0 M1153.4,1157.0 L1161.6,1148.8" stroke="#26807e" stroke-width="1.6" fill="none"/>
<path d="M1172.9,1152.2 L1181.1,1160.4 M1172.9,1160.4 L1181.1,1152.2" stroke="#26807e" stroke-width="1.6" fill="none"/>
<circle cx="1001.0" cy="1121.0" r="3.7" fill="none" stroke="#d82a70" stroke-width="1.6"/>
<circle cx="1020.6" cy="1127.0" r="3.7" fill="none" stroke="#d82a70" stroke-width="1.6"/>
<circle cx="1040.1" cy="1116.7" r="3.7" fill="none" stroke="#d82a70" stroke-width="1.6"/>
<circle cx="1059.7" cy="1112.4" r="3.7" fill="none" stroke="#d82a70" stroke-width="1.6"/>
<circle cx="1079.2" cy="1113.3" r="3.7" fill="none" stroke="#d82a70" stroke-width="1.6"/>
<circle cx="1098.8" cy="1094.0" r="3.7" fill="none" stroke="#d82a70" stroke-width="1.6"/>
<circle cx="1118.4" cy="1094.3" r="3.7" fill="none" stroke="#d82a70" stroke-width="1.6"/>
<circle cx="1137.9" cy="1108.6" r="3.7" fill="none" stroke="#d82a70" stroke-width="1.6"/>
<circle cx="1157.5" cy="1119.3" r="3.7" fill="none" stroke="#d82a70" stroke-width="1.6"/>
<circle cx="1177.0" cy="1132.2" r="3.7" fill="none" stroke="#d82a70" stroke-width="1.6"/>
<path d="M996.9,1123.8 L1005.1,1132.0 M996.9,1132.0 L1005.1,1123.8" stroke="#d82a70" stroke-width="1.6" fill="none"/>
<path d="M1016.5,1120.3 L1024.7,1128.5 M1016.5,1128.5 L1024.7,1120.3" stroke="#d82a70" stroke-width="1.6" fill="none"/>
<path d="M1036.0,1133.3 L1044.2,1141.5 M1036.0,1141.5 L1044.2,1133.3" stroke="#d82a70" stroke-width="1.6" fill="none"/>
<path d="M1055.6,1132.4 L1063.8,1140.6 M1055.6,1140.6 L1063.8,1132.4" stroke="#d82a70" stroke-width="1.6" fill="none"/>
<path d="M1075.1,1134.1 L1083.3,1142.3 M1075.1,1142.3 L1083.3,1134.1" stroke="#d82a70" stroke-width="1.6" fill="none"/>
<path d="M1094.7,1137.6 L1102.9,1145.8 M1094.7,1145.8 L1102.9,1137.6" stroke="#d82a70" stroke-width="1.6" fill="none"/>
<path d="M1114.3,1130.7 L1122.5,1138.9 M1114.3,1138.9 L1122.5,1130.7" stroke="#d82a70" stroke-width="1.6" fill="none"/>
<path d="M1133.8,1135.8 L1142.0,1144.0 M1133.8,1144.0 L1142.0,1135.8" stroke="#d82a70" stroke-width="1.6" fill="none"/>
<path d="M1153.4,1145.3 L1161.6,1153.5 M1153.4,1153.5 L1161.6,1145.3" stroke="#d82a70" stroke-width="1.6" fill="none"/>
<path d="M1172.9,1141.9 L1181.1,1150.1 M1172.9,1150.1 L1181.1,1141.9" stroke="#d82a70" stroke-width="1.6" fill="none"/>
<circle cx="1001.0" cy="1088.3" r="3.7" fill="none" stroke="#151515" stroke-width="1.6"/>
<circle cx="1020.6" cy="1108.6" r="3.7" fill="none" stroke="#151515" stroke-width="1.6"/>
<circle cx="1040.1" cy="1120.1" r="3.7" fill="none" stroke="#151515" stroke-width="1.6"/>
<circle cx="1059.7" cy="1104.1" r="3.7" fill="none" stroke="#151515" stroke-width="1.6"/>
<circle cx="1079.2" cy="1100.0" r="3.7" fill="none" stroke="#151515" stroke-width="1.6"/>
<circle cx="1098.8" cy="1106.4" r="3.7" fill="none" stroke="#151515" stroke-width="1.6"/>
<circle cx="1118.4" cy="1125.8" r="3.7" fill="none" stroke="#151515" stroke-width="1.6"/>
<circle cx="1137.9" cy="1127.0" r="3.7" fill="none" stroke="#151515" stroke-width="1.6"/>
<circle cx="1157.5" cy="1119.3" r="3.7" fill="none" stroke="#151515" stroke-width="1.6"/>
<circle cx="1177.0" cy="1132.2" r="3.7" fill="none" stroke="#151515" stroke-width="1.6"/>
<path d="M996.9,1137.6 L1005.1,1145.8 M996.9,1145.8 L1005.1,1137.6" stroke="#151515" stroke-width="1.6" fill="none"/>
<path d="M1016.5,1140.1 L1024.7,1148.3 M1016.5,1148.3 L1024.7,1140.1" stroke="#151515" stroke-width="1.6" fill="none"/>
<path d="M1036.0,1140.1 L1044.2,1148.3 M1036.0,1148.3 L1044.2,1140.1" stroke="#151515" stroke-width="1.6" fill="none"/>
<path d="M1055.6,1142.4 L1063.8,1150.6 M1055.6,1150.6 L1063.8,1142.4" stroke="#151515" stroke-width="1.6" fill="none"/>
<path d="M1075.1,1143.6 L1083.3,1151.8 M1075.1,1151.8 L1083.3,1143.6" stroke="#151515" stroke-width="1.6" fill="none"/>
<path d="M1094.7,1147.0 L1102.9,1155.2 M1094.7,1155.2 L1102.9,1147.0" stroke="#151515" stroke-width="1.6" fill="none"/>
<path d="M1114.3,1142.7 L1122.5,1150.9 M1114.3,1150.9 L1122.5,1142.7" stroke="#151515" stroke-width="1.6" fill="none"/>
<path d="M1133.8,1147.9 L1142.0,1156.1 M1133.8,1156.1 L1142.0,1147.9" stroke="#151515" stroke-width="1.6" fill="none"/>
<path d="M1153.4,1144.4 L1161.6,1152.6 M1153.4,1152.6 L1161.6,1144.4" stroke="#151515" stroke-width="1.6" fill="none"/>
<path d="M1172.9,1147.9 L1181.1,1156.1 M1172.9,1156.1 L1181.1,1147.9" stroke="#151515" stroke-width="1.6" fill="none"/>
<text x="280.3" y="1257" font-size="18.9"><tspan fill="#151515">O</tspan> No-intervention, 1 Day</text>
<text x="578.3" y="1257" font-size="18.9"><tspan fill="#d82a70">O</tspan> No-intervention, 6 Weeks</text>
<text x="904.6" y="1257" font-size="18.9"><tspan fill="#26807e">O</tspan> No-intervention, 6 Months</text>
<text x="256.7" y="1295.2" font-size="18.9"><tspan fill="#151515">X</tspan> Required intervention, 1 Day</text>
<text x="557" y="1295.2" font-size="18.9"><tspan fill="#d82a70">X</tspan> Required intervention, 6 Weeks</text>
<text x="882.5" y="1295.2" font-size="18.9"><tspan fill="#26807e">X</tspan> Required intervention, 6 Months</text>
<defs>
<pattern id="hpink" patternUnits="userSpaceOnUse" width="6" height="6" patternTransform="rotate(45)"><rect width="6" height="6" fill="#f07eae"/><rect x="0" y="0" width="1.6" height="6" fill="#fff"/></pattern>
<pattern id="hteal" patternUnits="userSpaceOnUse" width="6" height="6" patternTransform="rotate(45)"><rect width="6" height="6" fill="#8cc0c0"/><rect x="0" y="0" width="1.6" height="6" fill="#fff"/></pattern>
</defs>
<text x="153.2" y="1366.2" font-size="23.5" text-anchor="start" font-weight="bold" fill="#000" >C</text>
<line x1="306" y1="1408.2" x2="306" y2="1690.2" stroke="#000" stroke-width="2.4" />
<line x1="294" y1="1689" x2="586.2" y2="1689" stroke="#000" stroke-width="2.6" />
<line x1="294" y1="1689.0" x2="306" y2="1689.0" stroke="#000" stroke-width="2.2" />
<text x="289.8" y="1696.3" font-size="20.3" text-anchor="end" font-weight="bold" fill="#000" >0</text>
<line x1="294" y1="1619.05" x2="306" y2="1619.05" stroke="#000" stroke-width="2.2" />
<text x="289.8" y="1626.35" font-size="20.3" text-anchor="end" font-weight="bold" fill="#000" >500</text>
<line x1="294" y1="1549.1" x2="306" y2="1549.1" stroke="#000" stroke-width="2.2" />
<text x="289.8" y="1556.3999999999999" font-size="20.3" text-anchor="end" font-weight="bold" fill="#000" >1000</text>
<line x1="294" y1="1479.15" x2="306" y2="1479.15" stroke="#000" stroke-width="2.2" />
<text x="289.8" y="1486.45" font-size="20.3" text-anchor="end" font-weight="bold" fill="#000" >1500</text>
<line x1="294" y1="1409.2" x2="306" y2="1409.2" stroke="#000" stroke-width="2.2" />
<text x="289.8" y="1416.5" font-size="20.3" text-anchor="end" font-weight="bold" fill="#000" >2000</text>
<text x="228.5" y="1549.6" font-size="23.5" font-weight="bold" text-anchor="middle" transform="rotate(-90 228.5 1549.6)">WSS (dyne/cm<tspan font-size="15" dy="-9">2</tspan><tspan dy="9">)</tspan></text>
<text x="445" y="1373" font-size="25.5" text-anchor="middle" font-weight="bold" fill="#000" >PV</text>
<line x1="332.2" y1="1605.1" x2="332.2" y2="1506.8" stroke="#000" stroke-width="4.7" />
<line x1="325.7" y1="1506.8" x2="338.7" y2="1506.8" stroke="#000" stroke-width="4.7" />
<line x1="332.2" y1="1676.8" x2="332.2" y2="1680" stroke="#000" stroke-width="3.6" />
<line x1="325.8" y1="1680" x2="338.59999999999997" y2="1680" stroke="#000" stroke-width="3.6" />
<rect x="318.9" y="1605.1" width="26.400000000000034" height="71.70000000000005" fill="#000" stroke="none" stroke-width="0" />
<rect x="323.59999999999997" y="1609.8" width="17.000000000000036" height="62.30000000000005" fill="#808080" stroke="none" stroke-width="0" />
<rect x="323.6" y="1666.1" width="17" height="6.0" fill="#000" stroke="none" stroke-width="0" />
<line x1="323.6" y1="1671.2" x2="340.6" y2="1671.2" stroke="#bdbdbd" stroke-width="1.2" />
<line x1="372" y1="1656" x2="372" y2="1609.8" stroke="#ec0f68" stroke-width="4.7" />
<line x1="365.3" y1="1609.8" x2="378.7" y2="1609.8" stroke="#ec0f68" stroke-width="4.7" />
<line x1="372" y1="1674.6" x2="372" y2="1678.1" stroke="#ec0f68" stroke-width="4.7" />
<line x1="365.3" y1="1678.1" x2="378.7" y2="1678.1" stroke="#ec0f68" stroke-width="4.7" />
<rect x="358.9" y="1656" width="26.100000000000023" height="18.59999999999991" fill="#ec0f68" stroke="none" stroke-width="0" />
<rect x="363.4" y="1660.5" width="17.100000000000023" height="9.599999999999909" fill="#ec0f68" stroke="none" stroke-width="0" />
<rect x="363.3" y="1659.7" width="17.1" height="7.8" fill="#f58ab6" stroke="none" stroke-width="0" />
<line x1="412" y1="1672.7" x2="412" y2="1629.2" stroke="#1a8385" stroke-width="4.7" />
<line x1="405.5" y1="1629.2" x2="418.5" y2="1629.2" stroke="#1a8385" stroke-width="4.7" />
<line x1="412" y1="1679.6" x2="412" y2="1681.8" stroke="#1a8385" stroke-width="4.7" />
<line x1="405.95" y1="1681.8" x2="418.05" y2="1681.8" stroke="#1a8385" stroke-width="4.7" />
<rect x="398.6" y="1672.5" width="26.399999999999977" height="7.099999999999909" fill="#1a8385" stroke="none" stroke-width="0" />
<line x1="478" y1="1684" x2="478" y2="1663" stroke="#000" stroke-width="4.7" />
<line x1="471.6" y1="1663" x2="484.4" y2="1663" stroke="#000" stroke-width="4.7" />
<rect x="464.7" y="1681.4" width="27.100000000000023" height="4.899999999999864" fill="#000" stroke="none" stroke-width="0" />
<line x1="518.3" y1="1625" x2="518.3" y2="1463.0" stroke="#ec0f68" stroke-width="4.7" />
<line x1="512.05" y1="1463.0" x2="524.55" y2="1463.0" stroke="#ec0f68" stroke-width="4.7" />
<line x1="518.3" y1="1672.9" x2="518.3" y2="1686.3" stroke="#ec0f68" stroke-width="4.7" />
<line x1="512.05" y1="1686.3" x2="524.55" y2="1686.3" stroke="#ec0f68" stroke-width="4.7" />
<rect x="505.2" y="1625" width="25.69999999999999" height="47.90000000000009" fill="#ec0f68" stroke="none" stroke-width="0" />
<rect x="509.5" y="1629.3" width="17.099999999999987" height="39.30000000000009" fill="url(#hpink)" stroke="none" stroke-width="0" />
<line x1="509.5" y1="1659.9" x2="526.6" y2="1659.9" stroke="#ec0f68" stroke-width="4.5" />
<line x1="557.5" y1="1643.8" x2="557.5" y2="1562.6" stroke="#1a8385" stroke-width="4.7" />
<line x1="551.05" y1="1562.6" x2="563.95" y2="1562.6" stroke="#1a8385" stroke-width="4.7" />
<line x1="557.5" y1="1683.9" x2="557.5" y2="1687" stroke="#1a8385" stroke-width="4.7" />
<line x1="551.05" y1="1687" x2="563.95" y2="1687" stroke="#1a8385" stroke-width="4.7" />
<rect x="544.3" y="1643.8" width="26.5" height="40.100000000000136" fill="#1a8385" stroke="none" stroke-width="0" />
<rect x="548.5999999999999" y="1648.1" width="17.9" height="31.500000000000135" fill="url(#hteal)" stroke="none" stroke-width="0" />
<rect x="548.6" y="1674.3" width="17.9" height="5.3" fill="#1a8385" stroke="none" stroke-width="0" />
<line x1="549" y1="1679.2" x2="566" y2="1679.2" stroke="#e8ffff" stroke-width="1.3" />
<path d="M332.5,1473.8 L332.5,1464.1 L479.5,1464.1 L479.5,1473.8" fill="none" stroke="#000" stroke-width="2.3"/>
<path d="M332.5,1497.1 L332.5,1487.8 L412,1487.8 L412,1497.1" fill="none" stroke="#000" stroke-width="2.3"/>
<path d="M372,1598.6 L372,1589.7 L412.9,1589.7 L412.9,1598.6" fill="none" stroke="#000" stroke-width="2.3"/>
<path d="M480.5,1434.4 L480.5,1425.2 L560.9,1425.2 L560.9,1434.4" fill="none" stroke="#000" stroke-width="2.3"/>
<path d="M480.5,1456.2 L480.5,1446.7 L518.4,1446.7 L518.4,1456.2" fill="none" stroke="#000" stroke-width="2.3"/>
<path d="M521.8,1456.2 L521.8,1446.7 L559.5,1446.7 L559.5,1456.2" fill="none" stroke="#000" stroke-width="2.3"/>
<path d="M406.4,1449.3 L406.4,1459.3 M402.07,1451.80 L410.73,1456.80 M402.07,1456.80 L410.73,1451.80" stroke="#000" stroke-width="1.9" stroke-linecap="round" fill="none"/>
<path d="M374.7,1474.4 L374.7,1484.4 M370.37,1476.90 L379.03,1481.90 M370.37,1481.90 L379.03,1476.90" stroke="#000" stroke-width="1.9" stroke-linecap="round" fill="none"/>
<path d="M393.4,1575.9 L393.4,1585.9 M389.07,1578.40 L397.73,1583.40 M389.07,1583.40 L397.73,1578.40" stroke="#000" stroke-width="1.9" stroke-linecap="round" fill="none"/>
<path d="M519.4,1411.8 L519.4,1421.8 M515.07,1414.30 L523.73,1419.30 M515.07,1419.30 L523.73,1414.30" stroke="#000" stroke-width="1.9" stroke-linecap="round" fill="none"/>
<path d="M499.3,1433.4 L499.3,1443.4 M494.97,1435.90 L503.63,1440.90 M494.97,1440.90 L503.63,1435.90" stroke="#000" stroke-width="1.9" stroke-linecap="round" fill="none"/>
<path d="M540.7,1433.4 L540.7,1443.4 M536.37,1435.90 L545.03,1440.90 M536.37,1440.90 L545.03,1435.90" stroke="#000" stroke-width="1.9" stroke-linecap="round" fill="none"/>
<text x="373.3" y="1711" font-size="16" text-anchor="middle" font-weight="bold" fill="#000" >No-intervention</text>
<text x="525.3" y="1711" font-size="16" text-anchor="middle" font-weight="bold" fill="#000" >Required</text>
<text x="525.3" y="1730" font-size="16" text-anchor="middle" font-weight="bold" fill="#000" >intervention</text>
<line x1="848.4" y1="1406.5" x2="848.4" y2="1689.2" stroke="#000" stroke-width="2.4" />
<line x1="837" y1="1688" x2="1130.2" y2="1688" stroke="#000" stroke-width="2.6" />
<line x1="837" y1="1688.0" x2="848.4" y2="1688.0" stroke="#000" stroke-width="2.2" />
<text x="832.9" y="1695.3" font-size="20.3" text-anchor="end" font-weight="bold" fill="#000" >0</text>
<line x1="837" y1="1617.875" x2="848.4" y2="1617.875" stroke="#000" stroke-width="2.2" />
<text x="832.9" y="1625.175" font-size="20.3" text-anchor="end" font-weight="bold" fill="#000" >500</text>
<line x1="837" y1="1547.75" x2="848.4" y2="1547.75" stroke="#000" stroke-width="2.2" />
<text x="832.9" y="1555.05" font-size="20.3" text-anchor="end" font-weight="bold" fill="#000" >1000</text>
<line x1="837" y1="1477.625" x2="848.4" y2="1477.625" stroke="#000" stroke-width="2.2" />
<text x="832.9" y="1484.925" font-size="20.3" text-anchor="end" font-weight="bold" fill="#000" >1500</text>
<line x1="837" y1="1407.5" x2="848.4" y2="1407.5" stroke="#000" stroke-width="2.2" />
<text x="832.9" y="1414.8" font-size="20.3" text-anchor="end" font-weight="bold" fill="#000" >2000</text>
<text x="773" y="1546.8" font-size="23.5" font-weight="bold" text-anchor="middle" transform="rotate(-90 773 1546.8)">WSS (dyne/cm<tspan font-size="15" dy="-9">2</tspan><tspan dy="9">)</tspan></text>
<text x="989.3" y="1371.8" font-size="25.5" text-anchor="middle" font-weight="bold" fill="#000" >PA</text>
<line x1="875.4" y1="1625.6" x2="875.4" y2="1457.5" stroke="#000" stroke-width="4.7" />
<line x1="868.9" y1="1457.5" x2="881.9" y2="1457.5" stroke="#000" stroke-width="4.7" />
<line x1="875.4" y1="1679.6" x2="875.4" y2="1685.2" stroke="#000" stroke-width="4.7" />
<line x1="868.9" y1="1685.2" x2="881.9" y2="1685.2" stroke="#000" stroke-width="4.7" />
<rect x="862" y="1625.6" width="26.799999999999955" height="54.0" fill="#000" stroke="none" stroke-width="0" />
<rect x="866.7" y="1630.3" width="17.399999999999956" height="44.6" fill="#808080" stroke="none" stroke-width="0" />
<line x1="866.7" y1="1664.7" x2="884.0999999999999" y2="1664.7" stroke="#000" stroke-width="4" />
<line x1="915.4" y1="1658.2" x2="915.4" y2="1542.2" stroke="#ec0f68" stroke-width="4.7" />
<line x1="908.85" y1="1542.2" x2="921.9499999999999" y2="1542.2" stroke="#ec0f68" stroke-width="4.7" />
<line x1="915.4" y1="1679.6" x2="915.4" y2="1684.3" stroke="#ec0f68" stroke-width="4.7" />
<line x1="908.85" y1="1684.3" x2="921.9499999999999" y2="1684.3" stroke="#ec0f68" stroke-width="4.7" />
<rect x="901.8" y="1658.2" width="26.700000000000045" height="21.399999999999864" fill="#ec0f68" stroke="none" stroke-width="0" />
<rect x="906.0999999999999" y="1662.5" width="18.100000000000044" height="12.799999999999864" fill="#ec0f68" stroke="none" stroke-width="0" />
<rect x="906.1" y="1662.3" width="18.1" height="7.6" fill="#f58ab6" stroke="none" stroke-width="0" />
<line x1="906.1" y1="1674.9" x2="924.2" y2="1674.9" stroke="#fcd0e0" stroke-width="1.2" />
<line x1="955.3" y1="1663.8" x2="955.3" y2="1545.3999999999999" stroke="#1a8385" stroke-width="4.7" />
<line x1="949.0" y1="1545.3999999999999" x2="961.5999999999999" y2="1545.3999999999999" stroke="#1a8385" stroke-width="4.7" />
<line x1="955.3" y1="1684.7" x2="955.3" y2="1686" stroke="#1a8385" stroke-width="4.7" />
<line x1="949.0" y1="1686" x2="961.5999999999999" y2="1686" stroke="#1a8385" stroke-width="4.7" />
<rect x="942" y="1663.8" width="26.5" height="20.90000000000009" fill="#1a8385" stroke="none" stroke-width="0" />
<rect x="946.3" y="1668.1" width="17.9" height="12.300000000000091" fill="#1a8385" stroke="none" stroke-width="0" />
<rect x="946.3" y="1667.8" width="17.9" height="7.1" fill="#86bebe" stroke="none" stroke-width="0" />
<line x1="946.3" y1="1680" x2="964.2" y2="1680" stroke="#d8f0f0" stroke-width="1.2" />
<line x1="1022.2" y1="1674.5" x2="1022.2" y2="1602.3" stroke="#000" stroke-width="4.7" />
<line x1="1015.6500000000001" y1="1602.3" x2="1028.75" y2="1602.3" stroke="#000" stroke-width="4.7" />
<line x1="1022.2" y1="1681.8" x2="1022.2" y2="1685.6" stroke="#000" stroke-width="4" />
<line x1="1015.6500000000001" y1="1685.6" x2="1028.75" y2="1685.6" stroke="#000" stroke-width="4" />
<rect x="1008.7" y="1674.5" width="26.700000000000045" height="7.2999999999999545" fill="#000" stroke="none" stroke-width="0" />
<line x1="1062" y1="1668.4" x2="1062" y2="1636.8" stroke="#ec0f68" stroke-width="4.7" />
<line x1="1055.7" y1="1636.8" x2="1068.3" y2="1636.8" stroke="#ec0f68" stroke-width="4.7" />
<line x1="1062" y1="1684.5" x2="1062" y2="1686" stroke="#ec0f68" stroke-width="4.7" />
<line x1="1055.7" y1="1686" x2="1068.3" y2="1686" stroke="#ec0f68" stroke-width="4.7" />
<rect x="1048.3" y="1668.4" width="26.799999999999955" height="16.09999999999991" fill="#ec0f68" stroke="none" stroke-width="0" />
<rect x="1053.1" y="1673.2" width="17.199999999999953" height="6.499999999999909" fill="url(#hpink)" stroke="none" stroke-width="0" />
<line x1="1102.1" y1="1671.8" x2="1102.1" y2="1611" stroke="#1a8385" stroke-width="4.7" />
<line x1="1095.8" y1="1611" x2="1108.3999999999999" y2="1611" stroke="#1a8385" stroke-width="4.7" />
<line x1="1102.1" y1="1683.2" x2="1102.1" y2="1686" stroke="#1a8385" stroke-width="4.7" />
<line x1="1095.8" y1="1686" x2="1108.3999999999999" y2="1686" stroke="#1a8385" stroke-width="4.7" />
<rect x="1088.9" y="1671.8" width="25.699999999999818" height="11.400000000000091" fill="#1a8385" stroke="none" stroke-width="0" />
<rect x="1093.2" y="1676.1" width="17.099999999999817" height="2.8000000000000913" fill="#1a8385" stroke="none" stroke-width="0" />
<line x1="1093.2" y1="1676.8" x2="1110.3" y2="1676.8" stroke="#fff" stroke-width="1.2" />
<path d="M874.5,1429.1 L874.5,1419.8 L1021.9,1419.8 L1021.9,1429.1" fill="none" stroke="#000" stroke-width="2.3"/>
<path d="M874.5,1449.6 L874.5,1439.9 L955.5,1439.9 L955.5,1449.6" fill="none" stroke="#000" stroke-width="2.3"/>
<path d="M949,1406.4 L949,1416.4 M944.67,1408.90 L953.33,1413.90 M944.67,1413.90 L953.33,1408.90" stroke="#000" stroke-width="1.9" stroke-linecap="round" fill="none"/>
<path d="M917.3,1426.9 L917.3,1436.9 M912.97,1429.40 L921.63,1434.40 M912.97,1434.40 L921.63,1429.40" stroke="#000" stroke-width="1.9" stroke-linecap="round" fill="none"/>
<text x="916.1" y="1710.5" font-size="16" text-anchor="middle" font-weight="bold" fill="#000" >No-intervention</text>
<text x="1069.2" y="1710.5" font-size="16" text-anchor="middle" font-weight="bold" fill="#000" >Required</text>
<text x="1069" y="1729" font-size="16" text-anchor="middle" font-weight="bold" fill="#000" >intervention</text>
<text x="710.2" y="1741.6" font-size="17.8" text-anchor="middle" font-weight="normal" fill="#000" >Scan time</text>
<rect x="565.8" y="1752" width="19.5" height="15.5" fill="#7a7a7a" stroke="#333" stroke-width="1.8" />
<text x="595.2" y="1765.8" font-size="17.2" text-anchor="start" font-weight="normal" fill="#000" >1 Day</text>
<rect x="654.2" y="1752" width="19.2" height="15.5" fill="#f56ea4" stroke="#e0106a" stroke-width="1.8" />
<text x="682" y="1765.8" font-size="17.8" text-anchor="start" font-weight="normal" fill="#000" >6 Weeks</text>
<rect x="767.9" y="1752" width="19.5" height="15.5" fill="#74b8b8" stroke="#1e8284" stroke-width="1.8" />
<text x="796.5" y="1765.8" font-size="17.8" text-anchor="start" font-weight="normal" fill="#000" >6 months</text>
</svg></body></html>
